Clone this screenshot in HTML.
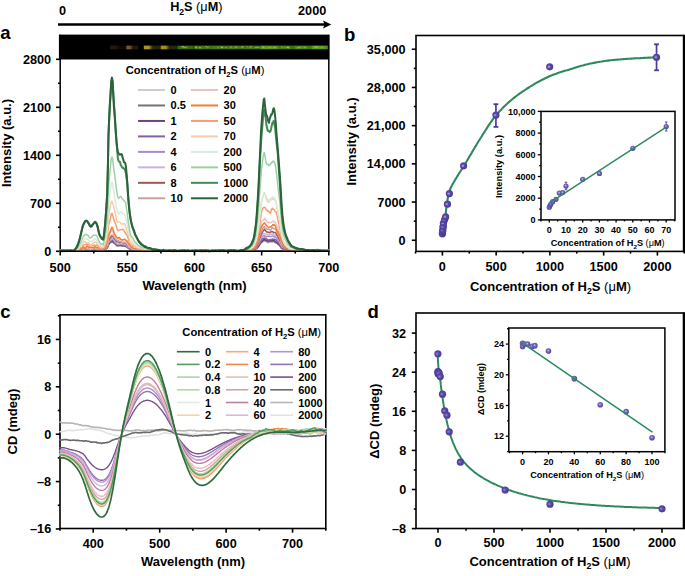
<!DOCTYPE html>
<html><head><meta charset="utf-8"><style>
html,body{margin:0;padding:0;background:#fff;}
body{width:685px;height:576px;overflow:hidden;}
svg{display:block;font-family:"Liberation Sans", sans-serif;}
</style></head><body>
<svg width="685" height="576" viewBox="0 0 685 576" font-family='"Liberation Sans", sans-serif'>
<rect width="685" height="576" fill="#fff"/>
<defs>
<radialGradient id="ball" cx="0.4" cy="0.45" r="0.65">
<stop offset="0" stop-color="#7a6ac0"/>
<stop offset="0.4" stop-color="#5846a6"/>
<stop offset="1" stop-color="#483896"/>
</radialGradient>
<radialGradient id="ball2" cx="0.45" cy="0.42" r="0.6">
<stop offset="0" stop-color="#d8d2f0"/>
<stop offset="0.35" stop-color="#7a6ac0"/>
<stop offset="1" stop-color="#4e3e9e"/>
</radialGradient>
</defs>
<text x="0.2" y="38.6" font-size="18.5" text-anchor="start" font-weight="bold" >a</text>
<text x="344" y="41" font-size="18.5" text-anchor="start" font-weight="bold" >b</text>
<text x="0.2" y="318.2" font-size="18.5" text-anchor="start" font-weight="bold" >c</text>
<text x="367.6" y="317.9" font-size="18.5" text-anchor="start" font-weight="bold" >d</text>
<text x="59" y="15.3" font-size="12.7" text-anchor="start" font-weight="bold" >0</text>
<text x="326.3" y="15.3" font-size="12.7" text-anchor="end" font-weight="bold" >2000</text>
<text x="196.3" y="11.3" font-size="12.7" text-anchor="middle" font-weight="bold" >H<tspan font-size="8.64" dy="3.43">2</tspan><tspan dy="-3.43">S </tspan><tspan font-weight="normal">(μ</tspan>M<tspan font-weight="normal">)</tspan></text>
<line x1="58" y1="24.5" x2="325" y2="24.5" stroke="#000" stroke-width="2.5" />
<path d="M323,20.6 L331.3,24.5 L323,28.4 L324.6,24.5 Z" fill="#000"/>
<rect x="58.9" y="34.599999999999994" width="270.3" height="24.9" fill="#000"/>
<defs><linearGradient id="sg0" x1="0" x2="1" y1="0" y2="0"><stop offset="0" stop-color="#201808"/><stop offset="0.35" stop-color="#201808"/><stop offset="0.55" stop-color="#100c04"/></linearGradient><linearGradient id="sg1" x1="0" x2="1" y1="0" y2="0"><stop offset="0" stop-color="#7a5a1c"/><stop offset="0.3" stop-color="#7a5a1c"/><stop offset="0.55" stop-color="#1c1a10"/></linearGradient><linearGradient id="sg2" x1="0" x2="1" y1="0" y2="0"><stop offset="0" stop-color="#a89820"/><stop offset="0.3" stop-color="#a89820"/><stop offset="0.55" stop-color="#2a2408"/></linearGradient><linearGradient id="sg3" x1="0" x2="1" y1="0" y2="0"><stop offset="0" stop-color="#a09018"/><stop offset="0.3" stop-color="#a09018"/><stop offset="0.55" stop-color="#2a2608"/></linearGradient><linearGradient id="sg4" x1="0" x2="1" y1="0" y2="0"><stop offset="0" stop-color="#3a6a12"/><stop offset="0.35" stop-color="#3a6a12"/><stop offset="1" stop-color="#3a6812"/></linearGradient><linearGradient id="sg5" x1="0" x2="1" y1="0" y2="0"><stop offset="0" stop-color="#3e7a14"/><stop offset="0.35" stop-color="#3e7a14"/><stop offset="1" stop-color="#3a7012"/></linearGradient><linearGradient id="sg6" x1="0" x2="1" y1="0" y2="0"><stop offset="0" stop-color="#3e7c14"/><stop offset="0.35" stop-color="#3e7c14"/><stop offset="1" stop-color="#3a7012"/></linearGradient><linearGradient id="sg7" x1="0" x2="1" y1="0" y2="0"><stop offset="0" stop-color="#427e14"/><stop offset="0.35" stop-color="#427e14"/><stop offset="1" stop-color="#3a7012"/></linearGradient><linearGradient id="sg8" x1="0" x2="1" y1="0" y2="0"><stop offset="0" stop-color="#3e7a14"/><stop offset="0.35" stop-color="#3e7a14"/><stop offset="1" stop-color="#3a7012"/></linearGradient><linearGradient id="sg9" x1="0" x2="1" y1="0" y2="0"><stop offset="0" stop-color="#58a01a"/><stop offset="0.35" stop-color="#58a01a"/><stop offset="1" stop-color="#4c8e18"/></linearGradient><linearGradient id="sg10" x1="0" x2="1" y1="0" y2="0"><stop offset="0" stop-color="#427e14"/><stop offset="0.35" stop-color="#427e14"/><stop offset="1" stop-color="#3a7012"/></linearGradient><linearGradient id="sg11" x1="0" x2="1" y1="0" y2="0"><stop offset="0" stop-color="#4a8a16"/><stop offset="0.35" stop-color="#4a8a16"/><stop offset="1" stop-color="#3e7814"/></linearGradient><linearGradient id="sg12" x1="0" x2="1" y1="0" y2="0"><stop offset="0" stop-color="#58a01a"/><stop offset="0.35" stop-color="#58a01a"/><stop offset="1" stop-color="#4c9018"/></linearGradient></defs>
<g filter="url(#blur1)">
<rect x="110" y="45.6" width="15.8" height="3.7" fill="url(#sg0)"/>
<rect x="126.3" y="45.6" width="12" height="3.7" fill="url(#sg1)"/>
<rect x="143.8" y="45.6" width="16.4" height="3.7" fill="url(#sg2)"/>
<rect x="160.6" y="45.6" width="16.3" height="3.7" fill="url(#sg3)"/>
<rect x="177.4" y="45.6" width="16.3" height="3.7" fill="url(#sg4)"/>
<rect x="181.29" y="46.15" width="2.31" height="1.3" fill="#98c060" opacity="0.71"/>
<rect x="184.75" y="46.82" width="1.92" height="1.3" fill="#98c060" opacity="0.53"/>
<rect x="182.26" y="46" width="1.28" height="1.3" fill="#98c060" opacity="0.63"/>
<rect x="184.14" y="46.96" width="1.24" height="1.3" fill="#98c060" opacity="0.42"/>
<rect x="183.79" y="46.65" width="1.44" height="1.3" fill="#98c060" opacity="0.56"/>
<rect x="186.2" y="46.24" width="1.4" height="1.3" fill="#98c060" opacity="0.41"/>
<rect x="182.66" y="46.1" width="1.22" height="1.3" fill="#98c060" opacity="0.73"/>
<rect x="194.1" y="45.6" width="17.7" height="3.7" fill="url(#sg5)"/>
<rect x="208.93" y="45.93" width="1.28" height="1.3" fill="#98c060" opacity="0.39"/>
<rect x="205.18" y="45.93" width="2.17" height="1.3" fill="#98c060" opacity="0.56"/>
<rect x="195.12" y="46.67" width="1.77" height="1.3" fill="#98c060" opacity="0.74"/>
<rect x="198.83" y="46.94" width="2.2" height="1.3" fill="#98c060" opacity="0.72"/>
<rect x="195.13" y="47.08" width="1.7" height="1.3" fill="#98c060" opacity="0.48"/>
<rect x="206.82" y="46.83" width="1.82" height="1.3" fill="#98c060" opacity="0.52"/>
<rect x="195.52" y="46.03" width="1.13" height="1.3" fill="#98c060" opacity="0.41"/>
<rect x="211.5" y="45.6" width="16.6" height="3.7" fill="url(#sg6)"/>
<rect x="225.33" y="46.88" width="1.95" height="1.3" fill="#98c060" opacity="0.55"/>
<rect x="220.95" y="47.01" width="2.22" height="1.3" fill="#98c060" opacity="0.71"/>
<rect x="223.47" y="46.33" width="1.14" height="1.3" fill="#98c060" opacity="0.32"/>
<rect x="219.77" y="45.96" width="2.19" height="1.3" fill="#98c060" opacity="0.38"/>
<rect x="217.36" y="46.85" width="1.37" height="1.3" fill="#98c060" opacity="0.46"/>
<rect x="221" y="46.6" width="1.74" height="1.3" fill="#98c060" opacity="0.72"/>
<rect x="225.05" y="46.91" width="1.17" height="1.3" fill="#98c060" opacity="0.46"/>
<rect x="227.8" y="45.6" width="16.7" height="3.7" fill="url(#sg7)"/>
<rect x="230.15" y="46.51" width="1.58" height="1.3" fill="#98c060" opacity="0.73"/>
<rect x="233.78" y="46.93" width="1.02" height="1.3" fill="#98c060" opacity="0.35"/>
<rect x="235.21" y="46.52" width="2.27" height="1.3" fill="#98c060" opacity="0.5"/>
<rect x="239.53" y="46.59" width="1.03" height="1.3" fill="#98c060" opacity="0.49"/>
<rect x="242" y="45.96" width="2.2" height="1.3" fill="#98c060" opacity="0.39"/>
<rect x="234.86" y="46.3" width="2.05" height="1.3" fill="#98c060" opacity="0.46"/>
<rect x="241.15" y="46.39" width="2.43" height="1.3" fill="#98c060" opacity="0.7"/>
<rect x="244.2" y="45.6" width="16.7" height="3.7" fill="url(#sg8)"/>
<rect x="249.63" y="46.53" width="1.12" height="1.3" fill="#98c060" opacity="0.6"/>
<rect x="257.17" y="46.82" width="2.45" height="1.3" fill="#98c060" opacity="0.64"/>
<rect x="254.71" y="46.82" width="2.05" height="1.3" fill="#98c060" opacity="0.74"/>
<rect x="250.21" y="46.19" width="1.12" height="1.3" fill="#98c060" opacity="0.4"/>
<rect x="250.07" y="45.97" width="2.22" height="1.3" fill="#98c060" opacity="0.5"/>
<rect x="256.1" y="45.98" width="1.4" height="1.3" fill="#98c060" opacity="0.41"/>
<rect x="246.34" y="46.1" width="2.21" height="1.3" fill="#98c060" opacity="0.39"/>
<rect x="260.6" y="45.6" width="17.6" height="3.7" fill="url(#sg9)"/>
<rect x="273.25" y="46.61" width="2.22" height="1.3" fill="#98c060" opacity="0.71"/>
<rect x="262.46" y="46.59" width="2.45" height="1.3" fill="#98c060" opacity="0.44"/>
<rect x="273.41" y="47.08" width="1.99" height="1.3" fill="#98c060" opacity="0.35"/>
<rect x="269.91" y="46.68" width="1.71" height="1.3" fill="#98c060" opacity="0.41"/>
<rect x="262.05" y="46.34" width="1.82" height="1.3" fill="#98c060" opacity="0.7"/>
<rect x="268.17" y="46.66" width="1.63" height="1.3" fill="#98c060" opacity="0.54"/>
<rect x="275.35" y="46.5" width="2.18" height="1.3" fill="#98c060" opacity="0.4"/>
<rect x="277.9" y="45.6" width="16.7" height="3.7" fill="url(#sg10)"/>
<rect x="286.99" y="46.81" width="2.12" height="1.3" fill="#98c060" opacity="0.75"/>
<rect x="281.83" y="46.41" width="1.64" height="1.3" fill="#98c060" opacity="0.44"/>
<rect x="283.8" y="46.55" width="1.72" height="1.3" fill="#98c060" opacity="0.42"/>
<rect x="280.7" y="46.06" width="1.45" height="1.3" fill="#98c060" opacity="0.44"/>
<rect x="288" y="47.1" width="1.9" height="1.3" fill="#98c060" opacity="0.55"/>
<rect x="286.25" y="46.77" width="1.96" height="1.3" fill="#98c060" opacity="0.58"/>
<rect x="286.79" y="46.33" width="1.91" height="1.3" fill="#98c060" opacity="0.65"/>
<rect x="294.3" y="45.6" width="17.7" height="3.7" fill="url(#sg11)"/>
<rect x="304.01" y="46.19" width="1.46" height="1.3" fill="#98c060" opacity="0.33"/>
<rect x="300.31" y="46.1" width="1.02" height="1.3" fill="#98c060" opacity="0.33"/>
<rect x="299.31" y="46.61" width="1.52" height="1.3" fill="#98c060" opacity="0.65"/>
<rect x="304.3" y="46.97" width="1.24" height="1.3" fill="#98c060" opacity="0.63"/>
<rect x="302.47" y="46.51" width="1.97" height="1.3" fill="#98c060" opacity="0.38"/>
<rect x="304.54" y="46.82" width="2.48" height="1.3" fill="#98c060" opacity="0.38"/>
<rect x="297.02" y="46.99" width="2.4" height="1.3" fill="#98c060" opacity="0.64"/>
<rect x="311.7" y="45.6" width="16.1" height="3.7" fill="url(#sg12)"/>
<rect x="322.43" y="46.87" width="1.21" height="1.3" fill="#98c060" opacity="0.39"/>
<rect x="314.68" y="45.9" width="1.61" height="1.3" fill="#98c060" opacity="0.68"/>
<rect x="314.76" y="46.6" width="2.11" height="1.3" fill="#98c060" opacity="0.65"/>
<rect x="320.38" y="46.36" width="2.44" height="1.3" fill="#98c060" opacity="0.52"/>
<rect x="317.03" y="46.26" width="2.11" height="1.3" fill="#98c060" opacity="0.66"/>
<rect x="313.8" y="46.43" width="1.35" height="1.3" fill="#98c060" opacity="0.36"/>
<rect x="315.3" y="46.35" width="2.26" height="1.3" fill="#98c060" opacity="0.4"/>
</g>
<defs><filter id="blur1" x="-0.1" y="-1" width="1.2" height="3"><feGaussianBlur stdDeviation="0.65"/></filter></defs>
<line x1="60.2" y1="34.8" x2="60.2" y2="252.1" stroke="#000" stroke-width="1.5" />
<line x1="328.8" y1="34.8" x2="328.8" y2="252.1" stroke="#000" stroke-width="1.5" />
<line x1="59.4" y1="251.3" x2="329.6" y2="251.3" stroke="#000" stroke-width="1.5" />
<line x1="56" y1="251.3" x2="60.2" y2="251.3" stroke="#000" stroke-width="1.6" />
<line x1="56" y1="203.3" x2="60.2" y2="203.3" stroke="#000" stroke-width="1.6" />
<line x1="56" y1="155.3" x2="60.2" y2="155.3" stroke="#000" stroke-width="1.6" />
<line x1="56" y1="107.3" x2="60.2" y2="107.3" stroke="#000" stroke-width="1.6" />
<line x1="56" y1="59.3" x2="60.2" y2="59.3" stroke="#000" stroke-width="1.6" />
<line x1="58" y1="227.3" x2="60.2" y2="227.3" stroke="#000" stroke-width="1.6" />
<line x1="58" y1="179.3" x2="60.2" y2="179.3" stroke="#000" stroke-width="1.6" />
<line x1="58" y1="131.3" x2="60.2" y2="131.3" stroke="#000" stroke-width="1.6" />
<line x1="58" y1="83.3" x2="60.2" y2="83.3" stroke="#000" stroke-width="1.6" />
<line x1="60.2" y1="251.3" x2="60.2" y2="255.5" stroke="#000" stroke-width="1.6" />
<line x1="127.35" y1="251.3" x2="127.35" y2="255.5" stroke="#000" stroke-width="1.6" />
<line x1="194.5" y1="251.3" x2="194.5" y2="255.5" stroke="#000" stroke-width="1.6" />
<line x1="261.65" y1="251.3" x2="261.65" y2="255.5" stroke="#000" stroke-width="1.6" />
<line x1="328.8" y1="251.3" x2="328.8" y2="255.5" stroke="#000" stroke-width="1.6" />
<line x1="93.78" y1="251.3" x2="93.78" y2="253.5" stroke="#000" stroke-width="1.6" />
<line x1="160.93" y1="251.3" x2="160.93" y2="253.5" stroke="#000" stroke-width="1.6" />
<line x1="228.07" y1="251.3" x2="228.07" y2="253.5" stroke="#000" stroke-width="1.6" />
<line x1="295.23" y1="251.3" x2="295.23" y2="253.5" stroke="#000" stroke-width="1.6" />
<text x="51.2" y="255.8" font-size="12.7" text-anchor="end" font-weight="bold" >0</text>
<text x="51.2" y="207.8" font-size="12.7" text-anchor="end" font-weight="bold" >700</text>
<text x="51.2" y="159.8" font-size="12.7" text-anchor="end" font-weight="bold" >1400</text>
<text x="51.2" y="111.8" font-size="12.7" text-anchor="end" font-weight="bold" >2100</text>
<text x="51.2" y="63.8" font-size="12.7" text-anchor="end" font-weight="bold" >2800</text>
<text x="60.2" y="271.6" font-size="12.7" text-anchor="middle" font-weight="bold" >500</text>
<text x="127.35" y="271.6" font-size="12.7" text-anchor="middle" font-weight="bold" >550</text>
<text x="194.5" y="271.6" font-size="12.7" text-anchor="middle" font-weight="bold" >600</text>
<text x="261.65" y="271.6" font-size="12.7" text-anchor="middle" font-weight="bold" >650</text>
<text x="328.8" y="271.6" font-size="12.7" text-anchor="middle" font-weight="bold" >700</text>
<text x="194.5" y="290.2" font-size="13" text-anchor="middle" font-weight="bold" >Wavelength (nm)</text>
<text transform="translate(10.8,143) rotate(-90)" font-size="13" text-anchor="middle" font-weight="bold">Intensity (a.u.)</text>
<text x="195" y="74.2" font-size="11.2" text-anchor="middle" font-weight="bold" >Concentration of H<tspan font-size="7.62" dy="3.02">2</tspan><tspan dy="-3.02">S </tspan><tspan font-weight="normal">(μ</tspan>M<tspan font-weight="normal">)</tspan></text>
<line x1="138" y1="90" x2="165" y2="90" stroke="#cdcdcd" stroke-width="2" />
<text x="170.6" y="94" font-size="11" text-anchor="start" font-weight="bold" >0</text>
<line x1="138" y1="105.47" x2="165" y2="105.47" stroke="#737373" stroke-width="2" />
<text x="170.6" y="109.47" font-size="11" text-anchor="start" font-weight="bold" >0.5</text>
<line x1="138" y1="120.94" x2="165" y2="120.94" stroke="#6a4478" stroke-width="2" />
<text x="170.6" y="124.94" font-size="11" text-anchor="start" font-weight="bold" >1</text>
<line x1="138" y1="136.41" x2="165" y2="136.41" stroke="#8a5ea3" stroke-width="2" />
<text x="170.6" y="140.41" font-size="11" text-anchor="start" font-weight="bold" >2</text>
<line x1="138" y1="151.88" x2="165" y2="151.88" stroke="#a98cc4" stroke-width="2" />
<text x="170.6" y="155.88" font-size="11" text-anchor="start" font-weight="bold" >4</text>
<line x1="138" y1="167.35" x2="165" y2="167.35" stroke="#cbb4da" stroke-width="2" />
<text x="170.6" y="171.35" font-size="11" text-anchor="start" font-weight="bold" >6</text>
<line x1="138" y1="182.82" x2="165" y2="182.82" stroke="#a55452" stroke-width="2" />
<text x="170.6" y="186.82" font-size="11" text-anchor="start" font-weight="bold" >8</text>
<line x1="138" y1="198.29" x2="165" y2="198.29" stroke="#c9a09e" stroke-width="2" />
<text x="170.6" y="202.29" font-size="11" text-anchor="start" font-weight="bold" >10</text>
<line x1="191" y1="90" x2="218" y2="90" stroke="#e7c5c2" stroke-width="2" />
<text x="223.6" y="94" font-size="11" text-anchor="start" font-weight="bold" >20</text>
<line x1="191" y1="105.47" x2="218" y2="105.47" stroke="#f07d3c" stroke-width="2" />
<text x="223.6" y="109.47" font-size="11" text-anchor="start" font-weight="bold" >30</text>
<line x1="191" y1="120.94" x2="218" y2="120.94" stroke="#f59f6d" stroke-width="2" />
<text x="223.6" y="124.94" font-size="11" text-anchor="start" font-weight="bold" >50</text>
<line x1="191" y1="136.41" x2="218" y2="136.41" stroke="#f9cba9" stroke-width="2" />
<text x="223.6" y="140.41" font-size="11" text-anchor="start" font-weight="bold" >70</text>
<line x1="191" y1="151.88" x2="218" y2="151.88" stroke="#d5eddd" stroke-width="2" />
<text x="223.6" y="155.88" font-size="11" text-anchor="start" font-weight="bold" >200</text>
<line x1="191" y1="167.35" x2="218" y2="167.35" stroke="#9fd0a3" stroke-width="2" />
<text x="223.6" y="171.35" font-size="11" text-anchor="start" font-weight="bold" >500</text>
<line x1="191" y1="182.82" x2="218" y2="182.82" stroke="#3f8c51" stroke-width="2" />
<text x="223.6" y="186.82" font-size="11" text-anchor="start" font-weight="bold" >1000</text>
<line x1="191" y1="198.29" x2="218" y2="198.29" stroke="#2e623c" stroke-width="2" />
<text x="223.6" y="202.29" font-size="11" text-anchor="start" font-weight="bold" >2000</text>
<path d="M60.2,250.3 60.9,250.6 61.5,250.8 62.2,250.8 62.9,250.8 63.6,250.9 64.2,251 64.9,250.9 65.6,250.8 66.2,250.6 66.9,250.8 67.6,250.8 68.3,250.7 68.9,250.7 69.6,251 70.3,250.9 70.9,250.9 71.6,250.6 72.3,250.9 73,250.7 73.6,250.7 74.3,250.5 75,250.4 75.6,250.4 76.3,250.5 77,250.8 77.7,251.1 78.3,250.6 79,250.5 79.7,250.2 80.3,250.1 81,250.1 81.7,249.8 82.4,250.1 83,249.8 83.7,250 84.4,249.4 85,249 85.7,248.8 86.4,248.9 87.1,249.2 87.7,249.1 88.4,249.4 89.1,249.7 89.7,250.1 90.4,250 91.1,249.4 91.8,249.1 92.4,249.1 93.1,249.1 93.8,249.1 94.4,249 95.1,249.2 95.8,249.3 96.5,249.4 97.1,249.8 97.8,249.8 98.5,249.9 99.1,249.6 99.8,249.9 100.5,250.2 101.2,250.5 101.8,250.2 102.5,250 103.2,250.1 103.8,250.4 104.5,250.2 105.2,249.7 105.9,249.3 106.5,248.5 107.2,247.9 107.9,246.3 108.5,244.8 109.2,243.6 109.9,243 110.6,242.5 111.2,242.1 111.9,241.9 112.6,242.5 113.2,243.1 113.9,243.4 114.6,243.5 115.3,244.3 115.9,245 116.6,245.6 117.3,245.8 117.9,245.7 118.6,245.4 119.3,245.3 120,245.4 120.6,245.6 121.3,245.8 122,245.9 122.6,246.2 123.3,246.3 124,246 124.7,245.8 125.3,245.9 126,246.6 126.7,247.3 127.4,247.6 128,247.9 128.7,248.5 129.4,248.8 130,249.2 130.7,249 131.4,249.2 132.1,249 132.7,249.4 133.4,249.6 134.1,249.9 134.7,249.7 135.4,249.7 136.1,250 136.8,250.2 137.4,250.3 138.1,250.3 138.8,250.4 139.4,250.2 140.1,250.3 140.8,250.3 141.5,250.5 142.1,250.5 142.8,250.4 143.5,250.4 144.1,250.3 144.8,250.3 145.5,250.3 146.2,250.3 146.8,250.5 147.5,250.7 148.2,250.8 148.8,250.7 149.5,250.8 150.2,251 150.9,251 151.5,251.1 152.2,251.1 152.9,251.1 153.5,251 154.2,250.7 154.9,250.8 155.6,250.9 156.2,251.1 156.9,251.1 157.6,251 158.2,250.9 158.9,250.9 159.6,251.1 160.3,251 160.9,251.2 161.6,251 162.3,250.9 162.9,250.5 163.6,250.2 164.3,250.6 165,250.6 165.6,250.7 166.3,250.3 167,250.6 167.6,250.7 168.3,250.6 169,250.6 169.7,250.6 170.3,250.7 171,250.6 171.7,250.6 172.3,250.9 173,250.9 173.7,251.1 174.4,251 175,250.9 175.7,250.6 176.4,250.8 177,250.8 177.7,250.8 178.4,250.6 179.1,250.7 179.7,250.8 180.4,250.9 181.1,250.7 181.7,250.7 182.4,250.5 183.1,250.5 183.8,250.8 184.4,251.2 185.1,251.1 185.8,250.9 186.4,250.5 187.1,250.6 187.8,250.7 188.5,250.7 189.1,250.8 189.8,251 190.5,250.9 191.1,251 191.8,250.6 192.5,250.8 193.2,250.5 193.8,250.8 194.5,250.8 195.2,251 195.8,251 196.5,251.2 197.2,250.9 197.9,250.6 198.5,250.5 199.2,250.7 199.9,250.7 200.5,251 201.2,251 201.9,250.9 202.6,250.8 203.2,250.6 203.9,250.8 204.6,250.8 205.2,250.9 205.9,250.9 206.6,250.7 207.3,250.7 207.9,250.4 208.6,250.5 209.3,250.6 209.9,251 210.6,250.9 211.3,250.8 212,250.8 212.6,250.8 213.3,250.8 214,250.7 214.6,250.7 215.3,250.7 216,250.7 216.7,250.5 217.3,250.5 218,250.4 218.7,250.5 219.3,250.7 220,250.8 220.7,250.8 221.4,251 222,250.9 222.7,250.8 223.4,250.5 224,250.8 224.7,250.6 225.4,250.8 226.1,250.7 226.7,251 227.4,251 228.1,251 228.7,250.8 229.4,250.7 230.1,250.7 230.8,250.5 231.4,250.7 232.1,250.8 232.8,251 233.4,250.8 234.1,250.5 234.8,250.4 235.5,250.7 236.1,250.8 236.8,250.7 237.5,250.5 238.1,250.6 238.8,250.8 239.5,250.8 240.2,250.7 240.8,250.7 241.5,250.4 242.2,250.4 242.8,250.5 243.5,250.6 244.2,250.5 244.9,250.5 245.5,250.6 246.2,251.1 246.9,250.9 247.5,250.9 248.2,250.8 248.9,251.1 249.6,251 250.2,250.6 250.9,250.3 251.6,250.1 252.2,250.3 252.9,250.3 253.6,250.1 254.3,249.7 254.9,249.3 255.6,248.9 256.3,248.7 256.9,248.2 257.6,247.7 258.3,246.4 259,245.4 259.6,244.3 260.3,243.8 261,242.8 261.6,242.5 262.3,242.1 263,241.7 263.7,241.1 264.3,240.8 265,241.1 265.7,241.3 266.4,241.8 267,242.3 267.7,242.8 268.4,242.9 269,242.4 269.7,242.1 270.4,241.9 271.1,242.2 271.7,241.6 272.4,241.4 273.1,241.4 273.7,241.9 274.4,241.8 275.1,241.9 275.8,242.4 276.4,243.2 277.1,243.8 277.8,244.2 278.4,244.8 279.1,245.3 279.8,245.8 280.5,246.3 281.1,247.3 281.8,248 282.5,248.6 283.1,249.2 283.8,249.5 284.5,249.8 285.2,249.7 285.8,250.1 286.5,250 287.2,250.2 287.8,249.8 288.5,250 289.2,250.3 289.9,250.8 290.5,250.8 291.2,250.8 291.9,250.6 292.5,250.4 293.2,250.1 293.9,250.3 294.6,250 295.2,250 295.9,250 296.6,250.7 297.2,251 297.9,250.9 298.6,251 299.3,250.9 299.9,251 300.6,250.8 301.3,250.7 301.9,250.5 302.6,250.5 303.3,250.6 304,250.8 304.6,250.9 305.3,250.9 306,250.7 306.6,250.7 307.3,251 308,251 308.7,251.2 309.3,250.8 310,250.7 310.7,250.4 311.3,250.6 312,251.1 312.7,250.9 313.4,250.8 314,250.5 314.7,250.5 315.4,250.5 316,250.7 316.7,250.9 317.4,251.3 318.1,251.5 318.7,251.4 319.4,251 320.1,250.7 320.7,250.7 321.4,250.7 322.1,250.6 322.8,250.7 323.4,250.8 324.1,251.1 324.8,250.9 325.4,250.8 326.1,250.5 326.8,250.5 327.5,250.3 328.1,250.4 328.8,250.6" fill="none" stroke="#cdcdcd" stroke-width="1.5" stroke-linejoin="round" stroke-linecap="round" />
<path d="M60.2,250.7 60.9,250.8 61.5,250.9 62.2,250.9 62.9,250.8 63.6,250.9 64.2,250.6 64.9,250.8 65.6,250.6 66.2,250.5 66.9,250.5 67.6,250.9 68.3,251.1 68.9,250.9 69.6,250.7 70.3,250.8 70.9,250.8 71.6,251.1 72.3,251.2 73,251.4 73.6,251 74.3,251 75,250.9 75.6,251 76.3,251 77,250.8 77.7,250.8 78.3,250.5 79,250.5 79.7,250.2 80.3,250 81,249.7 81.7,249.6 82.4,249.5 83,249.4 83.7,249.3 84.4,249.1 85,249.2 85.7,249.3 86.4,249.2 87.1,248.8 87.7,248.9 88.4,249 89.1,249.5 89.7,249.3 90.4,249.4 91.1,249.1 91.8,249.6 92.4,249.7 93.1,250 93.8,249.5 94.4,249.5 95.1,249.5 95.8,249.4 96.5,249.1 97.1,249.5 97.8,249.7 98.5,250.1 99.1,249.8 99.8,249.9 100.5,250.3 101.2,250.5 101.8,250.4 102.5,250 103.2,249.9 103.8,249.9 104.5,249.8 105.2,249.5 105.9,248.8 106.5,248.3 107.2,247.8 107.9,246.4 108.5,245.1 109.2,243.9 109.9,243 110.6,242.4 111.2,241.9 111.9,242.1 112.6,241.8 113.2,242.3 113.9,242.8 114.6,243.3 115.3,244.1 115.9,244.7 116.6,245.4 117.3,245.7 117.9,245.8 118.6,245.7 119.3,245.8 120,245.7 120.6,245.6 121.3,245.6 122,246 122.6,246.1 123.3,245.9 124,245.7 124.7,246.2 125.3,246.4 126,246.4 126.7,246.9 127.4,247.3 128,248.1 128.7,248.4 129.4,248.7 130,249.2 130.7,249.2 131.4,249.3 132.1,249.2 132.7,249.5 133.4,250 134.1,250.3 134.7,250.6 135.4,250.2 136.1,250.1 136.8,250.1 137.4,250.5 138.1,250.7 138.8,250.6 139.4,250.7 140.1,250.3 140.8,250.4 141.5,250.4 142.1,250.6 142.8,250.3 143.5,250 144.1,250.2 144.8,250.4 145.5,250.5 146.2,250.4 146.8,250.4 147.5,250.6 148.2,250.9 148.8,250.9 149.5,250.9 150.2,250.6 150.9,250.6 151.5,250.6 152.2,250.8 152.9,250.9 153.5,250.8 154.2,250.6 154.9,250.8 155.6,251 156.2,251.1 156.9,250.9 157.6,250.7 158.2,250.7 158.9,250.7 159.6,250.6 160.3,250.8 160.9,250.7 161.6,251 162.3,251 162.9,250.9 163.6,250.7 164.3,250.9 165,251.1 165.6,251.1 166.3,250.7 167,250.7 167.6,250.7 168.3,251.1 169,250.6 169.7,250.5 170.3,250.2 171,250.5 171.7,250.4 172.3,250.4 173,250.6 173.7,250.6 174.4,250.7 175,250.5 175.7,250.7 176.4,250.7 177,250.8 177.7,250.6 178.4,250.5 179.1,250.7 179.7,250.8 180.4,250.9 181.1,250.6 181.7,250.4 182.4,250.2 183.1,250.4 183.8,250.6 184.4,250.6 185.1,250.4 185.8,250.3 186.4,250.4 187.1,250.5 187.8,250.7 188.5,250.5 189.1,250.8 189.8,250.9 190.5,250.9 191.1,250.8 191.8,250.4 192.5,250.5 193.2,250.5 193.8,250.9 194.5,251.2 195.2,251.4 195.8,251.2 196.5,251.1 197.2,250.7 197.9,250.6 198.5,250.4 199.2,250.4 199.9,250.5 200.5,250.3 201.2,250.6 201.9,250.5 202.6,250.8 203.2,250.7 203.9,250.9 204.6,250.7 205.2,250.7 205.9,250.7 206.6,250.6 207.3,250.6 207.9,250.5 208.6,250.7 209.3,250.8 209.9,250.8 210.6,250.7 211.3,250.7 212,251 212.6,250.7 213.3,250.8 214,250.6 214.6,250.6 215.3,250.6 216,250.5 216.7,250.8 217.3,250.9 218,251.2 218.7,251.1 219.3,250.8 220,250.6 220.7,250.5 221.4,250.7 222,250.9 222.7,251.1 223.4,250.9 224,250.7 224.7,250.6 225.4,250.6 226.1,250.7 226.7,250.7 227.4,250.6 228.1,250.7 228.7,250.6 229.4,250.6 230.1,250.5 230.8,250.4 231.4,250.7 232.1,250.5 232.8,250.9 233.4,251 234.1,251.4 234.8,250.8 235.5,250.6 236.1,250.5 236.8,250.9 237.5,250.9 238.1,250.9 238.8,250.8 239.5,251 240.2,251.2 240.8,251 241.5,250.8 242.2,250.6 242.8,250.6 243.5,250.9 244.2,250.9 244.9,251 245.5,250.8 246.2,250.7 246.9,250.6 247.5,250.7 248.2,250.6 248.9,250.4 249.6,250.3 250.2,250.9 250.9,250.9 251.6,250.6 252.2,249.9 252.9,249.9 253.6,249.9 254.3,249.9 254.9,249.5 255.6,249.2 256.3,248.7 256.9,248.5 257.6,247.6 258.3,247 259,245.8 259.6,245 260.3,243.8 261,242.8 261.6,241.7 262.3,241.4 263,240.8 263.7,240.6 264.3,240.3 265,240.4 265.7,240.9 266.4,240.8 267,241.4 267.7,241.8 268.4,241.9 269,241.4 269.7,241 270.4,240.9 271.1,241.3 271.7,241.6 272.4,241.7 273.1,241.2 273.7,241.4 274.4,241.6 275.1,242.5 275.8,242.5 276.4,242.7 277.1,243.2 277.8,243.9 278.4,244.4 279.1,244.8 279.8,245.6 280.5,246.8 281.1,247.9 281.8,248.3 282.5,248.7 283.1,248.6 283.8,248.9 284.5,249.2 285.2,249.6 285.8,249.7 286.5,249.7 287.2,249.7 287.8,250.2 288.5,250.2 289.2,250.4 289.9,250.6 290.5,250.9 291.2,250.8 291.9,250.2 292.5,250.2 293.2,250.4 293.9,250.5 294.6,250.4 295.2,250.3 295.9,250.7 296.6,250.9 297.2,250.7 297.9,250.6 298.6,250.5 299.3,250.8 299.9,250.6 300.6,250.6 301.3,250.4 301.9,250.6 302.6,250.5 303.3,250.7 304,250.7 304.6,250.5 305.3,250.4 306,250.6 306.6,251 307.3,251 308,250.9 308.7,250.7 309.3,250.8 310,250.9 310.7,250.8 311.3,250.8 312,250.6 312.7,250.7 313.4,250.6 314,250.6 314.7,250.7 315.4,250.7 316,250.7 316.7,250.7 317.4,251.1 318.1,251.1 318.7,251.1 319.4,251 320.1,250.9 320.7,250.7 321.4,250.5 322.1,250.6 322.8,250.6 323.4,250.8 324.1,250.9 324.8,250.8 325.4,250.7 326.1,250.7 326.8,250.7 327.5,250.7 328.1,250.7 328.8,250.9" fill="none" stroke="#737373" stroke-width="1.5" stroke-linejoin="round" stroke-linecap="round" />
<path d="M60.2,251.1 60.9,250.9 61.5,250.6 62.2,250.8 62.9,250.9 63.6,251 64.2,250.9 64.9,250.8 65.6,250.8 66.2,250.9 66.9,250.8 67.6,250.7 68.3,250.8 68.9,250.7 69.6,250.6 70.3,250.4 70.9,250.5 71.6,250.7 72.3,250.9 73,250.8 73.6,251.1 74.3,251 75,251.1 75.6,250.6 76.3,250.5 77,250.5 77.7,250.8 78.3,250.8 79,250.5 79.7,250.1 80.3,249.9 81,249.9 81.7,249.7 82.4,249.4 83,249.3 83.7,249.2 84.4,249 85,248.7 85.7,248.7 86.4,248.9 87.1,249.1 87.7,249.1 88.4,249 89.1,248.7 89.7,249 90.4,249.2 91.1,249.2 91.8,248.9 92.4,249 93.1,249 93.8,248.9 94.4,248.8 95.1,249 95.8,249.3 96.5,249.4 97.1,249.5 97.8,249.2 98.5,249.1 99.1,249.1 99.8,249.5 100.5,249.8 101.2,250 101.8,249.8 102.5,250.1 103.2,250.3 103.8,250.6 104.5,249.9 105.2,249.3 105.9,248.6 106.5,248.3 107.2,247.7 107.9,246.1 108.5,244.3 109.2,243.3 109.9,242 110.6,241.2 111.2,240.6 111.9,240.7 112.6,240.8 113.2,241.1 113.9,241.7 114.6,242.3 115.3,242.8 115.9,243.6 116.6,244.4 117.3,245.4 117.9,245.3 118.6,245.3 119.3,245.1 120,245.4 120.6,245.2 121.3,245.2 122,245.2 122.6,245.2 123.3,245.4 124,245.6 124.7,245.4 125.3,245.4 126,245.6 126.7,246.6 127.4,247.1 128,247.4 128.7,247.7 129.4,248 130,248.5 130.7,249.1 131.4,249.4 132.1,249.2 132.7,249 133.4,249.2 134.1,249.4 134.7,249.7 135.4,249.8 136.1,250.2 136.8,250.2 137.4,250.3 138.1,250.2 138.8,250.1 139.4,249.9 140.1,249.7 140.8,249.9 141.5,250.3 142.1,250.6 142.8,250.8 143.5,250.7 144.1,250.5 144.8,250.4 145.5,250.4 146.2,250.4 146.8,250.5 147.5,250.7 148.2,250.5 148.8,250.3 149.5,250.3 150.2,250.7 150.9,251 151.5,250.8 152.2,250.5 152.9,250.3 153.5,250.2 154.2,250.2 154.9,250.2 155.6,250.3 156.2,250.4 156.9,250.5 157.6,250.9 158.2,251 158.9,250.7 159.6,250.6 160.3,250.6 160.9,250.7 161.6,250.7 162.3,250.6 162.9,250.6 163.6,250.5 164.3,250.3 165,250.6 165.6,250.7 166.3,250.7 167,250.5 167.6,250.4 168.3,250.3 169,250.4 169.7,250.5 170.3,250.8 171,250.7 171.7,250.7 172.3,250.6 173,250.8 173.7,250.9 174.4,251 175,250.9 175.7,250.8 176.4,250.8 177,250.8 177.7,250.7 178.4,250.4 179.1,250.3 179.7,250.5 180.4,250.7 181.1,250.9 181.7,250.8 182.4,250.4 183.1,250.1 183.8,250 184.4,250.1 185.1,250.6 185.8,250.8 186.4,251.1 187.1,250.7 187.8,250.4 188.5,250.4 189.1,250.6 189.8,250.8 190.5,250.7 191.1,250.8 191.8,251 192.5,250.8 193.2,250.9 193.8,250.6 194.5,250.7 195.2,250.5 195.8,250.4 196.5,250.5 197.2,250.7 197.9,250.9 198.5,251 199.2,250.9 199.9,251 200.5,250.8 201.2,250.9 201.9,251 202.6,250.9 203.2,250.5 203.9,250.8 204.6,250.7 205.2,250.7 205.9,250.6 206.6,251 207.3,251.1 207.9,251 208.6,250.7 209.3,250.7 209.9,250.7 210.6,250.7 211.3,250.7 212,250.5 212.6,250.3 213.3,250.1 214,250.2 214.6,250.5 215.3,250.4 216,250.4 216.7,250.3 217.3,250.8 218,250.7 218.7,250.9 219.3,250.8 220,251.1 220.7,251.1 221.4,251 222,251 222.7,251.1 223.4,251.1 224,251.1 224.7,251.1 225.4,251.2 226.1,251.2 226.7,251 227.4,251 228.1,250.7 228.7,250.7 229.4,250.7 230.1,250.8 230.8,251 231.4,251 232.1,251 232.8,251 233.4,250.7 234.1,250.5 234.8,250.7 235.5,250.8 236.1,250.9 236.8,250.6 237.5,250.8 238.1,250.7 238.8,250.9 239.5,250.4 240.2,250.6 240.8,250.7 241.5,250.9 242.2,250.6 242.8,250.5 243.5,250.8 244.2,250.9 244.9,251.1 245.5,250.9 246.2,251.1 246.9,251.1 247.5,251.2 248.2,251.1 248.9,250.9 249.6,250.7 250.2,250.5 250.9,250.6 251.6,250.5 252.2,250.2 252.9,249.7 253.6,249.5 254.3,249.3 254.9,249.1 255.6,248.5 256.3,247.9 256.9,247.4 257.6,247 258.3,246.1 259,244.7 259.6,243.3 260.3,242.9 261,242.2 261.6,242.3 262.3,241.1 263,240.5 263.7,239.5 264.3,239.6 265,239.6 265.7,240.1 266.4,240.1 267,240.5 267.7,240.5 268.4,240.7 269,240.9 269.7,241 270.4,240.8 271.1,240.6 271.7,240.3 272.4,240.2 273.1,240.1 273.7,240.3 274.4,240.7 275.1,241.2 275.8,241.5 276.4,242 277.1,242.7 277.8,243.3 278.4,243.9 279.1,244.4 279.8,245 280.5,245.4 281.1,246.5 281.8,247.3 282.5,248.4 283.1,248.7 283.8,248.9 284.5,248.8 285.2,249.2 285.8,249.5 286.5,249.7 287.2,249.7 287.8,249.6 288.5,250.1 289.2,249.9 289.9,250 290.5,249.9 291.2,250.3 291.9,250.5 292.5,250.6 293.2,250.4 293.9,250.5 294.6,250.5 295.2,250.6 295.9,250.4 296.6,250.6 297.2,250.9 297.9,251.3 298.6,251.1 299.3,251.2 299.9,250.9 300.6,250.8 301.3,250.6 301.9,250.8 302.6,250.8 303.3,250.7 304,250.6 304.6,250.7 305.3,250.6 306,250.9 306.6,250.6 307.3,251.2 308,251 308.7,251.4 309.3,250.8 310,251 310.7,250.5 311.3,250.9 312,250.4 312.7,250.6 313.4,250.4 314,250.6 314.7,250.3 315.4,250.2 316,250.6 316.7,250.8 317.4,250.8 318.1,250.8 318.7,250.8 319.4,251 320.1,250.8 320.7,250.9 321.4,250.8 322.1,250.7 322.8,250.9 323.4,250.8 324.1,250.9 324.8,250.8 325.4,250.6 326.1,250.5 326.8,250.6 327.5,250.9 328.1,251 328.8,251" fill="none" stroke="#6a4478" stroke-width="1.5" stroke-linejoin="round" stroke-linecap="round" />
<path d="M60.2,250.7 60.9,250.7 61.5,250.7 62.2,250.8 62.9,250.8 63.6,250.6 64.2,250.6 64.9,250.7 65.6,250.8 66.2,250.6 66.9,250.4 67.6,250.5 68.3,250.7 68.9,251.1 69.6,251.1 70.3,251.1 70.9,250.8 71.6,250.5 72.3,250.6 73,250.8 73.6,250.9 74.3,250.9 75,250.6 75.6,250.6 76.3,250.4 77,250.3 77.7,250.1 78.3,250.1 79,250 79.7,250 80.3,249.8 81,249.5 81.7,249.2 82.4,249.2 83,249.1 83.7,248.9 84.4,248.5 85,248.6 85.7,248.7 86.4,248.9 87.1,249 87.7,248.9 88.4,249 89.1,249 89.7,249.4 90.4,249.1 91.1,248.9 91.8,248.8 92.4,249.1 93.1,249.1 93.8,248.8 94.4,249 95.1,248.9 95.8,249.2 96.5,249.1 97.1,249.4 97.8,249.4 98.5,249.2 99.1,249.3 99.8,249.4 100.5,249.9 101.2,249.9 101.8,249.9 102.5,250.1 103.2,250.2 103.8,250 104.5,249.7 105.2,249.3 105.9,248.7 106.5,248.2 107.2,247.5 107.9,245.9 108.5,243.6 109.2,242.7 109.9,241.7 110.6,241 111.2,239.8 111.9,239.5 112.6,239.8 113.2,240.6 113.9,241.9 114.6,242.8 115.3,243.7 115.9,244.1 116.6,244.1 117.3,244.7 117.9,244.9 118.6,245.4 119.3,245.4 120,245.1 120.6,244.9 121.3,244.3 122,244.4 122.6,244.7 123.3,245.4 124,245.3 124.7,245.3 125.3,245.3 126,245.9 126.7,246.2 127.4,246.6 128,247.4 128.7,247.9 129.4,248.3 130,248.4 130.7,248.8 131.4,249.1 132.1,249.2 132.7,249.3 133.4,249.2 134.1,249.4 134.7,249.6 135.4,250 136.1,249.9 136.8,250.1 137.4,250 138.1,250.4 138.8,250.2 139.4,250.2 140.1,250.3 140.8,250.5 141.5,250.9 142.1,250.5 142.8,250.5 143.5,250.5 144.1,250.8 144.8,250.6 145.5,250.2 146.2,249.9 146.8,250.3 147.5,250.5 148.2,250.5 148.8,250.5 149.5,250.5 150.2,250.9 150.9,251 151.5,250.8 152.2,250.5 152.9,250.3 153.5,250.4 154.2,250.4 154.9,250.2 155.6,250.3 156.2,250.5 156.9,250.9 157.6,250.7 158.2,250.8 158.9,250.8 159.6,251 160.3,251 160.9,250.6 161.6,250.5 162.3,250.6 162.9,250.8 163.6,251 164.3,251.1 165,251 165.6,250.9 166.3,250.7 167,250.9 167.6,251.1 168.3,251 169,250.9 169.7,250.6 170.3,250.7 171,250.6 171.7,250.8 172.3,250.9 173,251 173.7,250.9 174.4,250.9 175,250.9 175.7,250.9 176.4,250.9 177,251 177.7,251 178.4,251 179.1,251.1 179.7,251.1 180.4,251.1 181.1,250.9 181.7,251.2 182.4,251 183.1,250.8 183.8,250.5 184.4,250.5 185.1,250.8 185.8,250.9 186.4,251 187.1,250.6 187.8,250.6 188.5,250.4 189.1,250.9 189.8,251 190.5,251.2 191.1,250.9 191.8,250.7 192.5,250.5 193.2,250.9 193.8,250.8 194.5,251 195.2,250.5 195.8,250.4 196.5,250.1 197.2,250.2 197.9,250.7 198.5,250.4 199.2,250.5 199.9,250.2 200.5,250.7 201.2,250.7 201.9,251 202.6,251 203.2,251 203.9,250.7 204.6,250.5 205.2,250.5 205.9,250.5 206.6,250.6 207.3,250.4 207.9,250.5 208.6,250.4 209.3,250.9 209.9,251 210.6,251.1 211.3,250.8 212,250.3 212.6,250 213.3,250.2 214,250.8 214.6,251.1 215.3,250.7 216,250.4 216.7,250.3 217.3,250.7 218,251 218.7,251.4 219.3,251.5 220,251.3 220.7,250.8 221.4,250.8 222,250.8 222.7,250.7 223.4,250.5 224,250.5 224.7,250.7 225.4,250.6 226.1,250.6 226.7,250.7 227.4,250.9 228.1,250.9 228.7,250.9 229.4,250.6 230.1,250.5 230.8,250.3 231.4,250.2 232.1,250.1 232.8,250 233.4,250.3 234.1,250.5 234.8,250.4 235.5,250.5 236.1,250.6 236.8,251 237.5,250.9 238.1,250.8 238.8,250.5 239.5,250.5 240.2,250.8 240.8,250.9 241.5,250.8 242.2,250.5 242.8,250.5 243.5,250.6 244.2,250.4 244.9,250.3 245.5,250.6 246.2,250.9 246.9,250.9 247.5,250.9 248.2,250.6 248.9,250.7 249.6,250.3 250.2,250.3 250.9,250.2 251.6,249.9 252.2,249.9 252.9,249.8 253.6,249.8 254.3,249.3 254.9,248.9 255.6,248.7 256.3,248.2 256.9,247.3 257.6,246 258.3,245.1 259,243.9 259.6,243.1 260.3,242.2 261,241 261.6,239.7 262.3,238.9 263,238.4 263.7,238.5 264.3,237.9 265,238.2 265.7,238.3 266.4,239.1 267,239.2 267.7,239.6 268.4,240.1 269,240.1 269.7,239.7 270.4,239.5 271.1,239.4 271.7,239.5 272.4,239.1 273.1,239.1 273.7,239.4 274.4,239.3 275.1,239.4 275.8,239.6 276.4,240.3 277.1,241 277.8,241.6 278.4,242.4 279.1,243.6 279.8,244.5 280.5,245.3 281.1,246 281.8,247.3 282.5,247.8 283.1,248.4 283.8,248.5 284.5,249 285.2,249.4 285.8,249.8 286.5,250 287.2,250 287.8,249.9 288.5,249.7 289.2,249.8 289.9,250 290.5,250.4 291.2,250.4 291.9,250.2 292.5,250.2 293.2,250.3 293.9,250.6 294.6,250.6 295.2,250.5 295.9,250.8 296.6,250.8 297.2,251 297.9,250.9 298.6,250.9 299.3,250.9 299.9,250.5 300.6,250.8 301.3,250.5 301.9,250.5 302.6,250.4 303.3,250.5 304,250.4 304.6,250.2 305.3,250.3 306,250.7 306.6,250.6 307.3,250.8 308,250.5 308.7,250.6 309.3,250.6 310,250.6 310.7,250.6 311.3,250.6 312,250.5 312.7,250.9 313.4,251 314,251.3 314.7,251 315.4,250.3 316,250.1 316.7,250.2 317.4,250.7 318.1,250.6 318.7,250.5 319.4,250.7 320.1,250.7 320.7,250.8 321.4,250.5 322.1,250.9 322.8,251.1 323.4,251.2 324.1,251.1 324.8,250.9 325.4,250.9 326.1,250.6 326.8,250.6 327.5,250.6 328.1,250.6 328.8,250.6" fill="none" stroke="#8a5ea3" stroke-width="1.5" stroke-linejoin="round" stroke-linecap="round" />
<path d="M60.2,250.9 60.9,250.4 61.5,250.2 62.2,250.1 62.9,250.4 63.6,250.7 64.2,250.8 64.9,250.9 65.6,250.6 66.2,250.8 66.9,251.1 67.6,251.3 68.3,251.1 68.9,250.4 69.6,250.2 70.3,250.4 70.9,250.8 71.6,251 72.3,250.9 73,251 73.6,251.1 74.3,251 75,250.8 75.6,250.5 76.3,250.5 77,250.1 77.7,250 78.3,250 79,250 79.7,250.1 80.3,249.8 81,249.9 81.7,249.5 82.4,249.4 83,248.9 83.7,248.8 84.4,248.6 85,248.7 85.7,248.7 86.4,248.7 87.1,248.9 87.7,249 88.4,249.3 89.1,249.4 89.7,249.2 90.4,249.2 91.1,248.9 91.8,248.9 92.4,248.8 93.1,249.1 93.8,249.1 94.4,249.2 95.1,249.4 95.8,249.6 96.5,249.3 97.1,249.1 97.8,249.1 98.5,249.4 99.1,249.9 99.8,250.1 100.5,250.4 101.2,250.1 101.8,250.1 102.5,249.9 103.2,249.9 103.8,249.6 104.5,249.2 105.2,248.7 105.9,248.3 106.5,247.9 107.2,247.1 107.9,244.9 108.5,242.4 109.2,241.3 109.9,240.6 110.6,240 111.2,239.2 111.9,239.1 112.6,239.3 113.2,239.7 113.9,240.2 114.6,240.6 115.3,241.8 115.9,242.8 116.6,243.6 117.3,243.8 117.9,244 118.6,243.9 119.3,244.1 120,243.9 120.6,243.9 121.3,244.1 122,244.3 122.6,244.6 123.3,244.3 124,244.6 124.7,244.6 125.3,244.8 126,245.5 126.7,246.4 127.4,247 128,247.2 128.7,247.3 129.4,247.8 130,248.4 130.7,248.8 131.4,249.2 132.1,249.2 132.7,249.4 133.4,249.4 134.1,249.7 134.7,249.9 135.4,250.4 136.1,250 136.8,250.1 137.4,249.9 138.1,250.5 138.8,250.5 139.4,250.5 140.1,250.3 140.8,250.2 141.5,250.1 142.1,250.3 142.8,250.4 143.5,250.3 144.1,250.3 144.8,250.2 145.5,250.7 146.2,250.7 146.8,250.7 147.5,250.2 148.2,250.7 148.8,250.8 149.5,251 150.2,250.6 150.9,250.7 151.5,250.7 152.2,250.6 152.9,250.5 153.5,250.6 154.2,250.7 154.9,250.8 155.6,250.8 156.2,250.8 156.9,251.1 157.6,250.9 158.2,251 158.9,250.8 159.6,251.2 160.3,251 160.9,251.1 161.6,250.9 162.3,251 162.9,251.1 163.6,251 164.3,250.7 165,250.5 165.6,250.5 166.3,250.8 167,250.9 167.6,250.9 168.3,250.8 169,250.7 169.7,250.7 170.3,250.6 171,250.8 171.7,250.9 172.3,250.9 173,250.8 173.7,250.6 174.4,250.8 175,251 175.7,251 176.4,251.1 177,250.9 177.7,250.8 178.4,250.6 179.1,250.8 179.7,250.8 180.4,250.8 181.1,250.4 181.7,250.5 182.4,250.7 183.1,250.8 183.8,251 184.4,250.8 185.1,251 185.8,250.9 186.4,250.8 187.1,250.6 187.8,250.6 188.5,250.7 189.1,251 189.8,251.2 190.5,251 191.1,250.7 191.8,250.3 192.5,250.6 193.2,250.7 193.8,251 194.5,250.9 195.2,250.8 195.8,250.8 196.5,250.8 197.2,250.9 197.9,250.8 198.5,250.7 199.2,250.3 199.9,250.5 200.5,250.8 201.2,251 201.9,251.1 202.6,250.8 203.2,250.9 203.9,250.7 204.6,251.1 205.2,251 205.9,251 206.6,250.6 207.3,250.6 207.9,250.6 208.6,251.1 209.3,251.2 209.9,251.4 210.6,251.1 211.3,250.9 212,250.7 212.6,250.9 213.3,250.8 214,251.1 214.6,250.6 215.3,250.6 216,250.5 216.7,250.7 217.3,250.8 218,250.8 218.7,250.9 219.3,250.8 220,250.7 220.7,250.5 221.4,250.6 222,250.6 222.7,250.8 223.4,250.3 224,250.5 224.7,250.4 225.4,250.8 226.1,250.5 226.7,250.6 227.4,251 228.1,251.3 228.7,251.3 229.4,251.2 230.1,251.1 230.8,250.8 231.4,250.5 232.1,250.6 232.8,250.6 233.4,250.7 234.1,250.4 234.8,250.5 235.5,250.7 236.1,250.8 236.8,250.6 237.5,250.5 238.1,250.3 238.8,250.3 239.5,250.3 240.2,250.7 240.8,251.1 241.5,251.1 242.2,250.7 242.8,250.9 243.5,250.5 244.2,250.2 244.9,250 245.5,250.6 246.2,251 246.9,250.8 247.5,250.3 248.2,250.1 248.9,250.1 249.6,250.5 250.2,250.5 250.9,250.2 251.6,249.9 252.2,249.7 252.9,249.6 253.6,249.4 254.3,249.3 254.9,248.9 255.6,248.6 256.3,247.5 256.9,246.8 257.6,245.5 258.3,244.6 259,242.8 259.6,241.4 260.3,239.6 261,238.4 261.6,237.5 262.3,236.9 263,236 263.7,235.5 264.3,235.5 265,236.2 265.7,236.3 266.4,236.7 267,236.6 267.7,236.2 268.4,236.3 269,236.2 269.7,236.5 270.4,236.4 271.1,236.4 271.7,236.2 272.4,235.8 273.1,236.2 273.7,236.5 274.4,237.1 275.1,236.9 275.8,237.1 276.4,237.9 277.1,238.6 277.8,239.9 278.4,240.8 279.1,241.8 279.8,242.9 280.5,243.9 281.1,245.5 281.8,246.7 282.5,247.4 283.1,247.7 283.8,248.2 284.5,248.9 285.2,248.8 285.8,249 286.5,249.1 287.2,249.6 287.8,249.8 288.5,249.9 289.2,250 289.9,249.8 290.5,249.9 291.2,249.9 291.9,250.2 292.5,250.2 293.2,250.4 293.9,250.5 294.6,250.4 295.2,250.4 295.9,250.5 296.6,250.6 297.2,250.7 297.9,250.7 298.6,250.8 299.3,250.5 299.9,250.4 300.6,250.3 301.3,250.2 301.9,250.2 302.6,250.5 303.3,250.9 304,250.8 304.6,250.6 305.3,250.3 306,250.5 306.6,250.5 307.3,250.6 308,250.1 308.7,250.2 309.3,250.3 310,250.9 310.7,251.1 311.3,251.2 312,251.1 312.7,251.2 313.4,251.2 314,251.1 314.7,250.9 315.4,250.6 316,250.6 316.7,250.5 317.4,250.5 318.1,250.7 318.7,250.9 319.4,251.2 320.1,251.1 320.7,251.1 321.4,250.9 322.1,250.6 322.8,250.3 323.4,250.2 324.1,250.5 324.8,250.8 325.4,250.8 326.1,250.7 326.8,250.8 327.5,250.7 328.1,250.8 328.8,250.8" fill="none" stroke="#a98cc4" stroke-width="1.5" stroke-linejoin="round" stroke-linecap="round" />
<path d="M60.2,250.3 60.9,250.2 61.5,250.4 62.2,250.7 62.9,251.2 63.6,251.2 64.2,251.3 64.9,251.2 65.6,251.3 66.2,251.2 66.9,250.9 67.6,250.5 68.3,250.4 68.9,250.5 69.6,251 70.3,250.9 70.9,251.1 71.6,251 72.3,251.3 73,250.9 73.6,251 74.3,250.9 75,251.1 75.6,250.7 76.3,250.5 77,250.4 77.7,250.4 78.3,250.2 79,250.1 79.7,250 80.3,249.7 81,249.6 81.7,249 82.4,249.2 83,249.2 83.7,249.3 84.4,249.1 85,248.7 85.7,248.8 86.4,248.6 87.1,249 87.7,248.7 88.4,248.8 89.1,248.8 89.7,248.6 90.4,248.7 91.1,248.5 91.8,249 92.4,248.9 93.1,249 93.8,248.7 94.4,248.7 95.1,248.8 95.8,249.3 96.5,249.5 97.1,249.6 97.8,249.3 98.5,249.3 99.1,249 99.8,249.1 100.5,249.2 101.2,249.5 101.8,249.5 102.5,249.6 103.2,249.8 103.8,249.7 104.5,249.3 105.2,248.5 105.9,247.6 106.5,246.7 107.2,246.4 107.9,244.4 108.5,242.5 109.2,240.8 109.9,240.2 110.6,239.8 111.2,239.5 111.9,239 112.6,238.4 113.2,238.6 113.9,239.7 114.6,240.8 115.3,241.7 115.9,242.1 116.6,242.9 117.3,243.5 117.9,244 118.6,243.8 119.3,243.6 120,243.3 120.6,243.6 121.3,243.6 122,243.9 122.6,243.7 123.3,243.7 124,243.9 124.7,243.9 125.3,244.2 126,244.5 126.7,244.9 127.4,245.4 128,246.1 128.7,247 129.4,247.3 130,247.8 130.7,248 131.4,248.8 132.1,249.3 132.7,249.6 133.4,249.6 134.1,249.4 134.7,249.4 135.4,249.4 136.1,249.5 136.8,249.4 137.4,249.6 138.1,249.8 138.8,250.1 139.4,250.2 140.1,250.1 140.8,250.3 141.5,250.2 142.1,250.4 142.8,250.6 143.5,250.5 144.1,250.6 144.8,250.3 145.5,250.5 146.2,250.7 146.8,250.7 147.5,250.7 148.2,250.3 148.8,250.3 149.5,250.6 150.2,250.6 150.9,250.5 151.5,250.2 152.2,250.3 152.9,250.5 153.5,250.6 154.2,250.7 154.9,250.2 155.6,250.3 156.2,250.4 156.9,250.9 157.6,250.7 158.2,250.6 158.9,250.9 159.6,250.9 160.3,250.8 160.9,250.5 161.6,250.6 162.3,250.8 162.9,250.9 163.6,250.9 164.3,250.8 165,250.6 165.6,250.7 166.3,250.5 167,250.6 167.6,250.9 168.3,250.9 169,251 169.7,250.6 170.3,250.7 171,250.4 171.7,250.6 172.3,250.9 173,251.1 173.7,251 174.4,250.8 175,250.8 175.7,250.6 176.4,250.6 177,250.4 177.7,250.6 178.4,250.8 179.1,251 179.7,251.1 180.4,250.9 181.1,250.8 181.7,251 182.4,251.2 183.1,251.1 183.8,251.1 184.4,251 185.1,250.7 185.8,250.5 186.4,250.5 187.1,250.8 187.8,250.6 188.5,250.4 189.1,250.4 189.8,250.8 190.5,251.2 191.1,251.2 191.8,251 192.5,251 193.2,251.2 193.8,251.2 194.5,251.2 195.2,251.3 195.8,251.3 196.5,250.9 197.2,250.6 197.9,250.5 198.5,250.3 199.2,250.2 199.9,250.4 200.5,250.3 201.2,250.2 201.9,250.1 202.6,250.5 203.2,250.7 203.9,251.1 204.6,251 205.2,251.4 205.9,251.2 206.6,251 207.3,250.6 207.9,250.4 208.6,250.5 209.3,250.5 209.9,250.8 210.6,250.7 211.3,250.7 212,250.5 212.6,250.3 213.3,250.3 214,250.6 214.6,250.8 215.3,250.6 216,250.4 216.7,250.4 217.3,250.5 218,250.4 218.7,250.8 219.3,250.7 220,250.8 220.7,250.3 221.4,250.6 222,250.7 222.7,250.7 223.4,250.8 224,250.7 224.7,250.8 225.4,250.4 226.1,250.4 226.7,250.4 227.4,250.6 228.1,250.7 228.7,250.6 229.4,250.5 230.1,250.7 230.8,250.9 231.4,251.1 232.1,251.2 232.8,251.1 233.4,251 234.1,251 234.8,251.1 235.5,251 236.1,250.9 236.8,250.7 237.5,251 238.1,251 238.8,251.1 239.5,250.6 240.2,250.4 240.8,250.6 241.5,250.8 242.2,250.7 242.8,250.3 243.5,250.5 244.2,250.7 244.9,250.4 245.5,250.4 246.2,250.3 246.9,250.6 247.5,250.6 248.2,250.7 248.9,250.4 249.6,249.9 250.2,249.9 250.9,250 251.6,250.2 252.2,250.2 252.9,249.8 253.6,249.1 254.3,248.3 254.9,248 255.6,247.5 256.3,246.8 256.9,245.7 257.6,244.9 258.3,243.7 259,241.8 259.6,239.7 260.3,238.1 261,236.7 261.6,235.6 262.3,234.4 263,233.7 263.7,233.6 264.3,233.8 265,233.9 265.7,234.1 266.4,234.2 267,234.4 267.7,234.7 268.4,235.3 269,235 269.7,234.6 270.4,234.2 271.1,234.4 271.7,234.1 272.4,233.6 273.1,233.5 273.7,234.5 274.4,235.1 275.1,235 275.8,235.3 276.4,236.2 277.1,237.6 277.8,238.4 278.4,239.1 279.1,240.4 279.8,241.7 280.5,243.3 281.1,244.6 281.8,246 282.5,246.8 283.1,247.3 283.8,247.6 284.5,247.9 285.2,248.3 285.8,248.6 286.5,249.1 287.2,249.2 287.8,249.4 288.5,249.6 289.2,249.9 289.9,249.9 290.5,250 291.2,250 291.9,250.6 292.5,250.7 293.2,250.5 293.9,250.1 294.6,249.9 295.2,250.1 295.9,250.2 296.6,250.6 297.2,250.6 297.9,250.5 298.6,250.4 299.3,250.5 299.9,250.6 300.6,250.5 301.3,250.3 301.9,250.5 302.6,250.3 303.3,250.7 304,250.7 304.6,251 305.3,250.8 306,250.8 306.6,250.6 307.3,250.6 308,250.2 308.7,250.3 309.3,250.3 310,250.6 310.7,250.5 311.3,250.5 312,250.8 312.7,251 313.4,250.9 314,250.6 314.7,250.5 315.4,250.5 316,250.5 316.7,250.7 317.4,250.6 318.1,250.5 318.7,250.3 319.4,250.1 320.1,250.4 320.7,250.5 321.4,250.9 322.1,250.7 322.8,250.8 323.4,250.8 324.1,251 324.8,250.9 325.4,251.1 326.1,251.2 326.8,251.1 327.5,250.8 328.1,250.6 328.8,250.7" fill="none" stroke="#cbb4da" stroke-width="1.5" stroke-linejoin="round" stroke-linecap="round" />
<path d="M60.2,250.9 60.9,250.6 61.5,250.2 62.2,250.6 62.9,250.7 63.6,250.6 64.2,250.5 64.9,250.6 65.6,250.9 66.2,250.7 66.9,250.7 67.6,250.7 68.3,251 68.9,251.2 69.6,251 70.3,250.6 70.9,250.2 71.6,250.2 72.3,250.5 73,250.6 73.6,250.7 74.3,250.6 75,250.3 75.6,250.5 76.3,250.5 77,250.7 77.7,250.5 78.3,250.1 79,250.2 79.7,249.7 80.3,249.5 81,248.9 81.7,248.6 82.4,248.1 83,247.9 83.7,247.9 84.4,248.1 85,247.9 85.7,248.1 86.4,248.2 87.1,248.3 87.7,248.3 88.4,248.2 89.1,248.2 89.7,248.3 90.4,248.5 91.1,248.6 91.8,248.5 92.4,248.3 93.1,248.2 93.8,248.1 94.4,248.5 95.1,248.4 95.8,248.7 96.5,248.6 97.1,248.6 97.8,248.3 98.5,248.5 99.1,249.1 99.8,249.5 100.5,249.7 101.2,249.6 101.8,249.9 102.5,249.7 103.2,249.5 103.8,249.2 104.5,249 105.2,248.8 105.9,247.7 106.5,247.1 107.2,245.9 107.9,243.8 108.5,240.9 109.2,239.4 109.9,238.6 110.6,237.6 111.2,237 111.9,236 112.6,236.2 113.2,237.1 113.9,238.1 114.6,239 115.3,239.9 115.9,240.9 116.6,241.4 117.3,241.3 117.9,241.8 118.6,241.9 119.3,242.5 120,242.4 120.6,242.2 121.3,242.1 122,242 122.6,242.5 123.3,242.9 124,243.1 124.7,243.1 125.3,243.3 126,243.6 126.7,244.5 127.4,245.2 128,246 128.7,246.6 129.4,246.9 130,247.7 130.7,247.9 131.4,248.5 132.1,248.3 132.7,248.5 133.4,248.5 134.1,248.6 134.7,248.9 135.4,249.2 136.1,249.3 136.8,249.4 137.4,249.3 138.1,249.5 138.8,249.5 139.4,249.9 140.1,250.1 140.8,250.6 141.5,250.4 142.1,250.5 142.8,250.6 143.5,251 144.1,250.7 144.8,250.4 145.5,250.4 146.2,250.3 146.8,250.3 147.5,250.1 148.2,250.1 148.8,250.2 149.5,250.4 150.2,250.6 150.9,250.4 151.5,250.4 152.2,250.4 152.9,250.4 153.5,250.4 154.2,250.4 154.9,250.5 155.6,250.5 156.2,250.5 156.9,250.4 157.6,250.2 158.2,250.2 158.9,250.4 159.6,250.5 160.3,250.6 160.9,250.8 161.6,251 162.3,250.8 162.9,250.6 163.6,250.9 164.3,251.1 165,251.1 165.6,250.8 166.3,250.5 167,250.4 167.6,250.1 168.3,250.4 169,250.5 169.7,250.5 170.3,250.4 171,250.6 171.7,250.7 172.3,250.7 173,250.6 173.7,250.8 174.4,250.8 175,250.8 175.7,250.6 176.4,250.6 177,250.8 177.7,250.7 178.4,250.7 179.1,250.7 179.7,250.8 180.4,251 181.1,250.9 181.7,250.7 182.4,250.5 183.1,250.2 183.8,250.3 184.4,250.6 185.1,250.8 185.8,251.2 186.4,250.8 187.1,250.8 187.8,250.3 188.5,250.6 189.1,250.7 189.8,250.8 190.5,251 191.1,250.9 191.8,250.8 192.5,250.9 193.2,250.6 193.8,250.8 194.5,250.5 195.2,250.8 195.8,250.9 196.5,250.9 197.2,250.8 197.9,250.7 198.5,250.7 199.2,250.9 199.9,250.8 200.5,250.8 201.2,250.7 201.9,250.6 202.6,250.8 203.2,250.8 203.9,251.1 204.6,251 205.2,251.1 205.9,251.1 206.6,250.9 207.3,250.8 207.9,251 208.6,250.9 209.3,250.8 209.9,250.5 210.6,250.8 211.3,251 212,250.7 212.6,250.4 213.3,250.2 214,250.6 214.6,250.6 215.3,250.7 216,250.3 216.7,250.6 217.3,250.5 218,250.8 218.7,250.6 219.3,250.8 220,250.6 220.7,250.8 221.4,250.8 222,250.8 222.7,250.8 223.4,250.9 224,251 224.7,251 225.4,250.7 226.1,250.4 226.7,250.5 227.4,250.6 228.1,251.1 228.7,251.2 229.4,251.3 230.1,251.1 230.8,250.9 231.4,250.7 232.1,250.6 232.8,250.4 233.4,250.5 234.1,250.6 234.8,250.8 235.5,250.7 236.1,250.7 236.8,250.7 237.5,251.2 238.1,251.3 238.8,250.9 239.5,250.4 240.2,250.4 240.8,250.8 241.5,250.6 242.2,250.4 242.8,250.4 243.5,250.8 244.2,250.8 244.9,250.9 245.5,250.7 246.2,250.4 246.9,250 247.5,250.1 248.2,250.4 248.9,250.6 249.6,250.4 250.2,250.1 250.9,249.6 251.6,249.5 252.2,249.5 252.9,249.7 253.6,249.2 254.3,248.8 254.9,247.8 255.6,247.6 256.3,246.7 256.9,246.1 257.6,244.4 258.3,242.5 259,240.3 259.6,238.3 260.3,236.7 261,234.7 261.6,233.7 262.3,232.4 263,231.4 263.7,230.3 264.3,229.1 265,229.9 265.7,230.7 266.4,232 267,232 267.7,231.9 268.4,232.6 269,232.4 269.7,232.8 270.4,232 271.1,231.9 271.7,231.4 272.4,231.6 273.1,232 273.7,232.4 274.4,232.4 275.1,232.5 275.8,232.7 276.4,234.2 277.1,235.2 277.8,236.4 278.4,237.9 279.1,239.2 279.8,240.3 280.5,241.5 281.1,243 281.8,244.8 282.5,245.7 283.1,246.7 283.8,247.5 284.5,248.2 285.2,248.5 285.8,248.8 286.5,249.1 287.2,249.1 287.8,249.3 288.5,249.5 289.2,250 289.9,250 290.5,250.3 291.2,250.2 291.9,250.3 292.5,249.8 293.2,250 293.9,250.3 294.6,250.5 295.2,250.4 295.9,250.2 296.6,250.2 297.2,250.3 297.9,250.7 298.6,250.8 299.3,250.7 299.9,250.4 300.6,250.3 301.3,250.2 301.9,250.2 302.6,250.3 303.3,250.7 304,251 304.6,250.9 305.3,250.9 306,250.7 306.6,250.6 307.3,250.3 308,250.3 308.7,250.5 309.3,250.6 310,250.8 310.7,250.7 311.3,250.9 312,250.6 312.7,251 313.4,250.8 314,250.8 314.7,250.5 315.4,250.5 316,250.6 316.7,250.5 317.4,250.3 318.1,250.3 318.7,250.3 319.4,250.6 320.1,250.5 320.7,250.7 321.4,250.8 322.1,250.8 322.8,251 323.4,250.7 324.1,250.9 324.8,251 325.4,251.3 326.1,251.2 326.8,250.9 327.5,250.7 328.1,250.8 328.8,250.9" fill="none" stroke="#a55452" stroke-width="1.5" stroke-linejoin="round" stroke-linecap="round" />
<path d="M60.2,250.6 60.9,250.7 61.5,250.7 62.2,250.7 62.9,250.9 63.6,250.9 64.2,250.9 64.9,250.7 65.6,250.6 66.2,250.7 66.9,250.6 67.6,250.7 68.3,250.3 68.9,250.6 69.6,250.6 70.3,250.9 70.9,250.5 71.6,250.6 72.3,250.7 73,250.7 73.6,250.7 74.3,250.5 75,250.7 75.6,250.5 76.3,250.6 77,250.6 77.7,250.5 78.3,250.1 79,249.7 79.7,249.4 80.3,249.1 81,249 81.7,248.6 82.4,248.5 83,248.3 83.7,248.6 84.4,248.5 85,248.2 85.7,247.9 86.4,248 87.1,248.2 87.7,248.4 88.4,248.3 89.1,248.4 89.7,248.5 90.4,248.4 91.1,248.3 91.8,248.3 92.4,248 93.1,248.1 93.8,248 94.4,247.9 95.1,247.8 95.8,247.9 96.5,248.2 97.1,248.4 97.8,248.8 98.5,248.9 99.1,249.2 99.8,249.3 100.5,249.8 101.2,249.7 101.8,249.8 102.5,249.4 103.2,249.7 103.8,249.1 104.5,249.3 105.2,248.5 105.9,247.8 106.5,246.4 107.2,245.2 107.9,242.6 108.5,239.4 109.2,237.6 109.9,236.4 110.6,235.6 111.2,235.4 111.9,235 112.6,235.2 113.2,235.6 113.9,236.5 114.6,238 115.3,238.7 115.9,239.7 116.6,240.2 117.3,240.8 117.9,240.9 118.6,240.8 119.3,241.4 120,241.7 120.6,241.8 121.3,241.8 122,242.3 122.6,242.5 123.3,242.5 124,242.3 124.7,242.5 125.3,242.6 126,243 126.7,243.7 127.4,244.4 128,245.4 128.7,246.5 129.4,247.3 130,247.5 130.7,247.3 131.4,247.9 132.1,248.4 132.7,249.1 133.4,249 134.1,249.2 134.7,249.2 135.4,249.3 136.1,249.4 136.8,249.6 137.4,249.6 138.1,249.4 138.8,249.7 139.4,249.8 140.1,250.1 140.8,249.8 141.5,250.3 142.1,250.3 142.8,250.5 143.5,250.3 144.1,250.4 144.8,250.6 145.5,250.8 146.2,250.7 146.8,250.8 147.5,250.6 148.2,250.8 148.8,250.4 149.5,250.3 150.2,250.2 150.9,250.3 151.5,250.5 152.2,250.7 152.9,251 153.5,251 154.2,251 154.9,251.1 155.6,251 156.2,250.8 156.9,250.4 157.6,250.3 158.2,250.5 158.9,250.7 159.6,250.9 160.3,250.9 160.9,250.9 161.6,250.8 162.3,250.7 162.9,250.7 163.6,250.8 164.3,250.8 165,250.7 165.6,250.5 166.3,250.5 167,250.8 167.6,250.8 168.3,250.4 169,250.3 169.7,250.6 170.3,251.2 171,251.1 171.7,250.9 172.3,250.8 173,250.7 173.7,250.8 174.4,250.8 175,251.1 175.7,250.8 176.4,250.6 177,250.2 177.7,250.5 178.4,250.5 179.1,250.7 179.7,250.4 180.4,250.5 181.1,250.6 181.7,250.8 182.4,251 183.1,251.1 183.8,251.1 184.4,251 185.1,250.9 185.8,250.7 186.4,250.6 187.1,250.8 187.8,251.1 188.5,251 189.1,250.6 189.8,250.5 190.5,250.5 191.1,250.9 191.8,250.9 192.5,250.8 193.2,250.7 193.8,250.7 194.5,250.9 195.2,250.8 195.8,250.6 196.5,250.4 197.2,250.4 197.9,250.6 198.5,250.8 199.2,251 199.9,251 200.5,250.9 201.2,250.8 201.9,250.6 202.6,250.5 203.2,250.3 203.9,250.3 204.6,250.5 205.2,250.7 205.9,251 206.6,250.7 207.3,250.8 207.9,250.7 208.6,250.6 209.3,250.7 209.9,250.7 210.6,251 211.3,250.9 212,250.8 212.6,250.8 213.3,250.6 214,250.6 214.6,250.6 215.3,250.7 216,250.6 216.7,250.6 217.3,250.7 218,250.9 218.7,251 219.3,251 220,251.4 220.7,251.4 221.4,251.2 222,250.7 222.7,250.7 223.4,250.6 224,250.8 224.7,250.8 225.4,250.9 226.1,250.9 226.7,250.8 227.4,250.8 228.1,250.6 228.7,250.7 229.4,250.7 230.1,250.9 230.8,250.8 231.4,250.9 232.1,250.7 232.8,251 233.4,250.9 234.1,250.9 234.8,250.8 235.5,251 236.1,251.1 236.8,251 237.5,250.8 238.1,250.9 238.8,250.8 239.5,250.7 240.2,250.6 240.8,250.6 241.5,250.6 242.2,250.6 242.8,250.6 243.5,250.6 244.2,250.3 244.9,250.5 245.5,250.4 246.2,250.3 246.9,250.1 247.5,250 248.2,250 248.9,249.9 249.6,249.8 250.2,249.7 250.9,249.7 251.6,249.2 252.2,249.2 252.9,248.7 253.6,248.8 254.3,248.1 254.9,247.5 255.6,246.7 256.3,245.4 256.9,244.5 257.6,242.9 258.3,241.2 259,238.9 259.6,236.1 260.3,233.7 261,231.8 261.6,230.7 262.3,229.7 263,227.6 263.7,226.7 264.3,226.7 265,227.2 265.7,228 266.4,228.3 267,229.3 267.7,229.2 268.4,229.1 269,229.1 269.7,229.8 270.4,230.3 271.1,229.4 271.7,228.7 272.4,227.7 273.1,228.2 273.7,228.3 274.4,229 275.1,229 275.8,229.6 276.4,231 277.1,232.7 277.8,234.1 278.4,235.2 279.1,236.8 279.8,238.5 280.5,240.3 281.1,242.7 281.8,244.2 282.5,245.3 283.1,245.7 283.8,246.7 284.5,247.7 285.2,248 285.8,248.3 286.5,248.4 287.2,248.8 287.8,249.1 288.5,249.3 289.2,249.3 289.9,249.5 290.5,249.4 291.2,249.7 291.9,249.6 292.5,249.8 293.2,249.8 293.9,249.8 294.6,249.9 295.2,250.2 295.9,250.1 296.6,250.2 297.2,250.3 297.9,250.4 298.6,250.3 299.3,250.3 299.9,250.4 300.6,250.4 301.3,250.2 301.9,250.2 302.6,250.5 303.3,250.8 304,250.8 304.6,250.6 305.3,250.7 306,250.6 306.6,250.5 307.3,250.5 308,250.5 308.7,250.7 309.3,250.8 310,250.9 310.7,251 311.3,250.9 312,250.8 312.7,250.7 313.4,250.8 314,250.7 314.7,250.8 315.4,250.9 316,251 316.7,250.7 317.4,250.9 318.1,250.8 318.7,250.9 319.4,250.8 320.1,250.9 320.7,251.2 321.4,251.3 322.1,251 322.8,250.9 323.4,250.8 324.1,251.1 324.8,251 325.4,250.9 326.1,250.9 326.8,250.9 327.5,251 328.1,250.9 328.8,251" fill="none" stroke="#c9a09e" stroke-width="1.5" stroke-linejoin="round" stroke-linecap="round" />
<path d="M60.2,250.9 60.9,250.9 61.5,251.1 62.2,250.4 62.9,250.5 63.6,250.2 64.2,251 64.9,251.1 65.6,251.3 66.2,251.2 66.9,251 67.6,251 68.3,250.7 68.9,250.3 69.6,249.9 70.3,250 70.9,250 71.6,250.1 72.3,250.2 73,250.7 73.6,251.1 74.3,250.5 75,250.4 75.6,250.3 76.3,250.3 77,250.2 77.7,250 78.3,250 79,249.7 79.7,249.9 80.3,250.1 81,249.7 81.7,249.1 82.4,248.2 83,248.2 83.7,247.6 84.4,247.7 85,248 85.7,248.1 86.4,248.4 87.1,248 87.7,247.6 88.4,247.5 89.1,247.7 89.7,248.6 90.4,248.7 91.1,248.8 91.8,248.3 92.4,248 93.1,247.5 93.8,247.4 94.4,247.3 95.1,248 95.8,247.9 96.5,248.1 97.1,248.4 97.8,248.7 98.5,249.1 99.1,248.8 99.8,249 100.5,249 101.2,249 101.8,249.2 102.5,249.3 103.2,249.7 103.8,249.3 104.5,248.8 105.2,247.9 105.9,246.8 106.5,245.7 107.2,244.9 107.9,241.8 108.5,237.9 109.2,235.3 109.9,233.8 110.6,232.2 111.2,231.1 111.9,230.4 112.6,231.5 113.2,233.1 113.9,234.9 114.6,236 115.3,236.7 115.9,237.3 116.6,238 117.3,238.6 117.9,238.9 118.6,238.6 119.3,239 120,239.8 120.6,239.8 121.3,240.2 122,240.6 122.6,241.9 123.3,241.4 124,241.4 124.7,241.1 125.3,241.7 126,241.5 126.7,242.6 127.4,243.5 128,244.8 128.7,245.1 129.4,245.9 130,246.6 130.7,247.4 131.4,247.5 132.1,247.6 132.7,247.9 133.4,248.2 134.1,249 134.7,249.1 135.4,249.6 136.1,249.5 136.8,249.5 137.4,248.9 138.1,248.9 138.8,249.3 139.4,249.9 140.1,249.8 140.8,249.9 141.5,249.7 142.1,249.6 142.8,249.5 143.5,249.8 144.1,250 144.8,250.3 145.5,250.7 146.2,250.6 146.8,250.1 147.5,249.5 148.2,249.8 148.8,251 149.5,251.4 150.2,251.3 150.9,250.6 151.5,250.2 152.2,250.5 152.9,250.4 153.5,250.6 154.2,250.4 154.9,250.8 155.6,250.9 156.2,250.9 156.9,250.7 157.6,251 158.2,251.2 158.9,251.3 159.6,251 160.3,250.7 160.9,250.4 161.6,250.4 162.3,250.7 162.9,250.7 163.6,251.2 164.3,251.1 165,251 165.6,250.7 166.3,250.6 167,251.1 167.6,251 168.3,251.1 169,250.7 169.7,250.7 170.3,250.2 171,251 171.7,251.3 172.3,251.6 173,251.2 173.7,251.1 174.4,251.1 175,251.4 175.7,251.6 176.4,251.6 177,250.9 177.7,250.8 178.4,250.1 179.1,250.2 179.7,250.1 180.4,250.5 181.1,250.5 181.7,250.7 182.4,251.2 183.1,251.1 183.8,251 184.4,250.5 185.1,250.7 185.8,250.8 186.4,250.9 187.1,250.9 187.8,250.3 188.5,250.4 189.1,250.4 189.8,250.6 190.5,250.7 191.1,250.4 191.8,250.3 192.5,249.9 193.2,250.2 193.8,250.2 194.5,250.7 195.2,250.9 195.8,250.9 196.5,250.8 197.2,250.7 197.9,250.9 198.5,251.2 199.2,251.1 199.9,251 200.5,250.7 201.2,251 201.9,250.7 202.6,250.6 203.2,250.6 203.9,251 204.6,251.5 205.2,251.6 205.9,251.6 206.6,251.6 207.3,251.3 207.9,250.7 208.6,250.6 209.3,250.5 209.9,250.5 210.6,250.7 211.3,251.1 212,251.2 212.6,250.8 213.3,250.4 214,250.7 214.6,251.3 215.3,251.1 216,250.8 216.7,250.2 217.3,250.6 218,250.9 218.7,250.8 219.3,250.7 220,250.1 220.7,250.3 221.4,250.6 222,250.9 222.7,250.8 223.4,250.7 224,250.7 224.7,250.6 225.4,250.8 226.1,250.9 226.7,251.1 227.4,250.6 228.1,250.6 228.7,250.7 229.4,250.8 230.1,250.9 230.8,250.7 231.4,250.7 232.1,250.7 232.8,250.6 233.4,250.4 234.1,250.6 234.8,250.7 235.5,251 236.1,250.8 236.8,250.8 237.5,250.5 238.1,250.5 238.8,250.6 239.5,251.1 240.2,251 240.8,250.9 241.5,250.9 242.2,250.8 242.8,250.7 243.5,250.2 244.2,250.1 244.9,249.8 245.5,249.8 246.2,249.5 246.9,249.7 247.5,249.8 248.2,250 248.9,250.1 249.6,249.9 250.2,249.6 250.9,249 251.6,248.4 252.2,247.9 252.9,247.6 253.6,247.7 254.3,247.7 254.9,247.3 255.6,246.1 256.3,243.8 256.9,241.3 257.6,239.3 258.3,236.7 259,233.8 259.6,230.7 260.3,227.7 261,224.8 261.6,221.9 262.3,220.9 263,220.4 263.7,220 264.3,219 265,218.4 265.7,219.8 266.4,220.8 267,222.1 267.7,222.1 268.4,222.9 269,223.1 269.7,222.7 270.4,222.5 271.1,222.2 271.7,222 272.4,221.1 273.1,221.3 273.7,221.1 274.4,222.2 275.1,222.3 275.8,223.8 276.4,224.2 277.1,225.9 277.8,227.6 278.4,230.2 279.1,232 279.8,234.8 280.5,237.1 281.1,239.9 281.8,242 282.5,243.7 283.1,244.5 283.8,245.1 284.5,246 285.2,246.6 285.8,247.5 286.5,247.7 287.2,248.1 287.8,248.2 288.5,248.6 289.2,249 289.9,249.4 290.5,249.6 291.2,249.6 291.9,250 292.5,249.8 293.2,250 293.9,249.6 294.6,250.1 295.2,250.4 295.9,250.6 296.6,250.3 297.2,250.1 297.9,249.7 298.6,249.9 299.3,250.5 299.9,251 300.6,251.1 301.3,250.6 301.9,250.8 302.6,250.7 303.3,250.8 304,250.6 304.6,250.7 305.3,250.2 306,250.1 306.6,249.7 307.3,250.1 308,250.3 308.7,250.6 309.3,250.7 310,250.6 310.7,251.2 311.3,251 312,251.1 312.7,250.4 313.4,250.5 314,250.5 314.7,250.9 315.4,251 316,251 316.7,250.9 317.4,250.5 318.1,250.5 318.7,250.2 319.4,250.2 320.1,250.1 320.7,250.2 321.4,250.4 322.1,250.3 322.8,250.3 323.4,250.3 324.1,250.5 324.8,250.7 325.4,250.9 326.1,251.1 326.8,250.9 327.5,250.6 328.1,250.6 328.8,250.9" fill="none" stroke="#e7c5c2" stroke-width="1.5" stroke-linejoin="round" stroke-linecap="round" />
<path d="M60.2,251.4 60.9,251.2 61.5,250.8 62.2,250.6 62.9,250.4 63.6,251.5 64.2,251.4 64.9,251.4 65.6,250.8 66.2,251.3 66.9,251.3 67.6,251.1 68.3,250.1 68.9,250.4 69.6,250.4 70.3,251.1 70.9,250.9 71.6,251.4 72.3,250.8 73,250.7 73.6,250.2 74.3,250.7 75,250.6 75.6,250.3 76.3,250.2 77,250.3 77.7,250.1 78.3,249.9 79,249.7 79.7,249.6 80.3,249.3 81,249.3 81.7,249.1 82.4,248.4 83,247.5 83.7,247 84.4,248.1 85,248.7 85.7,248.5 86.4,246.8 87.1,245.9 87.7,246.3 88.4,247 89.1,247.7 89.7,247.3 90.4,247.2 91.1,247.3 91.8,247.5 92.4,247.2 93.1,247.4 93.8,247.8 94.4,247.6 95.1,246.7 95.8,247 96.5,247.5 97.1,247.7 97.8,247.4 98.5,248.1 99.1,248.8 99.8,248.9 100.5,248.7 101.2,249.1 101.8,248.6 102.5,248.8 103.2,249 103.8,249.4 104.5,249.6 105.2,248.5 105.9,247.3 106.5,244.4 107.2,242.6 107.9,238.9 108.5,235.7 109.2,233.5 109.9,232.2 110.6,230.4 111.2,228.8 111.9,227.2 112.6,228 113.2,230 113.9,232.3 114.6,234.1 115.3,235.2 115.9,236.1 116.6,237 117.3,238 117.9,238.1 118.6,237.6 119.3,237.4 120,238.4 120.6,239.2 121.3,239.6 122,239.7 122.6,240 123.3,239.7 124,239.4 124.7,239.1 125.3,239.8 126,240.4 126.7,240.8 127.4,241.4 128,242.9 128.7,243.8 129.4,244.7 130,245.5 130.7,246.6 131.4,247.4 132.1,247.6 132.7,247.8 133.4,248 134.1,248.7 134.7,249 135.4,248.8 136.1,248.9 136.8,249.4 137.4,249.5 138.1,249.1 138.8,248.8 139.4,249.3 140.1,249.7 140.8,250.2 141.5,250.3 142.1,250.1 142.8,250.8 143.5,251.4 144.1,251.5 144.8,250.5 145.5,250.2 146.2,250.2 146.8,250.8 147.5,251 148.2,251 148.8,250.7 149.5,250.5 150.2,251 150.9,250.9 151.5,250.8 152.2,250.5 152.9,250.6 153.5,250.7 154.2,250.5 154.9,250.4 155.6,249.7 156.2,249.5 156.9,249.6 157.6,250.6 158.2,250.8 158.9,251 159.6,250.2 160.3,250.8 160.9,250.8 161.6,250.8 162.3,250.3 162.9,250 163.6,250.3 164.3,250.4 165,250.4 165.6,250.9 166.3,250.8 167,250.4 167.6,250.2 168.3,250 169,251 169.7,250.5 170.3,250.9 171,250.8 171.7,251.4 172.3,251.4 173,251.6 173.7,251.5 174.4,251.4 175,251 175.7,251.2 176.4,251.3 177,251.4 177.7,251.1 178.4,251.1 179.1,251 179.7,251.1 180.4,250.5 181.1,250.3 181.7,250.1 182.4,250.1 183.1,250.5 183.8,250.2 184.4,250.5 185.1,250.4 185.8,250.7 186.4,251.1 187.1,250.4 187.8,250.5 188.5,250.6 189.1,251.4 189.8,251.6 190.5,251.4 191.1,250.9 191.8,250.5 192.5,250 193.2,250 193.8,250.6 194.5,250.5 195.2,250.3 195.8,250.6 196.5,251.1 197.2,251.6 197.9,251.2 198.5,250.8 199.2,250.5 199.9,250.3 200.5,251 201.2,251.6 201.9,251.6 202.6,251.6 203.2,251.5 203.9,251.6 204.6,251.6 205.2,251.6 205.9,251.2 206.6,250.9 207.3,250.9 207.9,251 208.6,250.9 209.3,250.4 209.9,250.7 210.6,250.6 211.3,251.3 212,250.7 212.6,250.6 213.3,249.9 214,250.2 214.6,250.5 215.3,251.1 216,251.1 216.7,250.6 217.3,251.1 218,250.7 218.7,251.3 219.3,250.3 220,251.1 220.7,250.9 221.4,250.8 222,250.6 222.7,250 223.4,250.3 224,250 224.7,250.7 225.4,250.9 226.1,251.2 226.7,250.9 227.4,250.2 228.1,250.1 228.7,250.6 229.4,251.3 230.1,251.6 230.8,251.2 231.4,251 232.1,250.9 232.8,251.2 233.4,250.9 234.1,250.4 234.8,250.5 235.5,250.6 236.1,250.6 236.8,250.6 237.5,250.7 238.1,250.3 238.8,250.4 239.5,250.1 240.2,250.7 240.8,250.2 241.5,250.4 242.2,250.2 242.8,250.4 243.5,250.5 244.2,250.3 244.9,250.1 245.5,250.5 246.2,250.6 246.9,250.2 247.5,249.4 248.2,249.4 248.9,250.3 249.6,250.2 250.2,249.9 250.9,248.8 251.6,249 252.2,249 252.9,249.3 253.6,248.6 254.3,248.6 254.9,248 255.6,247.2 256.3,245.5 256.9,243.3 257.6,241.6 258.3,239.4 259,236.8 259.6,234.1 260.3,230.7 261,228.3 261.6,226.3 262.3,225.6 263,224.4 263.7,223.3 264.3,222.8 265,223.8 265.7,224.4 266.4,225.5 267,225.9 267.7,226.7 268.4,227.3 269,227.2 269.7,227 270.4,226.7 271.1,227 271.7,226.1 272.4,225.3 273.1,224.4 273.7,225.2 274.4,224.8 275.1,225.6 275.8,227.1 276.4,228.9 277.1,230.9 277.8,231.6 278.4,233.5 279.1,234.3 279.8,236.1 280.5,238.2 281.1,240.3 281.8,241.5 282.5,243.1 283.1,244.3 283.8,246 284.5,246.3 285.2,247.5 285.8,248.4 286.5,248.4 287.2,248.2 287.8,248.4 288.5,248.5 289.2,248.5 289.9,248.3 290.5,249.4 291.2,249.9 291.9,249.7 292.5,250.2 293.2,250.7 293.9,251.5 294.6,250.6 295.2,250.1 295.9,249.8 296.6,250 297.2,250.1 297.9,249.9 298.6,248.9 299.3,248.8 299.9,248.8 300.6,250 301.3,249.7 301.9,250.1 302.6,249.9 303.3,250.6 304,250.9 304.6,251.1 305.3,251.3 306,251.4 306.6,250.7 307.3,250.3 308,249.6 308.7,250 309.3,250.6 310,250.9 310.7,251.3 311.3,251.1 312,251.2 312.7,250.9 313.4,250.6 314,250.5 314.7,250.7 315.4,250.7 316,250.4 316.7,249.6 317.4,249.3 318.1,249.8 318.7,250.3 319.4,250.4 320.1,250 320.7,249.7 321.4,249.7 322.1,249.9 322.8,250.3 323.4,251.2 324.1,251 324.8,250.7 325.4,250.5 326.1,250.8 326.8,251.1 327.5,251 328.1,250.5 328.8,249.8" fill="none" stroke="#f07d3c" stroke-width="1.5" stroke-linejoin="round" stroke-linecap="round" />
<path d="M60.2,250.3 60.9,250.2 61.5,250.3 62.2,250.9 62.9,250.2 63.6,250.1 64.2,250 64.9,251.3 65.6,251.1 66.2,251.6 66.9,251 67.6,250.8 68.3,250.5 68.9,250.2 69.6,250.7 70.3,250.7 70.9,250.8 71.6,250.4 72.3,250.3 73,250.4 73.6,250.9 74.3,251.4 75,251.2 75.6,250.8 76.3,250 77,249.5 77.7,248.9 78.3,248.8 79,248.6 79.7,248.3 80.3,247.6 81,247.8 81.7,247.5 82.4,246.8 83,245.4 83.7,244.9 84.4,245 85,244.6 85.7,244.3 86.4,244 87.1,244.4 87.7,244.3 88.4,244.4 89.1,245 89.7,245.7 90.4,245.6 91.1,245.5 91.8,245 92.4,245.6 93.1,245.5 93.8,245.6 94.4,245 95.1,245.4 95.8,245.6 96.5,245.3 97.1,244.9 97.8,245.4 98.5,246.7 99.1,247.7 99.8,247.9 100.5,248.3 101.2,248.3 101.8,248.3 102.5,247.9 103.2,247.6 103.8,247.6 104.5,246.9 105.2,245.2 105.9,243.1 106.5,240.5 107.2,238.4 107.9,231.7 108.5,225.9 109.2,222.7 109.9,220.8 110.6,217.1 111.2,214.3 111.9,213.4 112.6,214.8 113.2,217.6 113.9,219.5 114.6,221.9 115.3,223.3 115.9,225.1 116.6,227 117.3,229.7 117.9,230.6 118.6,230.8 119.3,229.9 120,229.9 120.6,229.7 121.3,229.7 122,229.5 122.6,229.2 123.3,229.4 124,230.4 124.7,232.1 125.3,232.5 126,234.2 126.7,234.6 127.4,236.2 128,237.8 128.7,240.1 129.4,242.3 130,243.6 130.7,244.6 131.4,245.3 132.1,245.4 132.7,246.2 133.4,245.8 134.1,246.2 134.7,246.1 135.4,246.7 136.1,247.3 136.8,248.4 137.4,249.5 138.1,249.5 138.8,250.2 139.4,250 140.1,250.8 140.8,250.3 141.5,250 142.1,249.7 142.8,249.8 143.5,250.2 144.1,250 144.8,250.3 145.5,250.2 146.2,250.4 146.8,250.3 147.5,250.7 148.2,250.4 148.8,249.9 149.5,249.6 150.2,250.2 150.9,250.6 151.5,251.1 152.2,251.4 152.9,251.4 153.5,251.3 154.2,251.2 154.9,251.4 155.6,251.1 156.2,250.9 156.9,251.1 157.6,250.6 158.2,251 158.9,250.5 159.6,251.4 160.3,250.7 160.9,250.8 161.6,250.2 162.3,250.5 162.9,250.7 163.6,250.6 164.3,250.6 165,250.5 165.6,250.9 166.3,251.1 167,251 167.6,250.5 168.3,249.8 169,249.8 169.7,250.1 170.3,250.3 171,250.6 171.7,250.4 172.3,250.5 173,250.8 173.7,251.1 174.4,251.4 175,250.8 175.7,250.8 176.4,250.6 177,250.6 177.7,250.4 178.4,250.7 179.1,251.3 179.7,251.6 180.4,251.4 181.1,250.3 181.7,250 182.4,249.8 183.1,250.4 183.8,251.2 184.4,251.6 185.1,251.6 185.8,251.2 186.4,251 187.1,250.9 187.8,250.7 188.5,250.8 189.1,250.9 189.8,251.4 190.5,250.9 191.1,251.3 191.8,250.9 192.5,251 193.2,251 193.8,251.3 194.5,251.2 195.2,250.9 195.8,250.9 196.5,251.3 197.2,250.6 197.9,250.3 198.5,250.5 199.2,251.2 199.9,251.6 200.5,251.5 201.2,251.6 201.9,251.5 202.6,251.4 203.2,251.2 203.9,251.1 204.6,251.3 205.2,250.8 205.9,251 206.6,251 207.3,251.2 207.9,250.8 208.6,251.3 209.3,251.1 209.9,251.4 210.6,251 211.3,251.3 212,250.6 212.6,250.5 213.3,249.7 214,250.4 214.6,250.5 215.3,250.7 216,250.6 216.7,250.4 217.3,250.5 218,250.5 218.7,250.8 219.3,251.2 220,250.8 220.7,250.5 221.4,250.1 222,250.4 222.7,250.7 223.4,251.4 224,251.4 224.7,251.4 225.4,251.1 226.1,251.3 226.7,251.3 227.4,251.4 228.1,250.9 228.7,250.8 229.4,250.8 230.1,250.8 230.8,250.3 231.4,250.3 232.1,250.6 232.8,251.5 233.4,251.6 234.1,251.6 234.8,250.9 235.5,250 236.1,249.7 236.8,250.2 237.5,250.6 238.1,251.2 238.8,251 239.5,251.5 240.2,251 240.8,250.6 241.5,249.6 242.2,249.5 242.8,249.8 243.5,250.8 244.2,251 244.9,250.6 245.5,249.8 246.2,249.3 246.9,249.5 247.5,249.2 248.2,249.4 248.9,249.4 249.6,248.8 250.2,248.7 250.9,248.3 251.6,248.9 252.2,247.7 252.9,247.4 253.6,246.6 254.3,246.4 254.9,245.1 255.6,243.9 256.3,242.3 256.9,240.2 257.6,237.3 258.3,233 259,228.7 259.6,224.5 260.3,220.3 261,215.7 261.6,211.5 262.3,209.2 263,208.2 263.7,207.4 264.3,207.3 265,207.4 265.7,208.6 266.4,209.9 267,210 267.7,211.2 268.4,210.8 269,212 269.7,212.7 270.4,213.4 271.1,210.7 271.7,209.1 272.4,208.2 273.1,209.3 273.7,209.5 274.4,210 275.1,211.3 275.8,211.4 276.4,213.1 277.1,215.7 277.8,219.1 278.4,222.1 279.1,225.4 279.8,228.1 280.5,231.8 281.1,234.5 281.8,238.1 282.5,240 283.1,241.5 283.8,242.7 284.5,244.2 285.2,245.5 285.8,246.2 286.5,246.7 287.2,247.2 287.8,247.8 288.5,248.2 289.2,248.4 289.9,248.8 290.5,249 291.2,249.6 291.9,250.1 292.5,250 293.2,249.7 293.9,249.4 294.6,249.5 295.2,249.8 295.9,250 296.6,250 297.2,250.7 297.9,250.4 298.6,250.6 299.3,250.4 299.9,250 300.6,250.4 301.3,249.7 301.9,250.3 302.6,249.9 303.3,250.3 304,249.6 304.6,249.7 305.3,249.4 306,249.9 306.6,250 307.3,250.4 308,250.5 308.7,250.3 309.3,249.9 310,249.9 310.7,250.2 311.3,250.3 312,250.7 312.7,250.7 313.4,251.5 314,251.4 314.7,251.5 315.4,251.3 316,251.4 316.7,251.1 317.4,250.6 318.1,250 318.7,249.9 319.4,249.9 320.1,250 320.7,250.2 321.4,250 322.1,250.7 322.8,250.8 323.4,250.9 324.1,250.2 324.8,250.2 325.4,250.6 326.1,250.6 326.8,250.6 327.5,250.9 328.1,250.8 328.8,250.4" fill="none" stroke="#f59f6d" stroke-width="1.5" stroke-linejoin="round" stroke-linecap="round" />
<path d="M60.2,250.9 60.9,251.1 61.5,251.6 62.2,251.5 62.9,250.8 63.6,250.8 64.2,251 64.9,251.2 65.6,250.7 66.2,250.6 66.9,250.7 67.6,250.9 68.3,250.7 68.9,250.5 69.6,250.2 70.3,250.9 70.9,250.8 71.6,250.8 72.3,250.2 73,250.2 73.6,249.9 74.3,249.9 75,249.9 75.6,249.8 76.3,249.6 77,249.5 77.7,249.6 78.3,249.3 79,248.7 79.7,247.3 80.3,246.5 81,245.5 81.7,244.9 82.4,243.3 83,243 83.7,241.9 84.4,241.8 85,241.5 85.7,242 86.4,242.5 87.1,242.5 87.7,242.9 88.4,242.6 89.1,243.1 89.7,244.1 90.4,245.1 91.1,245.2 91.8,244.6 92.4,243.4 93.1,243.3 93.8,242.6 94.4,242.6 95.1,241.9 95.8,242.2 96.5,242.5 97.1,243.7 97.8,244.2 98.5,244.9 99.1,245.4 99.8,245.9 100.5,246.8 101.2,247.2 101.8,247.5 102.5,247.5 103.2,247.1 103.8,246.1 104.5,244.5 105.2,243 105.9,240.6 106.5,238.1 107.2,234.5 107.9,227.1 108.5,217.9 109.2,212.7 109.9,208.2 110.6,204.5 111.2,202.5 111.9,201.3 112.6,203.2 113.2,204.7 113.9,207.8 114.6,210.3 115.3,213.1 115.9,217 116.6,219.9 117.3,221.9 117.9,221.7 118.6,221.9 119.3,222.1 120,222.4 120.6,222.8 121.3,223.8 122,224.3 122.6,224.1 123.3,223.5 124,223.7 124.7,223.7 125.3,225.3 126,227.5 126.7,230.2 127.4,231.7 128,233.5 128.7,236.2 129.4,238.7 130,241.5 130.7,242.2 131.4,243.5 132.1,243.3 132.7,243.9 133.4,244.5 134.1,245.5 134.7,246.2 135.4,246.1 136.1,246.4 136.8,247.2 137.4,247.8 138.1,247.6 138.8,247.9 139.4,248.4 140.1,248.6 140.8,248.5 141.5,248.7 142.1,249.1 142.8,249.2 143.5,248.9 144.1,249 144.8,249.2 145.5,249.9 146.2,249.9 146.8,249.9 147.5,249.5 148.2,249.7 148.8,249.9 149.5,249.8 150.2,249.9 150.9,250.3 151.5,250.3 152.2,250.4 152.9,250.2 153.5,250.4 154.2,250.4 154.9,250.4 155.6,250.7 156.2,250.4 156.9,250.7 157.6,250.2 158.2,250.8 158.9,250.7 159.6,251.1 160.3,250.7 160.9,250.5 161.6,250.5 162.3,251 162.9,250.8 163.6,250.8 164.3,250.4 165,250.7 165.6,250.8 166.3,250.8 167,250.7 167.6,250.3 168.3,250.4 169,250.8 169.7,250.9 170.3,250.9 171,250.6 171.7,251.4 172.3,251.6 173,251.6 173.7,251 174.4,250.8 175,250.7 175.7,250.6 176.4,250.8 177,250.9 177.7,250.8 178.4,250.6 179.1,251.1 179.7,251.5 180.4,251.2 181.1,250.9 181.7,251 182.4,251.2 183.1,251.2 183.8,250.7 184.4,250.5 185.1,250.5 185.8,250.8 186.4,251.2 187.1,251.4 187.8,251 188.5,250.9 189.1,250.6 189.8,251.2 190.5,251.2 191.1,251.3 191.8,251.2 192.5,251 193.2,251.2 193.8,251 194.5,250.8 195.2,250.9 195.8,250.8 196.5,250.9 197.2,250.4 197.9,251 198.5,250.9 199.2,251.3 199.9,250.9 200.5,251.2 201.2,251.1 201.9,251.3 202.6,251.3 203.2,251.1 203.9,250.7 204.6,250.7 205.2,250.5 205.9,250.6 206.6,250.3 207.3,250.8 207.9,250.8 208.6,251 209.3,250.7 209.9,250.7 210.6,250.5 211.3,250.5 212,250.5 212.6,250.7 213.3,250.8 214,251 214.6,250.7 215.3,250.5 216,250.1 216.7,250.4 217.3,250.6 218,250.4 218.7,250.1 219.3,250.3 220,250.7 220.7,250.9 221.4,250.6 222,250.8 222.7,251.1 223.4,251.1 224,251.2 224.7,251.3 225.4,251.3 226.1,251.3 226.7,250.9 227.4,250.6 228.1,250.4 228.7,250.7 229.4,250.8 230.1,250.7 230.8,250.3 231.4,250.9 232.1,251.4 232.8,251.6 233.4,251.4 234.1,250.7 234.8,250.6 235.5,250.7 236.1,250.9 236.8,250.7 237.5,250.3 238.1,250.7 238.8,250.3 239.5,250.4 240.2,250 240.8,250.3 241.5,250.5 242.2,250.3 242.8,250.2 243.5,250 244.2,250.2 244.9,250.1 245.5,250.4 246.2,250.1 246.9,249.9 247.5,249.7 248.2,249.4 248.9,249.3 249.6,248.9 250.2,249 250.9,248.6 251.6,248.2 252.2,246.8 252.9,246.4 253.6,245.3 254.3,244.9 254.9,243.5 255.6,241.5 256.3,238.9 256.9,235.5 257.6,232.5 258.3,228.3 259,223.2 259.6,218 260.3,212.3 261,205.9 261.6,201.3 262.3,198.9 263,196.2 263.7,194.4 264.3,192.7 265,194.2 265.7,196.9 266.4,198.7 267,200.6 267.7,201.3 268.4,202.2 269,202.1 269.7,200.7 270.4,199.4 271.1,198.6 271.7,198 272.4,199.2 273.1,199 273.7,199.5 274.4,198.9 275.1,199.7 275.8,201.6 276.4,203.8 277.1,208.1 277.8,211.3 278.4,215.2 279.1,218.6 279.8,222.3 280.5,226.1 281.1,230.7 281.8,234.6 282.5,237.9 283.1,239.8 283.8,242.5 284.5,243.7 285.2,245.2 285.8,245.1 286.5,245.9 287.2,246.2 287.8,247 288.5,247.6 289.2,248 289.9,248.7 290.5,248.9 291.2,248.9 291.9,248.6 292.5,248.4 293.2,248.8 293.9,249.4 294.6,249.7 295.2,249.5 295.9,249.5 296.6,249.4 297.2,249.8 297.9,250.3 298.6,250.6 299.3,250.2 299.9,249.5 300.6,249.4 301.3,249.7 301.9,250.3 302.6,251 303.3,251.4 304,251.1 304.6,250.9 305.3,250.9 306,250.6 306.6,250.1 307.3,250.3 308,250.7 308.7,251.1 309.3,250.8 310,251.1 310.7,250.5 311.3,250.3 312,249.7 312.7,250.8 313.4,250.9 314,251.2 314.7,250.7 315.4,250.7 316,250.5 316.7,250.5 317.4,250.7 318.1,250.7 318.7,251.3 319.4,251 320.1,251.1 320.7,250.1 321.4,250.2 322.1,250.7 322.8,250.9 323.4,251.1 324.1,250.8 324.8,251.1 325.4,250.7 326.1,250.1 326.8,250.1 327.5,250.4 328.1,250.7 328.8,250.6" fill="none" stroke="#f9cba9" stroke-width="1.5" stroke-linejoin="round" stroke-linecap="round" />
<path d="M60.2,251 60.9,250.9 61.5,250.9 62.2,250.6 62.9,250.9 63.6,250.8 64.2,250.9 64.9,250.4 65.6,250.6 66.2,250.7 66.9,250.8 67.6,250.9 68.3,250.9 68.9,251 69.6,251 70.3,251.1 70.9,251 71.6,251 72.3,251 73,251.1 73.6,250.8 74.3,250.5 75,250.1 75.6,250 76.3,249.6 77,249.2 77.7,248.4 78.3,247.8 79,247 79.7,246 80.3,245.2 81,244.3 81.7,243.2 82.4,241.9 83,240.8 83.7,240 84.4,239.1 85,238.6 85.7,238.6 86.4,238.8 87.1,239.3 87.7,239.4 88.4,239.7 89.1,240.3 89.7,241.3 90.4,241.4 91.1,241.4 91.8,241.4 92.4,241.1 93.1,240.4 93.8,239.4 94.4,239 95.1,238.8 95.8,239.2 96.5,240 97.1,240.9 97.8,242.3 98.5,243.7 99.1,244.4 99.8,244.7 100.5,245 101.2,245.7 101.8,246 102.5,246.3 103.2,246.1 103.8,245 104.5,243 105.2,240.4 105.9,236.8 106.5,232.6 107.2,227.1 107.9,216.3 108.5,204.8 109.2,198.8 109.9,193.4 110.6,188.4 111.2,183.4 111.9,182.3 112.6,183.4 113.2,188.1 113.9,192.6 114.6,196.2 115.3,200.7 115.9,204.1 116.6,208.5 117.3,210.3 117.9,212.9 118.6,212.9 119.3,214.2 120,212.7 120.6,212.3 121.3,211.7 122,213 122.6,213.8 123.3,213.7 124,213.8 124.7,214.9 125.3,216 126,218.7 126.7,221.6 127.4,225.2 128,228.5 128.7,231.6 129.4,234.5 130,236.9 130.7,239.2 131.4,240.6 132.1,241.2 132.7,241.5 133.4,242.1 134.1,243.3 134.7,244.1 135.4,245 136.1,245.2 136.8,245.8 137.4,246.2 138.1,246.9 138.8,247 139.4,247.3 140.1,247 140.8,247.3 141.5,247.7 142.1,248.3 142.8,248.5 143.5,248.4 144.1,248.5 144.8,248.7 145.5,249.2 146.2,249.7 146.8,249.7 147.5,249.6 148.2,249.5 148.8,249.6 149.5,249.9 150.2,250.3 150.9,250.4 151.5,250.3 152.2,250.1 152.9,250.1 153.5,250.1 154.2,250.1 154.9,250.3 155.6,250.5 156.2,250.3 156.9,250.3 157.6,250.2 158.2,250.3 158.9,250.5 159.6,250.6 160.3,251 160.9,250.9 161.6,250.9 162.3,250.7 162.9,250.8 163.6,250.7 164.3,250.7 165,250.6 165.6,250.6 166.3,250.6 167,250.8 167.6,251.1 168.3,251.1 169,251.2 169.7,250.9 170.3,250.9 171,250.7 171.7,250.8 172.3,250.7 173,250.8 173.7,250.8 174.4,250.7 175,250.4 175.7,250.3 176.4,250.5 177,250.6 177.7,250.5 178.4,250.4 179.1,250.4 179.7,250.5 180.4,250.7 181.1,250.8 181.7,250.8 182.4,250.7 183.1,250.5 183.8,250.5 184.4,250.4 185.1,250.7 185.8,250.7 186.4,250.9 187.1,250.7 187.8,250.6 188.5,250.6 189.1,250.6 189.8,250.4 190.5,250.4 191.1,250.5 191.8,250.7 192.5,250.5 193.2,250.3 193.8,250.4 194.5,250.9 195.2,250.8 195.8,251 196.5,250.4 197.2,250.4 197.9,250.1 198.5,250.5 199.2,250.6 199.9,250.9 200.5,251 201.2,251.1 201.9,250.8 202.6,250.9 203.2,250.8 203.9,250.8 204.6,250.5 205.2,250.5 205.9,250.6 206.6,250.5 207.3,250.9 207.9,250.7 208.6,250.8 209.3,250.6 209.9,250.8 210.6,250.9 211.3,250.7 212,250.8 212.6,251 213.3,251.3 214,251 214.6,250.9 215.3,250.7 216,251 216.7,250.9 217.3,251 218,250.9 218.7,250.8 219.3,250.7 220,250.7 220.7,250.5 221.4,250.7 222,250.7 222.7,251.3 223.4,250.9 224,250.7 224.7,250.4 225.4,250.5 226.1,250.5 226.7,250.5 227.4,250.4 228.1,250.4 228.7,250.4 229.4,250.6 230.1,250.6 230.8,250.5 231.4,250.4 232.1,250.4 232.8,250.9 233.4,251.1 234.1,251.2 234.8,251 235.5,250.8 236.1,250.6 236.8,250.7 237.5,250.6 238.1,250.6 238.8,250.4 239.5,250.7 240.2,250.5 240.8,250.3 241.5,249.9 242.2,250 242.8,250.4 243.5,250.5 244.2,250.2 244.9,249.9 245.5,250.1 246.2,250.7 246.9,250.6 247.5,249.8 248.2,249.3 248.9,249.2 249.6,249.3 250.2,248.7 250.9,248.2 251.6,248 252.2,247.4 252.9,246.9 253.6,245.6 254.3,244.5 254.9,242.9 255.6,241.5 256.3,239.2 256.9,236.5 257.6,232.8 258.3,228.2 259,222.8 259.6,217.3 260.3,212.2 261,205.8 261.6,201.6 262.3,198.2 263,195.8 263.7,194.6 264.3,193.6 265,195.2 265.7,195.5 266.4,196.9 267,198.2 267.7,199.5 268.4,200.3 269,199.7 269.7,201 270.4,200.5 271.1,200.4 271.7,197.7 272.4,197.5 273.1,196.7 273.7,197.4 274.4,198.5 275.1,200.5 275.8,202 276.4,204.3 277.1,207.6 277.8,211.3 278.4,214.6 279.1,217.9 279.8,221.6 280.5,226.2 281.1,230.8 281.8,234.8 282.5,237.2 283.1,239.6 283.8,241.1 284.5,242.8 285.2,243.3 285.8,244.8 286.5,245.5 287.2,246.8 287.8,247.2 288.5,247.8 289.2,247.9 289.9,248.2 290.5,248.5 291.2,249 291.9,248.8 292.5,249.1 293.2,248.9 293.9,249 294.6,249.2 295.2,249.5 295.9,249.9 296.6,249.6 297.2,249.7 297.9,249.4 298.6,249.7 299.3,249.9 299.9,250.3 300.6,250.3 301.3,250.2 301.9,250.2 302.6,250.2 303.3,250.2 304,250.2 304.6,250.4 305.3,250.7 306,250.7 306.6,250.7 307.3,250.5 308,250.3 308.7,250.3 309.3,250.4 310,250.7 310.7,250.5 311.3,250.8 312,250.5 312.7,250.7 313.4,250.5 314,250.6 314.7,250.8 315.4,250.8 316,250.8 316.7,250.5 317.4,250.5 318.1,250.3 318.7,250.3 319.4,250.6 320.1,250.7 320.7,250.9 321.4,250.9 322.1,251 322.8,250.9 323.4,250.9 324.1,250.8 324.8,250.7 325.4,250.8 326.1,251.1 326.8,250.7 327.5,250.6 328.1,250.4 328.8,250.8" fill="none" stroke="#d5eddd" stroke-width="1.5" stroke-linejoin="round" stroke-linecap="round" />
<path d="M60.2,250.6 60.9,250.7 61.5,250.8 62.2,251 62.9,251 63.6,251.1 64.2,251.3 64.9,251.2 65.6,251.1 66.2,250.6 66.9,250.7 67.6,250.7 68.3,250.7 68.9,250.9 69.6,250.7 70.3,251 70.9,250.9 71.6,250.9 72.3,250.7 73,250.7 73.6,250.7 74.3,250.3 75,249.7 75.6,249.2 76.3,249 77,248.5 77.7,247.6 78.3,246.6 79,245.4 79.7,244.1 80.3,243.1 81,241.6 81.7,240 82.4,238 83,237 83.7,236 84.4,235.2 85,234.4 85.7,234.5 86.4,234.5 87.1,234.8 87.7,235.2 88.4,236 89.1,236.9 89.7,237.8 90.4,238 91.1,237.7 91.8,237 92.4,236.4 93.1,235.6 93.8,235.2 94.4,235.3 95.1,235.2 95.8,235.3 96.5,235.5 97.1,236.6 97.8,238.4 98.5,239.8 99.1,241.4 99.8,242.6 100.5,243.6 101.2,243.9 101.8,244 102.5,244.4 103.2,244.7 103.8,242.4 104.5,239.2 105.2,235.2 105.9,230.8 106.5,225.9 107.2,218.9 107.9,204 108.5,188 109.2,179.1 109.9,171.6 110.6,165 111.2,159.3 111.9,156.9 112.6,158.6 113.2,164.2 113.9,170.1 114.6,174.1 115.3,179.7 115.9,184.8 116.6,190.3 117.3,194.4 117.9,197.3 118.6,198 119.3,197.9 120,196.7 120.6,196.4 121.3,197.1 122,198.5 122.6,199 123.3,199.9 124,200.8 124.7,201.6 125.3,202 126,204.9 126.7,210 127.4,214.7 128,219.8 128.7,224.4 129.4,228.8 130,232.7 130.7,235.1 131.4,236.7 132.1,237.2 132.7,238.2 133.4,239.4 134.1,240.7 134.7,241.7 135.4,242.4 136.1,243.1 136.8,243.6 137.4,244.7 138.1,245.2 138.8,245.8 139.4,246.1 140.1,246.5 140.8,247 141.5,247.3 142.1,247.9 142.8,248 143.5,247.9 144.1,247.8 144.8,247.9 145.5,248.1 146.2,248.6 146.8,248.9 147.5,249.2 148.2,248.9 148.8,249.1 149.5,249.4 150.2,249.9 150.9,249.8 151.5,249.8 152.2,249.6 152.9,249.9 153.5,249.8 154.2,250.2 154.9,250.2 155.6,250.3 156.2,250.2 156.9,250.3 157.6,250.2 158.2,250.5 158.9,250.5 159.6,250.6 160.3,250.2 160.9,250.1 161.6,250.5 162.3,251 162.9,251.1 163.6,251 164.3,250.6 165,250.4 165.6,250.3 166.3,250.6 167,250.6 167.6,250.6 168.3,250.4 169,250.5 169.7,250.7 170.3,250.7 171,250.4 171.7,250.4 172.3,250.5 173,250.6 173.7,250.3 174.4,250.1 175,250.3 175.7,250.3 176.4,250.7 177,251 177.7,251.3 178.4,251.1 179.1,251 179.7,250.9 180.4,251 181.1,250.7 181.7,250.7 182.4,250.6 183.1,250.6 183.8,250.7 184.4,250.8 185.1,250.6 185.8,250.6 186.4,250.5 187.1,250.5 187.8,250.5 188.5,250.7 189.1,250.9 189.8,250.8 190.5,250.8 191.1,250.4 191.8,250.8 192.5,251 193.2,251.3 193.8,250.9 194.5,250.8 195.2,250.8 195.8,250.8 196.5,250.9 197.2,250.7 197.9,250.7 198.5,250.5 199.2,250.7 199.9,250.9 200.5,251 201.2,250.8 201.9,250.8 202.6,250.8 203.2,250.8 203.9,250.6 204.6,250.5 205.2,250.6 205.9,250.5 206.6,250.6 207.3,250.5 207.9,250.5 208.6,250.8 209.3,251.1 209.9,251.4 210.6,251 211.3,250.8 212,250.7 212.6,251 213.3,251.2 214,251.1 214.6,250.9 215.3,250.7 216,250.6 216.7,250.5 217.3,250.4 218,250.6 218.7,250.4 219.3,250.5 220,250.6 220.7,250.7 221.4,250.5 222,250.6 222.7,250.7 223.4,251.1 224,250.9 224.7,250.8 225.4,250.5 226.1,250.5 226.7,250.4 227.4,250.8 228.1,250.9 228.7,251 229.4,251 230.1,250.7 230.8,250.5 231.4,250.5 232.1,250.5 232.8,250.8 233.4,250.5 234.1,250.9 234.8,250.8 235.5,251 236.1,250.8 236.8,250.9 237.5,250.8 238.1,250.8 238.8,250.5 239.5,250.7 240.2,250.4 240.8,250.3 241.5,250 242.2,249.9 242.8,249.9 243.5,249.9 244.2,249.8 244.9,249.8 245.5,249.7 246.2,249.7 246.9,249.4 247.5,249.1 248.2,249.1 248.9,248.7 249.6,248.2 250.2,247.1 250.9,246.4 251.6,245.9 252.2,245.1 252.9,244.2 253.6,242.6 254.3,240.9 254.9,238.4 255.6,235.3 256.3,230.7 256.9,225.8 257.6,220 258.3,212.4 259,203.2 259.6,193.6 260.3,184.1 261,174.7 261.6,168 262.3,163.9 263,157.6 263.7,154.2 264.3,152.4 265,156.1 265.7,160.4 266.4,163.8 267,164.3 267.7,164.1 268.4,164.5 269,165.6 269.7,165.5 270.4,163.9 271.1,163.4 271.7,162.2 272.4,162.6 273.1,161.1 273.7,161.2 274.4,162 275.1,164.7 275.8,167.5 276.4,172.6 277.1,178.7 277.8,185.8 278.4,191 279.1,196.3 279.8,202 280.5,209.8 281.1,217.2 281.8,223.8 282.5,228.7 283.1,232.5 283.8,235.6 284.5,237.8 285.2,239.3 285.8,240.7 286.5,241.9 287.2,243.5 287.8,244.6 288.5,245 289.2,245.2 289.9,245.9 290.5,247 291.2,247.4 291.9,247.6 292.5,247.6 293.2,247.8 293.9,248.1 294.6,248.4 295.2,249 295.9,249.2 296.6,249.4 297.2,249.3 297.9,249.4 298.6,249.1 299.3,249.4 299.9,249.4 300.6,249.8 301.3,249.7 301.9,250 302.6,249.7 303.3,249.8 304,250 304.6,250.5 305.3,250.6 306,250.4 306.6,249.9 307.3,250.1 308,250.2 308.7,250.5 309.3,250.3 310,250.1 310.7,250.1 311.3,250.4 312,250.4 312.7,250.4 313.4,250.4 314,250.7 314.7,250.9 315.4,250.7 316,250.5 316.7,250.5 317.4,250.6 318.1,250.8 318.7,250.9 319.4,250.8 320.1,250.6 320.7,250.9 321.4,251 322.1,251 322.8,250.5 323.4,250.3 324.1,250.7 324.8,251.2 325.4,251.2 326.1,250.9 326.8,250.7 327.5,250.5 328.1,250.6 328.8,250.8" fill="none" stroke="#9fd0a3" stroke-width="1.5" stroke-linejoin="round" stroke-linecap="round" />
<path d="M60.2,250.4 60.9,250.6 61.5,251.1 62.2,251.3 62.9,251 63.6,250.7 64.2,250.4 64.9,250.5 65.6,250.6 66.2,250.6 66.9,250.6 67.6,250.6 68.3,250.8 68.9,250.9 69.6,250.8 70.3,250.8 70.9,250.5 71.6,250.5 72.3,250.6 73,250.9 73.6,250.7 74.3,249.9 75,249 75.6,248.6 76.3,247.9 77,246.8 77.7,244.8 78.3,243.1 79,240.7 79.7,238.7 80.3,236.6 81,233.7 81.7,230.6 82.4,227.1 83,225.4 83.7,223.8 84.4,223 85,221.4 85.7,220.9 86.4,220.8 87.1,221.3 87.7,221.9 88.4,222.6 89.1,224.4 89.7,225.8 90.4,226.5 91.1,226 91.8,225.4 92.4,224.4 93.1,224.3 93.8,223.1 94.4,222.8 95.1,221.7 95.8,222.6 96.5,223 97.1,224.9 97.8,226.9 98.5,230.8 99.1,233.7 99.8,235.5 100.5,236.9 101.2,237.6 101.8,238.7 102.5,239 103.2,239.4 103.8,235.7 104.5,230.1 105.2,222.5 105.9,213.8 106.5,205.6 107.2,193.9 107.9,166.3 108.5,134.6 109.2,118.9 109.9,105.1 110.6,93.3 111.2,82 111.9,78.8 112.6,82 113.2,91.1 113.9,102 114.6,112.8 115.3,123.9 115.9,134 116.6,143 117.3,151.7 117.9,158.6 118.6,161 119.3,161.8 120,161.7 120.6,164.7 121.3,165.8 122,167.3 122.6,167.9 123.3,167.6 124,168.9 124.7,168.9 125.3,171 126,173.5 126.7,179 127.4,185.1 128,195.1 128.7,203.8 129.4,211.2 130,215.8 130.7,220 131.4,222.7 132.1,225.3 132.7,227.4 133.4,229.8 134.1,232 134.7,233.6 135.4,235.3 136.1,236.2 136.8,237.7 137.4,239.2 138.1,240.6 138.8,241.5 139.4,241.9 140.1,242.4 140.8,243.2 141.5,243.8 142.1,244.6 142.8,245.1 143.5,245.9 144.1,246 144.8,246.2 145.5,246.3 146.2,246.8 146.8,247.5 147.5,248 148.2,248.2 148.8,248 149.5,248 150.2,248.1 150.9,248.4 151.5,248.6 152.2,249.2 152.9,249.2 153.5,249.7 154.2,249.5 154.9,250.1 155.6,249.8 156.2,249.7 156.9,249.5 157.6,249.6 158.2,249.8 158.9,250.2 159.6,250.7 160.3,250.9 160.9,250.8 161.6,250.6 162.3,250.3 162.9,249.9 163.6,249.8 164.3,250.4 165,250.6 165.6,250.7 166.3,250.6 167,250.5 167.6,250.8 168.3,250.6 169,250.8 169.7,250.4 170.3,250.6 171,250.7 171.7,250.9 172.3,250.9 173,250.7 173.7,250.2 174.4,250 175,250.1 175.7,250.7 176.4,250.9 177,250.8 177.7,250.9 178.4,250.9 179.1,250.8 179.7,250.6 180.4,250.8 181.1,250.9 181.7,250.6 182.4,250.4 183.1,250.5 183.8,250.6 184.4,250.5 185.1,250.6 185.8,250.8 186.4,250.9 187.1,250.8 187.8,250.6 188.5,250.7 189.1,250.7 189.8,250.8 190.5,251 191.1,250.9 191.8,250.9 192.5,250.8 193.2,251.2 193.8,251 194.5,250.6 195.2,250.3 195.8,250.5 196.5,250.6 197.2,250.8 197.9,250.8 198.5,250.8 199.2,250.8 199.9,250.6 200.5,250.7 201.2,250.3 201.9,250.8 202.6,250.6 203.2,250.8 203.9,250.5 204.6,250.8 205.2,250.9 205.9,250.8 206.6,250.6 207.3,250.4 207.9,250.5 208.6,250.5 209.3,250.8 209.9,250.9 210.6,251.1 211.3,250.5 212,250.3 212.6,250.4 213.3,250.9 214,251 214.6,250.8 215.3,250.3 216,250.6 216.7,250.5 217.3,250.6 218,250.3 218.7,250.5 219.3,250.6 220,250.9 220.7,250.7 221.4,251.1 222,250.8 222.7,250.9 223.4,250.6 224,250.6 224.7,250.7 225.4,250.8 226.1,251 226.7,250.9 227.4,250.7 228.1,250.7 228.7,250.7 229.4,250.6 230.1,250.3 230.8,250.4 231.4,250.3 232.1,250.6 232.8,250.7 233.4,251.1 234.1,251 234.8,250.9 235.5,250.7 236.1,250.9 236.8,250.7 237.5,250.9 238.1,250.8 238.8,251.3 239.5,250.8 240.2,250.5 240.8,250 241.5,250 242.2,250.1 242.8,250.1 243.5,250.2 244.2,249.8 244.9,249.5 245.5,249.2 246.2,249.2 246.9,249 247.5,248.6 248.2,247.9 248.9,247.1 249.6,246.6 250.2,245.9 250.9,245.5 251.6,244.6 252.2,243.2 252.9,241.3 253.6,239.2 254.3,237 254.9,233.4 255.6,229 256.3,222.5 256.9,215.6 257.6,206 258.3,195.2 259,180.9 259.6,168.4 260.3,154.6 261,142.3 261.6,134.6 262.3,126.9 263,118 263.7,111.5 264.3,109.4 265,114.3 265.7,118.6 266.4,124.8 267,128.1 267.7,130.7 268.4,130.5 269,131.5 269.7,132.1 270.4,131.4 271.1,128.9 271.7,125.7 272.4,122.6 273.1,122.2 273.7,120.8 274.4,124.2 275.1,127.4 275.8,135.2 276.4,140.9 277.1,147.6 277.8,154.2 278.4,163.1 279.1,173.1 279.8,183.3 280.5,193.6 281.1,204.4 281.8,213.7 282.5,220.9 283.1,225.6 283.8,229.2 284.5,231.7 285.2,234 285.8,235.9 286.5,237.9 287.2,239.4 287.8,240.8 288.5,242.2 289.2,243.4 289.9,244.6 290.5,245.6 291.2,246.4 291.9,246.6 292.5,246.8 293.2,247.1 293.9,247.7 294.6,248.1 295.2,248.4 295.9,248.7 296.6,249 297.2,249.1 297.9,249.1 298.6,248.9 299.3,249 299.9,249 300.6,249.3 301.3,249.2 301.9,249.3 302.6,249.3 303.3,249.3 304,249.6 304.6,249.7 305.3,250 306,250.1 306.6,250.2 307.3,250.2 308,250 308.7,249.9 309.3,250.1 310,250.2 310.7,250.4 311.3,250.4 312,250.4 312.7,250.7 313.4,250.8 314,250.9 314.7,250.7 315.4,250.5 316,250.5 316.7,250.3 317.4,250.6 318.1,250.3 318.7,250.7 319.4,250.6 320.1,251 320.7,251 321.4,250.9 322.1,250.9 322.8,250.7 323.4,250.6 324.1,250.7 324.8,250.6 325.4,250.7 326.1,250.5 326.8,250.6 327.5,250.7 328.1,250.4 328.8,250.4" fill="none" stroke="#3f8c51" stroke-width="2.0" stroke-linejoin="round" stroke-linecap="round" />
<path d="M60.2,250.9 60.9,250.8 61.5,250.6 62.2,250.8 62.9,250.5 63.6,250.5 64.2,250.4 64.9,250.7 65.6,251 66.2,251.1 66.9,250.7 67.6,250.5 68.3,250.7 68.9,250.7 69.6,250.7 70.3,250.4 70.9,250.7 71.6,250.7 72.3,250.7 73,250.9 73.6,250.9 74.3,250.7 75,249.8 75.6,249 76.3,247.8 77,246.6 77.7,244.8 78.3,243.6 79,241.6 79.7,239.3 80.3,236.4 81,233.5 81.7,230.4 82.4,227.7 83,225.6 83.7,223.9 84.4,222.5 85,221.5 85.7,220.9 86.4,220.7 87.1,221 87.7,222.1 88.4,223.2 89.1,224 89.7,225.1 90.4,226 91.1,226.7 91.8,226.3 92.4,225.2 93.1,224.3 93.8,223.2 94.4,222.3 95.1,222.1 95.8,222.4 96.5,223.9 97.1,225.2 97.8,228.1 98.5,231 99.1,233.8 99.8,235.2 100.5,236.6 101.2,237.7 101.8,238.7 102.5,239.3 103.2,239.5 103.8,236.1 104.5,230.3 105.2,223.3 105.9,214 106.5,205.4 107.2,193 107.9,166.2 108.5,135.3 109.2,117.3 109.9,103.2 110.6,93.1 111.2,83 111.9,77.5 112.6,81.3 113.2,93.9 113.9,106.8 114.6,114.5 115.3,124.7 115.9,134 116.6,142.7 117.3,148.5 117.9,152.3 118.6,153.2 119.3,154.2 120,154.9 120.6,154.2 121.3,154.1 122,154.7 122.6,157.7 123.3,159.7 124,162.3 124.7,162.3 125.3,163.3 126,167.4 126.7,175.1 127.4,184 128,194 128.7,202.7 129.4,209.9 130,214.9 130.7,219.2 131.4,222.9 132.1,226 132.7,228 133.4,229.3 134.1,230.7 134.7,232.7 135.4,234.9 136.1,236.3 136.8,237.7 137.4,238.5 138.1,239.9 138.8,241.1 139.4,242.3 140.1,243.3 140.8,244.1 141.5,244.6 142.1,244.9 142.8,245.3 143.5,245.9 144.1,246.3 144.8,246.9 145.5,247 146.2,247.2 146.8,247.4 147.5,247.8 148.2,248.2 148.8,248 149.5,248 150.2,248.3 150.9,248.7 151.5,249.1 152.2,249.5 152.9,249.5 153.5,249.3 154.2,249.1 154.9,249.3 155.6,249.5 156.2,249.9 156.9,250.2 157.6,250.4 158.2,250.1 158.9,250 159.6,250 160.3,250.4 160.9,250.5 161.6,250.5 162.3,250.4 162.9,250.4 163.6,250.3 164.3,250.6 165,250.5 165.6,251 166.3,251 167,251 167.6,250.9 168.3,250.8 169,250.9 169.7,250.5 170.3,250.5 171,250.5 171.7,250.7 172.3,250.7 173,250.3 173.7,250.7 174.4,250.6 175,250.8 175.7,250.7 176.4,250.7 177,251.1 177.7,251 178.4,250.9 179.1,250.7 179.7,250.8 180.4,250.8 181.1,250.6 181.7,250.4 182.4,250.6 183.1,250.8 183.8,250.8 184.4,250.7 185.1,250.6 185.8,250.8 186.4,250.8 187.1,250.6 187.8,250.6 188.5,250.7 189.1,251 189.8,251 190.5,251 191.1,250.8 191.8,250.8 192.5,250.8 193.2,250.9 193.8,250.8 194.5,250.7 195.2,250.7 195.8,250.8 196.5,250.9 197.2,250.8 197.9,250.7 198.5,250.7 199.2,250.8 199.9,250.8 200.5,250.6 201.2,250.4 201.9,250.7 202.6,250.6 203.2,250.9 203.9,250.6 204.6,250.6 205.2,250.3 205.9,250.5 206.6,250.4 207.3,251 207.9,251 208.6,251.4 209.3,251.2 209.9,251.3 210.6,251.2 211.3,251.1 212,251.1 212.6,251.1 213.3,251.2 214,251.1 214.6,250.9 215.3,250.8 216,250.9 216.7,251.2 217.3,251.1 218,250.9 218.7,250.6 219.3,250.7 220,250.6 220.7,250.6 221.4,250.2 222,250.4 222.7,250.4 223.4,250.5 224,250.5 224.7,250.6 225.4,250.9 226.1,250.9 226.7,250.8 227.4,250.7 228.1,250.8 228.7,250.5 229.4,250.7 230.1,250.4 230.8,250.7 231.4,250.5 232.1,250.6 232.8,250.5 233.4,250.5 234.1,250.3 234.8,250.5 235.5,250.8 236.1,251.2 236.8,251.4 237.5,251.1 238.1,251 238.8,250.9 239.5,250.8 240.2,250.5 240.8,250.2 241.5,250.5 242.2,250.5 242.8,250.6 243.5,250 244.2,249.7 244.9,249.2 245.5,248.8 246.2,248 246.9,247.8 247.5,247.5 248.2,247.4 248.9,246.7 249.6,246.3 250.2,245.5 250.9,244.5 251.6,243.1 252.2,241.8 252.9,240.5 253.6,238.5 254.3,235.3 254.9,231.2 255.6,226.5 256.3,220.1 256.9,211.8 257.6,201.5 258.3,190 259,176.1 259.6,162.6 260.3,148.4 261,132.4 261.6,123.1 262.3,113.2 263,106.7 263.7,99.5 264.3,98.6 265,105.8 265.7,111.3 266.4,115.7 267,115.7 267.7,119.4 268.4,121.5 269,122.8 269.7,118.6 270.4,116.9 271.1,114.4 271.7,114.6 272.4,112.8 273.1,109.9 273.7,108.2 274.4,110 275.1,116.3 275.8,123 276.4,132.4 277.1,140.8 277.8,149.1 278.4,156.5 279.1,166.4 279.8,175.3 280.5,185.4 281.1,196.6 281.8,207.3 282.5,215.7 283.1,221 283.8,226.2 284.5,229.7 285.2,232.9 285.8,234.8 286.5,236.7 287.2,238.1 287.8,239.8 288.5,241.3 289.2,242.3 289.9,243.4 290.5,244.3 291.2,245.3 291.9,246 292.5,246.5 293.2,246.7 293.9,247 294.6,247.2 295.2,247.6 295.9,247.9 296.6,248 297.2,248.2 297.9,248.5 298.6,248.7 299.3,249.1 299.9,249.3 300.6,249.2 301.3,248.9 301.9,248.9 302.6,249.3 303.3,249.5 304,249.7 304.6,249.8 305.3,250.3 306,250.5 306.6,250.1 307.3,250 308,250.1 308.7,250.6 309.3,250.9 310,250.4 310.7,250.4 311.3,250.3 312,250.4 312.7,250.1 313.4,250.1 314,250.2 314.7,250.6 315.4,250.4 316,250.4 316.7,250.3 317.4,250.6 318.1,250.4 318.7,250.5 319.4,250.3 320.1,250.3 320.7,250.5 321.4,250.7 322.1,250.8 322.8,250.8 323.4,250.8 324.1,250.8 324.8,250.9 325.4,251 326.1,251 326.8,250.8 327.5,250.9 328.1,251.1 328.8,251.2" fill="none" stroke="#2e623c" stroke-width="2.0" stroke-linejoin="round" stroke-linecap="round" />
<line x1="59.4" y1="251.3" x2="329.6" y2="251.3" stroke="#000" stroke-width="1.5" />
<rect x="416" y="35.5" width="267.6" height="215.9" fill="none" stroke="#000" stroke-width="1.6"/>
<line x1="684.1" y1="34.7" x2="684.1" y2="252.2" stroke="#000" stroke-width="1.9" />
<line x1="411.8" y1="240.25" x2="416" y2="240.25" stroke="#000" stroke-width="1.6" />
<line x1="411.8" y1="202.05" x2="416" y2="202.05" stroke="#000" stroke-width="1.6" />
<line x1="411.8" y1="163.85" x2="416" y2="163.85" stroke="#000" stroke-width="1.6" />
<line x1="411.8" y1="125.65" x2="416" y2="125.65" stroke="#000" stroke-width="1.6" />
<line x1="411.8" y1="87.45" x2="416" y2="87.45" stroke="#000" stroke-width="1.6" />
<line x1="411.8" y1="49.25" x2="416" y2="49.25" stroke="#000" stroke-width="1.6" />
<line x1="413.8" y1="221.15" x2="416" y2="221.15" stroke="#000" stroke-width="1.6" />
<line x1="413.8" y1="182.95" x2="416" y2="182.95" stroke="#000" stroke-width="1.6" />
<line x1="413.8" y1="144.75" x2="416" y2="144.75" stroke="#000" stroke-width="1.6" />
<line x1="413.8" y1="106.55" x2="416" y2="106.55" stroke="#000" stroke-width="1.6" />
<line x1="413.8" y1="68.35" x2="416" y2="68.35" stroke="#000" stroke-width="1.6" />
<line x1="442.4" y1="251.4" x2="442.4" y2="255.6" stroke="#000" stroke-width="1.6" />
<line x1="496.15" y1="251.4" x2="496.15" y2="255.6" stroke="#000" stroke-width="1.6" />
<line x1="549.9" y1="251.4" x2="549.9" y2="255.6" stroke="#000" stroke-width="1.6" />
<line x1="603.65" y1="251.4" x2="603.65" y2="255.6" stroke="#000" stroke-width="1.6" />
<line x1="657.4" y1="251.4" x2="657.4" y2="255.6" stroke="#000" stroke-width="1.6" />
<line x1="415.52" y1="251.4" x2="415.52" y2="253.6" stroke="#000" stroke-width="1.6" />
<line x1="469.27" y1="251.4" x2="469.27" y2="253.6" stroke="#000" stroke-width="1.6" />
<line x1="523.02" y1="251.4" x2="523.02" y2="253.6" stroke="#000" stroke-width="1.6" />
<line x1="576.77" y1="251.4" x2="576.77" y2="253.6" stroke="#000" stroke-width="1.6" />
<line x1="630.52" y1="251.4" x2="630.52" y2="253.6" stroke="#000" stroke-width="1.6" />
<line x1="684.27" y1="251.4" x2="684.27" y2="253.6" stroke="#000" stroke-width="1.6" />
<text x="405.6" y="244.75" font-size="12.7" text-anchor="end" font-weight="bold" >0</text>
<text x="405.6" y="206.55" font-size="12.7" text-anchor="end" font-weight="bold" >7000</text>
<text x="405.6" y="168.35" font-size="12.7" text-anchor="end" font-weight="bold" >14,000</text>
<text x="405.6" y="130.15" font-size="12.7" text-anchor="end" font-weight="bold" >21,000</text>
<text x="405.6" y="91.95" font-size="12.7" text-anchor="end" font-weight="bold" >28,000</text>
<text x="405.6" y="53.75" font-size="12.7" text-anchor="end" font-weight="bold" >35,000</text>
<text x="442.4" y="270.9" font-size="12.7" text-anchor="middle" font-weight="bold" >0</text>
<text x="496.15" y="270.9" font-size="12.7" text-anchor="middle" font-weight="bold" >500</text>
<text x="549.9" y="270.9" font-size="12.7" text-anchor="middle" font-weight="bold" >1000</text>
<text x="603.65" y="270.9" font-size="12.7" text-anchor="middle" font-weight="bold" >1500</text>
<text x="657.4" y="270.9" font-size="12.7" text-anchor="middle" font-weight="bold" >2000</text>
<text x="550.5" y="290.6" font-size="13" text-anchor="middle" font-weight="bold" >Concentration of H<tspan font-size="8.84" dy="3.51">2</tspan><tspan dy="-3.51">S </tspan><tspan font-weight="normal">(μ</tspan>M<tspan font-weight="normal">)</tspan></text>
<text transform="translate(355.7,141.5) rotate(-90)" font-size="13" text-anchor="middle" font-weight="bold">Intensity (a.u.)</text>
<path d="M445.3,217 445.7,213.3 446.1,209.8 446.6,206.5 447,203.6 447.4,200.7 447.8,198 448.2,195.6 448.6,193.8 449.1,192.4 449.5,191.1 449.9,190 450.3,189 450.7,188 451.2,187.1 451.6,186.2 452,185.4 452.4,184.5 452.8,183.8 453.3,183 453.7,182.3 454.1,181.6 454.5,180.9 454.9,180.2 455.3,179.5 455.8,178.8 456.2,178.1 456.6,177.4 457,176.7 457.4,176 457.9,175.4 458.3,174.7 458.7,174 459.1,173.4 459.5,172.7 460,172 460.4,171.4 460.8,170.7 461.2,170.1 461.6,169.4 462,168.8 462.5,168.1 462.9,167.4 463.3,166.8 463.7,166.1 464.1,165.4 464.6,164.7 465,164.1 465.4,163.4 465.8,162.7 466.2,162 466.7,161.3 467.1,160.6 467.5,159.9 467.9,159.2 468.3,158.5 468.7,157.8 469.2,157.1 469.6,156.3 470,155.6 471.6,153 473.1,150.3 474.7,147.7 476.3,145.1 477.8,142.5 479.4,140 481,137.5 482.5,135 484.1,132.5 485.7,130 487.2,127.6 488.8,125.2 490.4,122.8 491.9,120.6 493.5,118.4 495.1,116.4 496.6,114.5 498.2,112.8 499.8,111 501.4,109.4 502.9,107.8 504.5,106.2 506.1,104.7 507.6,103.3 509.2,101.9 510.8,100.5 512.3,99.2 513.9,97.9 515.5,96.7 517,95.5 518.6,94.3 520.2,93.2 521.7,92.1 523.3,91.1 524.9,90.1 526.4,89 528,88 529.6,87 531.1,86 532.7,85.1 534.3,84.1 535.8,83.2 537.4,82.3 539,81.5 540.5,80.6 542.1,79.8 543.7,79 545.2,78.2 546.8,77.5 548.4,76.7 549.9,76 551.5,75.4 553.1,74.8 554.6,74.2 556.2,73.7 557.8,73.1 559.4,72.6 560.9,72.1 562.5,71.6 564.1,71.1 565.6,70.6 567.2,70.2 568.8,69.7 570.3,69.2 571.9,68.7 573.5,68.2 575,67.7 576.6,67.2 578.2,66.7 579.7,66.3 581.3,65.8 582.9,65.4 584.4,64.9 586,64.5 587.6,64.2 589.1,63.8 590.7,63.5 592.3,63.2 593.8,62.9 595.4,62.6 597,62.3 598.5,62 600.1,61.7 601.7,61.5 603.2,61.2 604.8,61 606.4,60.8 607.9,60.6 609.5,60.4 611.1,60.2 612.6,60 614.2,59.9 615.8,59.7 617.4,59.6 618.9,59.5 620.5,59.4 622.1,59.2 623.6,59.1 625.2,59 626.8,58.9 628.3,58.8 629.9,58.7 631.5,58.6 633,58.5 634.6,58.4 636.2,58.3 637.7,58.3 639.3,58.2 640.9,58.1 642.4,58 644,57.9 645.6,57.8 647.1,57.7 648.7,57.6 650.3,57.6 651.8,57.5 653.4,57.4 655,57.3 656.5,57.2" fill="none" stroke="#2e8a5e" stroke-width="2.1" stroke-linejoin="round" stroke-linecap="round" />
<line x1="495.93" y1="104.2" x2="495.93" y2="126.9" stroke="#4a3a9c" stroke-width="1.7" />
<line x1="493.53" y1="104.2" x2="498.33" y2="104.2" stroke="#4a3a9c" stroke-width="1.8" />
<line x1="493.53" y1="126.9" x2="498.33" y2="126.9" stroke="#4a3a9c" stroke-width="1.8" />
<line x1="656.54" y1="44.3" x2="656.54" y2="70.3" stroke="#4a3a9c" stroke-width="1.7" />
<line x1="654.14" y1="44.3" x2="658.94" y2="44.3" stroke="#4a3a9c" stroke-width="1.8" />
<line x1="654.14" y1="70.3" x2="658.94" y2="70.3" stroke="#4a3a9c" stroke-width="1.8" />
<circle cx="442.4" cy="233.87" r="3.6" fill="url(#ball)"/>
<ellipse cx="441.7" cy="233.97" rx="1.3" ry="0.8" fill="#d0c8ee" opacity="0.6"/>
<circle cx="442.45" cy="232.88" r="3.6" fill="url(#ball)"/>
<ellipse cx="441.75" cy="232.98" rx="1.3" ry="0.8" fill="#d0c8ee" opacity="0.6"/>
<circle cx="442.51" cy="232.06" r="3.6" fill="url(#ball)"/>
<ellipse cx="441.81" cy="232.16" rx="1.3" ry="0.8" fill="#d0c8ee" opacity="0.6"/>
<circle cx="442.61" cy="231.08" r="3.6" fill="url(#ball)"/>
<ellipse cx="441.91" cy="231.18" rx="1.3" ry="0.8" fill="#d0c8ee" opacity="0.6"/>
<circle cx="442.83" cy="229.88" r="3.6" fill="url(#ball)"/>
<ellipse cx="442.13" cy="229.98" rx="1.3" ry="0.8" fill="#d0c8ee" opacity="0.6"/>
<circle cx="443.04" cy="226.77" r="3.6" fill="url(#ball)"/>
<ellipse cx="442.34" cy="226.87" rx="1.3" ry="0.8" fill="#d0c8ee" opacity="0.6"/>
<circle cx="443.26" cy="226.53" r="3.6" fill="url(#ball)"/>
<ellipse cx="442.56" cy="226.63" rx="1.3" ry="0.8" fill="#d0c8ee" opacity="0.6"/>
<circle cx="443.47" cy="223.22" r="3.6" fill="url(#ball)"/>
<ellipse cx="442.77" cy="223.32" rx="1.3" ry="0.8" fill="#d0c8ee" opacity="0.6"/>
<circle cx="444.55" cy="219.84" r="3.6" fill="url(#ball)"/>
<ellipse cx="443.85" cy="219.94" rx="1.3" ry="0.8" fill="#d0c8ee" opacity="0.6"/>
<circle cx="445.62" cy="216.89" r="3.6" fill="url(#ball)"/>
<ellipse cx="444.93" cy="216.99" rx="1.3" ry="0.8" fill="#d0c8ee" opacity="0.6"/>
<circle cx="447.45" cy="204.2" r="3.6" fill="url(#ball)"/>
<ellipse cx="446.75" cy="204.3" rx="1.3" ry="0.8" fill="#d0c8ee" opacity="0.6"/>
<circle cx="449.39" cy="193.6" r="3.6" fill="url(#ball)"/>
<ellipse cx="448.69" cy="193.7" rx="1.3" ry="0.8" fill="#d0c8ee" opacity="0.6"/>
<circle cx="463.58" cy="165.8" r="3.6" fill="url(#ball)"/>
<ellipse cx="462.88" cy="165.9" rx="1.3" ry="0.8" fill="#d0c8ee" opacity="0.6"/>
<circle cx="495.93" cy="115.1" r="3.6" fill="url(#ball)"/>
<ellipse cx="495.23" cy="115.2" rx="1.3" ry="0.8" fill="#d0c8ee" opacity="0.6"/>
<circle cx="549.68" cy="66.79" r="3.6" fill="url(#ball)"/>
<ellipse cx="548.98" cy="66.89" rx="1.3" ry="0.8" fill="#d0c8ee" opacity="0.6"/>
<circle cx="656.54" cy="57.24" r="3.6" fill="url(#ball)"/>
<ellipse cx="655.84" cy="57.34" rx="1.3" ry="0.8" fill="#d0c8ee" opacity="0.6"/>
<rect x="541.0" y="111.4" width="134" height="108.5" fill="#fff" stroke="#000" stroke-width="1.5"/>
<line x1="537.8" y1="219.9" x2="541" y2="219.9" stroke="#000" stroke-width="1.3" />
<line x1="537.8" y1="198.2" x2="541" y2="198.2" stroke="#000" stroke-width="1.3" />
<line x1="537.8" y1="176.5" x2="541" y2="176.5" stroke="#000" stroke-width="1.3" />
<line x1="537.8" y1="154.8" x2="541" y2="154.8" stroke="#000" stroke-width="1.3" />
<line x1="537.8" y1="133.1" x2="541" y2="133.1" stroke="#000" stroke-width="1.3" />
<line x1="537.8" y1="111.4" x2="541" y2="111.4" stroke="#000" stroke-width="1.3" />
<line x1="539.2" y1="209.05" x2="541" y2="209.05" stroke="#000" stroke-width="1.3" />
<line x1="539.2" y1="187.35" x2="541" y2="187.35" stroke="#000" stroke-width="1.3" />
<line x1="539.2" y1="165.65" x2="541" y2="165.65" stroke="#000" stroke-width="1.3" />
<line x1="539.2" y1="143.95" x2="541" y2="143.95" stroke="#000" stroke-width="1.3" />
<line x1="539.2" y1="122.25" x2="541" y2="122.25" stroke="#000" stroke-width="1.3" />
<line x1="549.3" y1="219.9" x2="549.3" y2="222.5" stroke="#000" stroke-width="1.3" />
<line x1="566" y1="219.9" x2="566" y2="222.5" stroke="#000" stroke-width="1.3" />
<line x1="582.7" y1="219.9" x2="582.7" y2="222.5" stroke="#000" stroke-width="1.3" />
<line x1="599.4" y1="219.9" x2="599.4" y2="222.5" stroke="#000" stroke-width="1.3" />
<line x1="616.1" y1="219.9" x2="616.1" y2="222.5" stroke="#000" stroke-width="1.3" />
<line x1="632.8" y1="219.9" x2="632.8" y2="222.5" stroke="#000" stroke-width="1.3" />
<line x1="649.5" y1="219.9" x2="649.5" y2="222.5" stroke="#000" stroke-width="1.3" />
<line x1="666.2" y1="219.9" x2="666.2" y2="222.5" stroke="#000" stroke-width="1.3" />
<line x1="540.95" y1="219.9" x2="540.95" y2="221.4" stroke="#000" stroke-width="1.3" />
<line x1="557.65" y1="219.9" x2="557.65" y2="221.4" stroke="#000" stroke-width="1.3" />
<line x1="574.35" y1="219.9" x2="574.35" y2="221.4" stroke="#000" stroke-width="1.3" />
<line x1="591.05" y1="219.9" x2="591.05" y2="221.4" stroke="#000" stroke-width="1.3" />
<line x1="607.75" y1="219.9" x2="607.75" y2="221.4" stroke="#000" stroke-width="1.3" />
<line x1="624.45" y1="219.9" x2="624.45" y2="221.4" stroke="#000" stroke-width="1.3" />
<line x1="641.15" y1="219.9" x2="641.15" y2="221.4" stroke="#000" stroke-width="1.3" />
<line x1="657.85" y1="219.9" x2="657.85" y2="221.4" stroke="#000" stroke-width="1.3" />
<line x1="674.55" y1="219.9" x2="674.55" y2="221.4" stroke="#000" stroke-width="1.3" />
<text x="535.6" y="223.1" font-size="9" text-anchor="end" font-weight="bold" >0</text>
<text x="535.6" y="201.4" font-size="9" text-anchor="end" font-weight="bold" >2000</text>
<text x="535.6" y="179.7" font-size="9" text-anchor="end" font-weight="bold" >4000</text>
<text x="535.6" y="158" font-size="9" text-anchor="end" font-weight="bold" >6000</text>
<text x="535.6" y="136.3" font-size="9" text-anchor="end" font-weight="bold" >8000</text>
<text x="535.6" y="114.6" font-size="9" text-anchor="end" font-weight="bold" >10,000</text>
<text x="549.3" y="233.2" font-size="9" text-anchor="middle" font-weight="bold" >0</text>
<text x="566" y="233.2" font-size="9" text-anchor="middle" font-weight="bold" >10</text>
<text x="582.7" y="233.2" font-size="9" text-anchor="middle" font-weight="bold" >20</text>
<text x="599.4" y="233.2" font-size="9" text-anchor="middle" font-weight="bold" >30</text>
<text x="616.1" y="233.2" font-size="9" text-anchor="middle" font-weight="bold" >40</text>
<text x="632.8" y="233.2" font-size="9" text-anchor="middle" font-weight="bold" >50</text>
<text x="649.5" y="233.2" font-size="9" text-anchor="middle" font-weight="bold" >60</text>
<text x="666.2" y="233.2" font-size="9" text-anchor="middle" font-weight="bold" >70</text>
<text x="607.7" y="246.2" font-size="9.2" text-anchor="middle" font-weight="bold" >Concentration of H<tspan font-size="6.26" dy="2.48">2</tspan><tspan dy="-2.48">S </tspan><tspan font-weight="normal">(μ</tspan>M<tspan font-weight="normal">)</tspan></text>
<text transform="translate(501.8,166.5) rotate(-90)" font-size="9.3" text-anchor="middle" font-weight="bold">Intensity (a.u.)</text>
<line x1="566" y1="182.2" x2="566" y2="189.8" stroke="#5a4aaa" stroke-width="1" />
<line x1="564.7" y1="182.2" x2="567.3" y2="182.2" stroke="#5a4aaa" stroke-width="1" />
<line x1="564.7" y1="189.8" x2="567.3" y2="189.8" stroke="#5a4aaa" stroke-width="1" />
<line x1="666.2" y1="122" x2="666.2" y2="131" stroke="#5a4aaa" stroke-width="1" />
<line x1="664.9" y1="122" x2="667.5" y2="122" stroke="#5a4aaa" stroke-width="1" />
<line x1="664.9" y1="131" x2="667.5" y2="131" stroke="#5a4aaa" stroke-width="1" />
<line x1="599.4" y1="171.5" x2="599.4" y2="175" stroke="#5a4aaa" stroke-width="1" />
<line x1="598.1" y1="171.5" x2="600.7" y2="171.5" stroke="#5a4aaa" stroke-width="1" />
<line x1="598.1" y1="175" x2="600.7" y2="175" stroke="#5a4aaa" stroke-width="1" />
<circle cx="549.3" cy="207.21" r="2.6" fill="url(#ball2)"/>
<circle cx="550.13" cy="205.25" r="2.6" fill="url(#ball2)"/>
<circle cx="550.97" cy="203.84" r="2.6" fill="url(#ball2)"/>
<circle cx="552.64" cy="201.67" r="2.6" fill="url(#ball2)"/>
<circle cx="555.98" cy="199.28" r="2.6" fill="url(#ball2)"/>
<circle cx="559.32" cy="193.1" r="2.6" fill="url(#ball2)"/>
<circle cx="562.66" cy="192.61" r="2.6" fill="url(#ball2)"/>
<circle cx="566" cy="186.05" r="2.6" fill="url(#ball2)"/>
<circle cx="582.7" cy="179.32" r="2.6" fill="url(#ball2)"/>
<circle cx="599.4" cy="173.46" r="2.6" fill="url(#ball2)"/>
<circle cx="632.8" cy="148.29" r="2.6" fill="url(#ball2)"/>
<circle cx="666.2" cy="126.59" r="2.6" fill="url(#ball2)"/>
<path d="M550,202.6 666.2,127.1" fill="none" stroke="#2e8a5e" stroke-width="1.5" stroke-linejoin="round" stroke-linecap="round" />
<rect x="60" y="314.8" width="265.8" height="213.7" fill="none" stroke="#000" stroke-width="1.6"/>
<line x1="55.8" y1="528.95" x2="60" y2="528.95" stroke="#000" stroke-width="1.6" />
<line x1="55.8" y1="481.57" x2="60" y2="481.57" stroke="#000" stroke-width="1.6" />
<line x1="55.8" y1="434.2" x2="60" y2="434.2" stroke="#000" stroke-width="1.6" />
<line x1="55.8" y1="386.82" x2="60" y2="386.82" stroke="#000" stroke-width="1.6" />
<line x1="55.8" y1="339.45" x2="60" y2="339.45" stroke="#000" stroke-width="1.6" />
<line x1="57.8" y1="505.26" x2="60" y2="505.26" stroke="#000" stroke-width="1.6" />
<line x1="57.8" y1="457.89" x2="60" y2="457.89" stroke="#000" stroke-width="1.6" />
<line x1="57.8" y1="410.51" x2="60" y2="410.51" stroke="#000" stroke-width="1.6" />
<line x1="57.8" y1="363.14" x2="60" y2="363.14" stroke="#000" stroke-width="1.6" />
<line x1="57.8" y1="315.76" x2="60" y2="315.76" stroke="#000" stroke-width="1.6" />
<line x1="93.22" y1="528.5" x2="93.22" y2="532.7" stroke="#000" stroke-width="1.6" />
<line x1="159.68" y1="528.5" x2="159.68" y2="532.7" stroke="#000" stroke-width="1.6" />
<line x1="226.12" y1="528.5" x2="226.12" y2="532.7" stroke="#000" stroke-width="1.6" />
<line x1="292.57" y1="528.5" x2="292.57" y2="532.7" stroke="#000" stroke-width="1.6" />
<line x1="60" y1="528.5" x2="60" y2="530.7" stroke="#000" stroke-width="1.6" />
<line x1="126.45" y1="528.5" x2="126.45" y2="530.7" stroke="#000" stroke-width="1.6" />
<line x1="192.9" y1="528.5" x2="192.9" y2="530.7" stroke="#000" stroke-width="1.6" />
<line x1="259.35" y1="528.5" x2="259.35" y2="530.7" stroke="#000" stroke-width="1.6" />
<line x1="325.8" y1="528.5" x2="325.8" y2="530.7" stroke="#000" stroke-width="1.6" />
<text x="51.2" y="533.45" font-size="12.7" text-anchor="end" font-weight="bold" >–16</text>
<text x="51.2" y="486.07" font-size="12.7" text-anchor="end" font-weight="bold" >–8</text>
<text x="51.2" y="438.7" font-size="12.7" text-anchor="end" font-weight="bold" >0</text>
<text x="51.2" y="391.32" font-size="12.7" text-anchor="end" font-weight="bold" >8</text>
<text x="51.2" y="343.95" font-size="12.7" text-anchor="end" font-weight="bold" >16</text>
<text x="93.22" y="548.2" font-size="12.7" text-anchor="middle" font-weight="bold" >400</text>
<text x="159.68" y="548.2" font-size="12.7" text-anchor="middle" font-weight="bold" >500</text>
<text x="226.12" y="548.2" font-size="12.7" text-anchor="middle" font-weight="bold" >600</text>
<text x="292.57" y="548.2" font-size="12.7" text-anchor="middle" font-weight="bold" >700</text>
<text x="193" y="565.5" font-size="13" text-anchor="middle" font-weight="bold" >Wavelength (nm)</text>
<text transform="translate(17.2,421.6) rotate(-90)" font-size="13" text-anchor="middle" font-weight="bold">CD (mdeg)</text>
<text x="251.7" y="335.8" font-size="11.2" text-anchor="middle" font-weight="bold" >Concentration of H<tspan font-size="7.62" dy="3.02">2</tspan><tspan dy="-3.02">S </tspan><tspan font-weight="normal">(μ</tspan>M<tspan font-weight="normal">)</tspan></text>
<line x1="176.9" y1="351.7" x2="199.6" y2="351.7" stroke="#2e6b3d" stroke-width="1.6" />
<text x="205" y="355.7" font-size="11" text-anchor="start" font-weight="bold" >0</text>
<line x1="176.9" y1="364.4" x2="199.6" y2="364.4" stroke="#4f9e5e" stroke-width="1.6" />
<text x="205" y="368.4" font-size="11" text-anchor="start" font-weight="bold" >0.2</text>
<line x1="176.9" y1="377.1" x2="199.6" y2="377.1" stroke="#a6d4b0" stroke-width="1.6" />
<text x="205" y="381.1" font-size="11" text-anchor="start" font-weight="bold" >0.4</text>
<line x1="176.9" y1="389.8" x2="199.6" y2="389.8" stroke="#b5d89a" stroke-width="1.6" />
<text x="205" y="393.8" font-size="11" text-anchor="start" font-weight="bold" >0.8</text>
<line x1="176.9" y1="402.5" x2="199.6" y2="402.5" stroke="#dcefe5" stroke-width="1.6" />
<text x="205" y="406.5" font-size="11" text-anchor="start" font-weight="bold" >1</text>
<line x1="176.9" y1="415.2" x2="199.6" y2="415.2" stroke="#f8d3a5" stroke-width="1.6" />
<text x="205" y="419.2" font-size="11" text-anchor="start" font-weight="bold" >2</text>
<line x1="226" y1="351.7" x2="248.3" y2="351.7" stroke="#f7ab7c" stroke-width="1.6" />
<text x="253.4" y="355.7" font-size="11" text-anchor="start" font-weight="bold" >4</text>
<line x1="226" y1="364.4" x2="248.3" y2="364.4" stroke="#f08a4c" stroke-width="1.6" />
<text x="253.4" y="368.4" font-size="11" text-anchor="start" font-weight="bold" >8</text>
<line x1="226" y1="377.1" x2="248.3" y2="377.1" stroke="#e8bcbc" stroke-width="1.6" />
<text x="253.4" y="381.1" font-size="11" text-anchor="start" font-weight="bold" >10</text>
<line x1="226" y1="389.8" x2="248.3" y2="389.8" stroke="#d3a3a6" stroke-width="1.6" />
<text x="253.4" y="393.8" font-size="11" text-anchor="start" font-weight="bold" >20</text>
<line x1="226" y1="402.5" x2="248.3" y2="402.5" stroke="#c27c9e" stroke-width="1.6" />
<text x="253.4" y="406.5" font-size="11" text-anchor="start" font-weight="bold" >40</text>
<line x1="226" y1="415.2" x2="248.3" y2="415.2" stroke="#d4b8e0" stroke-width="1.6" />
<text x="253.4" y="419.2" font-size="11" text-anchor="start" font-weight="bold" >60</text>
<line x1="270.3" y1="351.7" x2="293" y2="351.7" stroke="#b592cc" stroke-width="1.6" />
<text x="298.2" y="355.7" font-size="11" text-anchor="start" font-weight="bold" >80</text>
<line x1="270.3" y1="364.4" x2="293" y2="364.4" stroke="#9672b2" stroke-width="1.6" />
<text x="298.2" y="368.4" font-size="11" text-anchor="start" font-weight="bold" >100</text>
<line x1="270.3" y1="377.1" x2="293" y2="377.1" stroke="#77508f" stroke-width="1.6" />
<text x="298.2" y="381.1" font-size="11" text-anchor="start" font-weight="bold" >200</text>
<line x1="270.3" y1="389.8" x2="293" y2="389.8" stroke="#6a6a6a" stroke-width="1.6" />
<text x="298.2" y="393.8" font-size="11" text-anchor="start" font-weight="bold" >600</text>
<line x1="270.3" y1="402.5" x2="293" y2="402.5" stroke="#b5b5b5" stroke-width="1.6" />
<text x="298.2" y="406.5" font-size="11" text-anchor="start" font-weight="bold" >1000</text>
<line x1="270.3" y1="415.2" x2="293" y2="415.2" stroke="#e2e2e2" stroke-width="1.6" />
<text x="298.2" y="419.2" font-size="11" text-anchor="start" font-weight="bold" >2000</text>
<path d="M60,431.7 60.7,431.8 61.3,431.8 62,431.7 62.7,431.5 63.3,431.3 64,431.2 64.7,431 65.3,431 66,431 66.6,430.5 67.3,430.2 68,430.3 68.6,430.3 69.3,430.3 70,430.2 70.6,430.4 71.3,430.3 72,430.4 72.6,430.6 73.3,430.7 74,430.6 74.6,430.6 75.3,430.4 75.9,430.1 76.6,430.2 77.3,429.9 77.9,429.8 78.6,429.9 79.3,429.7 79.9,429.7 80.6,429.5 81.3,429.6 81.9,429.7 82.6,429.4 83.3,429.7 83.9,429.8 84.6,429.5 85.3,429.3 85.9,429.1 86.6,429.2 87.2,429 87.9,429 88.6,428.8 89.2,428.7 89.9,428.6 90.6,428.7 91.2,429 91.9,429.1 92.6,429.3 93.2,429.5 93.9,429.3 94.6,429.7 95.2,429.8 95.9,429.6 96.5,430 97.2,430 97.9,430.2 98.5,430.2 99.2,430.3 99.9,430.7 100.5,430.6 101.2,430.6 101.9,430.9 102.5,431 103.2,431.3 103.9,431.8 104.5,431.9 105.2,432.5 105.9,432.6 106.5,432.7 107.2,433.2 107.8,433.6 108.5,433.8 109.2,433.7 109.8,433.8 110.5,434.1 111.2,434.1 111.8,434.4 112.5,434.7 113.2,434.9 113.8,434.9 114.5,435 115.2,435.2 115.8,435.4 116.5,435.4 117.1,435.4 117.8,435.4 118.5,435.8 119.1,436 119.8,436.3 120.5,436.3 121.1,436.6 121.8,436.6 122.5,436.6 123.1,436.5 123.8,436.7 124.5,436.6 125.1,436.8 125.8,437 126.5,437.1 127.1,437.2 127.8,437.2 128.4,437.4 129.1,437.8 129.8,437.7 130.4,438 131.1,437.9 131.8,437.6 132.4,437.6 133.1,437.3 133.8,437.5 134.4,437.5 135.1,437.5 135.8,437.5 136.4,437.2 137.1,436.9 137.7,436.9 138.4,436.8 139.1,436.8 139.7,436.7 140.4,436.7 141.1,436.3 141.7,436.1 142.4,436.2 143.1,436.2 143.7,436.1 144.4,436.2 145.1,436.1 145.7,435.8 146.4,435.7 147,436 147.7,436.1 148.4,435.9 149,435.7 149.7,435.7 150.4,435.3 151,435.2 151.7,435.3 152.4,435.3 153,435.1 153.7,435.1 154.4,435 155,434.9 155.7,434.7 156.4,434.8 157,435 157.7,434.9 158.3,434.8 159,434.6 159.7,434.4 160.3,434.4 161,434.1 161.7,433.9 162.3,433.5 163,433.3 163.7,433.1 164.3,433 165,432.8 165.7,432.8 166.3,432.9 167,433.2 167.6,433.2 168.3,433.4 169,433.3 169.6,433.6 170.3,433.5 171,433.8 171.6,433.5 172.3,433.4 173,433.3 173.6,433.4 174.3,433.6 175,433.9 175.6,433.7 176.3,433.5 177,433.5 177.6,433.8 178.3,433.7 178.9,434 179.6,434.2 180.3,434.1 180.9,433.9 181.6,434 182.3,434 182.9,433.9 183.6,433.8 184.3,433.6 184.9,433.1 185.6,433.2 186.3,433.2 186.9,433 187.6,433.2 188.2,433.6 188.9,433.8 189.6,434.1 190.2,434.5 190.9,434.7 191.6,434.4 192.2,434.1 192.9,434.3 193.6,434.4 194.2,434.4 194.9,434.3 195.6,434.1 196.2,434 196.9,434.3 197.6,434.4 198.2,434.9 198.9,435 199.5,434.8 200.2,434.7 200.9,434.5 201.5,434.9 202.2,434.8 202.9,434.5 203.5,434.6 204.2,434.2 204.9,434.3 205.5,434.2 206.2,434.2 206.9,434.6 207.5,434.3 208.2,434.4 208.8,434.6 209.5,434.4 210.2,434.4 210.8,434.1 211.5,434 212.2,434.1 212.8,433.9 213.5,434 214.2,434 214.8,434 215.5,434.1 216.2,434.2 216.8,434.4 217.5,434.5 218.2,434.5 218.8,434.5 219.5,434.1 220.1,433.8 220.8,433.7 221.5,433.8 222.1,433.7 222.8,433.7 223.5,433.4 224.1,433.2 224.8,433 225.5,432.9 226.1,433.2 226.8,433 227.5,433 228.1,432.7 228.8,432.7 229.4,432.7 230.1,432.6 230.8,432.6 231.4,432.7 232.1,432.7 232.8,432.9 233.4,432.7 234.1,432.7 234.8,432.8 235.4,432.9 236.1,433.1 236.8,433.4 237.4,433.4 238.1,433.3 238.8,433.1 239.4,433.1 240.1,433.1 240.7,432.9 241.4,432.7 242.1,432.6 242.7,432.3 243.4,432 244.1,431.9 244.7,431.6 245.4,431.7 246.1,431.6 246.7,431.6 247.4,431.7 248.1,432 248.7,431.7 249.4,432.1 250,432.2 250.7,432.3 251.4,432.1 252,432.2 252.7,432.2 253.4,432.2 254,431.7 254.7,432 255.4,431.8 256,431.5 256.7,431.3 257.4,431.3 258,431.4 258.7,431.3 259.4,431.3 260,431.5 260.7,431.5 261.3,431.7 262,431.7 262.7,431.8 263.3,431.6 264,431.3 264.7,431.5 265.3,431.2 266,431.2 266.7,430.9 267.3,430.7 268,430.6 268.7,430.5 269.3,430.6 270,430.8 270.6,430.8 271.3,431 272,431 272.6,431.1 273.3,431.2 274,431.1 274.6,431.1 275.3,431.1 276,431 276.6,430.4 277.3,430.4 278,430.2 278.6,430.3 279.3,430.1 279.9,430.1 280.6,430.2 281.3,430.5 281.9,430.4 282.6,430.7 283.3,430.7 283.9,430.6 284.6,430.4 285.3,430.2 285.9,430.4 286.6,430.3 287.3,430.2 287.9,430 288.6,430.2 289.3,430.1 289.9,430.1 290.6,430 291.2,430 291.9,430.2 292.6,429.8 293.2,429.7 293.9,429.9 294.6,429.7 295.2,429.6 295.9,429.8 296.6,430 297.2,429.9 297.9,429.8 298.6,430.4 299.2,430.3 299.9,430.3 300.5,430.1 301.2,429.8 301.9,429.8 302.5,429.7 303.2,429.8 303.9,429.4 304.5,428.9 305.2,429.1 305.9,429.3 306.5,429.4 307.2,429.8 307.9,429.6 308.5,429.6 309.2,429.7 309.9,430 310.5,429.9 311.2,429.7 311.8,429.5 312.5,429.4 313.2,429.2 313.8,429.2 314.5,428.9 315.2,428.9 315.8,428.7 316.5,428.8 317.2,428.7 317.8,428.5 318.5,428.6 319.2,428.6 319.8,428.6 320.5,428.9 321.1,428.8 321.8,428.8 322.5,428.8 323.1,429 323.8,429.1 324.5,429.3 325.1,429 325.8,429" fill="none" stroke="#e2e2e2" stroke-width="1.6" stroke-linejoin="round" stroke-linecap="round" />
<path d="M60,422 60.7,422.3 61.3,422.5 62,422.8 62.7,422.9 63.3,422.9 64,422.7 64.7,422.9 65.3,423.1 66,422.9 66.6,422.9 67.3,423 68,423 68.6,423 69.3,422.9 70,423.2 70.6,423.2 71.3,423.1 72,423.2 72.6,423.2 73.3,423.3 74,423.4 74.6,423.9 75.3,424 75.9,423.9 76.6,424 77.3,424.1 77.9,424.3 78.6,424.6 79.3,424.8 79.9,424.9 80.6,424.8 81.3,425.1 81.9,425.5 82.6,425.6 83.3,425.6 83.9,425.6 84.6,425.6 85.3,425.5 85.9,425.6 86.6,425.8 87.2,425.9 87.9,426 88.6,425.9 89.2,426.3 89.9,426.4 90.6,426.7 91.2,426.8 91.9,426.9 92.6,427.1 93.2,427 93.9,427.1 94.6,427.4 95.2,427.4 95.9,427.5 96.5,427.3 97.2,427.4 97.9,427.6 98.5,427.6 99.2,427.7 99.9,427.6 100.5,427.7 101.2,427.9 101.9,427.9 102.5,428.1 103.2,428.3 103.9,428.3 104.5,428.5 105.2,428.5 105.9,428.8 106.5,428.8 107.2,429 107.8,429.1 108.5,429.2 109.2,429.2 109.8,429.1 110.5,429.4 111.2,429.6 111.8,429.6 112.5,429.8 113.2,429.9 113.8,429.9 114.5,430.3 115.2,430.2 115.8,430.4 116.5,430.1 117.1,430.2 117.8,430.4 118.5,430.5 119.1,430.4 119.8,430.5 120.5,430.3 121.1,430.4 121.8,430.4 122.5,430.4 123.1,430.6 123.8,430.6 124.5,430.5 125.1,430.4 125.8,430.5 126.5,430.5 127.1,430.6 127.8,430.6 128.4,430.9 129.1,430.7 129.8,430.8 130.4,430.9 131.1,430.9 131.8,430.9 132.4,430.8 133.1,430.6 133.8,430.6 134.4,430.3 135.1,430.2 135.8,429.9 136.4,429.9 137.1,430.1 137.7,430 138.4,429.9 139.1,430.2 139.7,430.1 140.4,430.5 141.1,430.5 141.7,430.7 142.4,430.7 143.1,430.5 143.7,430.4 144.4,430.7 145.1,430.7 145.7,430.7 146.4,430.4 147,430.3 147.7,430.4 148.4,430.3 149,430.2 149.7,430.3 150.4,430.2 151,430.2 151.7,430.1 152.4,430.1 153,430.2 153.7,430.3 154.4,430.3 155,430.5 155.7,430.6 156.4,430.7 157,430.6 157.7,430.7 158.3,430.9 159,430.7 159.7,430.5 160.3,430.5 161,430.5 161.7,430.1 162.3,430.1 163,430.2 163.7,430.1 164.3,430.2 165,430.2 165.7,430.4 166.3,430.5 167,430.4 167.6,430.4 168.3,430.2 169,430.1 169.6,430.3 170.3,430.2 171,430.2 171.6,430.1 172.3,429.9 173,430.3 173.6,430.3 174.3,430.5 175,430.6 175.6,430.6 176.3,430.5 177,430.5 177.6,430.5 178.3,430.6 178.9,430.6 179.6,430.6 180.3,430.6 180.9,430.8 181.6,430.8 182.3,430.8 182.9,430.9 183.6,430.9 184.3,430.9 184.9,430.8 185.6,430.8 186.3,430.6 186.9,430.5 187.6,430.4 188.2,430.5 188.9,430.4 189.6,430.2 190.2,430.3 190.9,430.2 191.6,430.4 192.2,430.5 192.9,430.6 193.6,430.4 194.2,430.3 194.9,430.5 195.6,430.9 196.2,430.8 196.9,431 197.6,430.9 198.2,431 198.9,430.9 199.5,431.2 200.2,431.2 200.9,431.1 201.5,430.7 202.2,430.9 202.9,430.6 203.5,430.7 204.2,430.5 204.9,430.6 205.5,430.7 206.2,430.7 206.9,430.7 207.5,430.9 208.2,430.8 208.8,431 209.5,431 210.2,431.2 210.8,431.1 211.5,430.8 212.2,431 212.8,430.7 213.5,430.6 214.2,430.4 214.8,430.2 215.5,430.4 216.2,430.3 216.8,430.2 217.5,430.2 218.2,430 218.8,430.1 219.5,430.1 220.1,430.3 220.8,430.3 221.5,430.1 222.1,429.9 222.8,429.8 223.5,429.8 224.1,429.8 224.8,429.7 225.5,429.7 226.1,429.6 226.8,429.6 227.5,429.6 228.1,429.8 228.8,429.9 229.4,429.9 230.1,430.1 230.8,430.1 231.4,430.3 232.1,430.4 232.8,430.5 233.4,430.4 234.1,430.3 234.8,430.3 235.4,430.3 236.1,430 236.8,429.9 237.4,429.6 238.1,429.8 238.8,429.8 239.4,429.9 240.1,429.6 240.7,429.7 241.4,429.7 242.1,429.8 242.7,430 243.4,430.2 244.1,429.9 244.7,430 245.4,430.1 246.1,430.3 246.7,430.4 247.4,430.4 248.1,430.3 248.7,430.4 249.4,430.4 250,430.5 250.7,430.3 251.4,430.5 252,430.7 252.7,430.8 253.4,430.9 254,430.9 254.7,430.9 255.4,430.9 256,430.8 256.7,431 257.4,431 258,430.8 258.7,430.6 259.4,430.6 260,430.7 260.7,430.6 261.3,430.5 262,430.5 262.7,430.6 263.3,430.5 264,430.8 264.7,430.8 265.3,430.8 266,430.7 266.7,431 267.3,431 268,431.2 268.7,431.2 269.3,431.1 270,430.9 270.6,431.1 271.3,431.2 272,431.3 272.6,431.1 273.3,431.1 274,430.9 274.6,430.9 275.3,431 276,430.7 276.6,430.8 277.3,430.7 278,430.9 278.6,430.8 279.3,430.9 279.9,431.2 280.6,431.2 281.3,431.4 281.9,432 282.6,432.2 283.3,432.3 283.9,432.4 284.6,432.6 285.3,432.7 285.9,432.6 286.6,432.4 287.3,432.4 287.9,432.3 288.6,431.9 289.3,431.6 289.9,431.6 290.6,431.8 291.2,431.8 291.9,431.9 292.6,432 293.2,432 293.9,431.9 294.6,432.1 295.2,432.5 295.9,432.6 296.6,432.4 297.2,432.3 297.9,432.4 298.6,432.3 299.2,432.1 299.9,432 300.5,432 301.2,431.8 301.9,431.5 302.5,431.5 303.2,431.6 303.9,431.7 304.5,431.9 305.2,432.1 305.9,432.3 306.5,432.3 307.2,432.6 307.9,432.6 308.5,432.7 309.2,432.9 309.9,432.8 310.5,432.5 311.2,432.3 311.8,432.2 312.5,432.2 313.2,431.8 313.8,432 314.5,431.9 315.2,431.7 315.8,431.6 316.5,431.9 317.2,431.9 317.8,431.8 318.5,431.9 319.2,431.8 319.8,431.7 320.5,431.4 321.1,431.4 321.8,431.5 322.5,431.5 323.1,431.5 323.8,431.5 324.5,431.6 325.1,432 325.8,432.2" fill="none" stroke="#b5b5b5" stroke-width="1.6" stroke-linejoin="round" stroke-linecap="round" />
<path d="M60,439.8 60.7,440.1 61.3,440 62,439.9 62.7,439.9 63.3,439.8 64,439.5 64.7,439.5 65.3,439.7 66,439.6 66.6,439.6 67.3,439.8 68,439.9 68.6,440.2 69.3,440.1 70,440.2 70.6,440.6 71.3,440.3 72,440.3 72.6,440.1 73.3,440.2 74,440.2 74.6,440 75.3,440.4 75.9,440.5 76.6,440.3 77.3,440.4 77.9,440.4 78.6,440.4 79.3,440.8 79.9,440.7 80.6,440.7 81.3,440.7 81.9,440.7 82.6,440.9 83.3,440.9 83.9,441.2 84.6,440.9 85.3,440.7 85.9,440.9 86.6,440.9 87.2,441.1 87.9,441.3 88.6,441.3 89.2,441.4 89.9,441.7 90.6,442.1 91.2,442 91.9,442.1 92.6,442.1 93.2,441.9 93.9,442.1 94.6,442.2 95.2,442.2 95.9,442 96.5,442.3 97.2,442.9 97.9,442.6 98.5,442.7 99.2,443.1 99.9,443 100.5,443 101.2,443.2 101.9,443.5 102.5,443.1 103.2,442.8 103.9,443.1 104.5,443 105.2,442.8 105.9,442.7 106.5,442.6 107.2,442.7 107.8,442.2 108.5,442.2 109.2,442 109.8,441.6 110.5,441.3 111.2,440.8 111.8,440.4 112.5,440.3 113.2,439.7 113.8,439.6 114.5,439.5 115.2,439.2 115.8,439 116.5,438.8 117.1,439 117.8,438.7 118.5,438.3 119.1,438 119.8,437.5 120.5,437.2 121.1,436.9 121.8,436.8 122.5,436.7 123.1,436.3 123.8,436.1 124.5,435.9 125.1,435.6 125.8,435.6 126.5,435.3 127.1,434.9 127.8,434.8 128.4,434.6 129.1,434.2 129.8,434 130.4,433.8 131.1,433.7 131.8,433.3 132.4,433 133.1,433 133.8,432.9 134.4,432.8 135.1,432.6 135.8,432.4 136.4,432.6 137.1,432.6 137.7,432.8 138.4,432.8 139.1,433 139.7,432.6 140.4,432.6 141.1,432.7 141.7,432.8 142.4,432.7 143.1,432.3 143.7,432.3 144.4,432.4 145.1,432.3 145.7,432.6 146.4,432.3 147,432.3 147.7,432.2 148.4,432.4 149,432.6 149.7,432.3 150.4,432.2 151,431.9 151.7,431.6 152.4,431.6 153,431.3 153.7,431.1 154.4,430.9 155,430.4 155.7,430.4 156.4,430.1 157,429.9 157.7,430 158.3,429.9 159,429.9 159.7,429.6 160.3,429.5 161,429.7 161.7,429.3 162.3,429.6 163,429.4 163.7,429.3 164.3,429.8 165,429.7 165.7,429.7 166.3,429.8 167,430.1 167.6,430.4 168.3,430.7 169,431.1 169.6,431.3 170.3,431.3 171,431.6 171.6,431.7 172.3,432.2 173,432.6 173.6,432.9 174.3,432.8 175,432.9 175.6,433.4 176.3,433.6 177,434 177.6,434.3 178.3,434.3 178.9,434.3 179.6,434.2 180.3,434.4 180.9,434.8 181.6,434.6 182.3,434.5 182.9,434.6 183.6,435 184.3,434.9 184.9,435 185.6,435.1 186.3,435.1 186.9,434.9 187.6,435.4 188.2,435.6 188.9,435.6 189.6,435.6 190.2,435.7 190.9,435.6 191.6,435.7 192.2,436 192.9,436.2 193.6,436 194.2,435.8 194.9,435.7 195.6,435.7 196.2,435.7 196.9,435.9 197.6,435.9 198.2,435.8 198.9,435.7 199.5,435.4 200.2,435.5 200.9,435.4 201.5,435.4 202.2,435.4 202.9,435.3 203.5,435 204.2,435 204.9,435 205.5,435.1 206.2,435 206.9,435.1 207.5,435 208.2,435.1 208.8,435.1 209.5,435 210.2,434.8 210.8,434.9 211.5,434.9 212.2,434.9 212.8,434.8 213.5,434.8 214.2,434.4 214.8,434.2 215.5,434.3 216.2,434.2 216.8,434 217.5,433.8 218.2,433.7 218.8,433.5 219.5,433.3 220.1,433.3 220.8,433.1 221.5,432.8 222.1,432.8 222.8,432.7 223.5,432.7 224.1,432.9 224.8,432.9 225.5,432.8 226.1,432.8 226.8,432.9 227.5,433.2 228.1,433.1 228.8,433.1 229.4,433.1 230.1,432.8 230.8,432.6 231.4,432.8 232.1,432.9 232.8,432.8 233.4,432.6 234.1,432.8 234.8,432.6 235.4,433 236.1,433.3 236.8,433.7 237.4,433.8 238.1,433.9 238.8,434.1 239.4,434.1 240.1,434.1 240.7,434.3 241.4,434.1 242.1,433.9 242.7,433.7 243.4,433.9 244.1,433.9 244.7,433.9 245.4,434.2 246.1,434.3 246.7,434.1 247.4,434.1 248.1,434.3 248.7,434.3 249.4,434.2 250,434.2 250.7,434.4 251.4,434.2 252,434.3 252.7,434.3 253.4,434.3 254,434.1 254.7,434.2 255.4,433.9 256,433.7 256.7,433.4 257.4,433.4 258,433.2 258.7,433.2 259.4,433.1 260,433.2 260.7,432.8 261.3,432.9 262,433.1 262.7,433.1 263.3,432.9 264,433.1 264.7,432.8 265.3,432.6 266,432.4 266.7,432.5 267.3,432.2 268,431.7 268.7,431.3 269.3,431.1 270,430.8 270.6,430.9 271.3,430.7 272,430.8 272.6,430.8 273.3,430.7 274,430.8 274.6,431.2 275.3,431.2 276,431.1 276.6,431.1 277.3,431.3 278,431.2 278.6,431 279.3,431.2 279.9,431.2 280.6,431.1 281.3,431.2 281.9,431.5 282.6,431.6 283.3,432.1 283.9,432.4 284.6,432.6 285.3,432.5 285.9,432.9 286.6,433.5 287.3,433.9 287.9,434 288.6,434 289.3,434.1 289.9,434.3 290.6,434.5 291.2,434.6 291.9,434.8 292.6,435 293.2,435 293.9,435.1 294.6,435.4 295.2,435.4 295.9,435.7 296.6,435.7 297.2,435.9 297.9,436.1 298.6,435.9 299.2,435.9 299.9,436.3 300.5,436.5 301.2,436.4 301.9,436.4 302.5,436.6 303.2,436.6 303.9,436.4 304.5,436.4 305.2,436.6 305.9,436.3 306.5,436.5 307.2,436.4 307.9,436.5 308.5,436.4 309.2,436.2 309.9,436.2 310.5,436.1 311.2,436.2 311.8,436.4 312.5,436 313.2,436.2 313.8,435.8 314.5,435.9 315.2,435.9 315.8,436 316.5,435.9 317.2,435.7 317.8,435.4 318.5,435.6 319.2,435.6 319.8,435.7 320.5,435.4 321.1,435.3 321.8,435.3 322.5,435 323.1,434.8 323.8,434.5 324.5,434.3 325.1,434.5 325.8,434.4" fill="none" stroke="#6a6a6a" stroke-width="1.6" stroke-linejoin="round" stroke-linecap="round" />
<path d="M60,447.8 60.7,447.7 61.3,447.7 62,447.7 62.7,447.7 63.3,447.8 64,447.8 64.7,447.9 65.3,448.1 66,448.2 66.6,448.4 67.3,448.6 68,448.8 68.6,449 69.3,449.3 70,449.5 70.6,449.6 71.3,449.7 72,449.8 72.6,450 73.3,450.1 74,450.3 74.6,450.4 75.3,450.6 75.9,450.8 76.6,450.9 77.3,451.2 77.9,451.4 78.6,451.6 79.3,451.9 79.9,452.2 80.6,452.5 81.3,452.8 81.9,453.2 82.6,453.5 83.3,454 83.9,454.7 84.6,455.5 85.3,456.4 85.9,457.3 86.6,458.2 87.2,459.1 87.9,460 88.6,460.9 89.2,461.7 89.9,462.5 90.6,463.3 91.2,464 91.9,464.7 92.6,465.3 93.2,465.9 93.9,466.5 94.6,467 95.2,467.5 95.9,467.9 96.5,468.3 97.2,468.6 97.9,468.9 98.5,469.2 99.2,469.4 99.9,469.5 100.5,469.6 101.2,469.7 101.9,469.7 102.5,469.7 103.2,469.6 103.9,469.4 104.5,469.2 105.2,468.9 105.9,468.5 106.5,468 107.2,467.4 107.8,466.7 108.5,465.9 109.2,465 109.8,464 110.5,462.8 111.2,461.5 111.8,460.2 112.5,458.7 113.2,457.1 113.8,455.4 114.5,453.7 115.2,451.9 115.8,450 116.5,448.2 117.1,446.3 117.8,444.4 118.5,442.6 119.1,440.7 119.8,438.9 120.5,437.2 121.1,435.5 121.8,433.8 122.5,432.3 123.1,430.8 123.8,429.4 124.5,428.1 125.1,426.8 125.8,425.5 126.5,424.3 127.1,423.1 127.8,421.9 128.4,420.7 129.1,419.6 129.8,418.4 130.4,417.2 131.1,416 131.8,414.8 132.4,413.6 133.1,412.4 133.8,411.3 134.4,410.2 135.1,409.1 135.8,408.2 136.4,407.2 137.1,406.4 137.7,405.6 138.4,404.9 139.1,404.2 139.7,403.6 140.4,403 141.1,402.5 141.7,402 142.4,401.6 143.1,401.3 143.7,401 144.4,400.8 145.1,400.6 145.7,400.5 146.4,400.4 147,400.3 147.7,400.3 148.4,400.4 149,400.5 149.7,400.6 150.4,400.8 151,401.1 151.7,401.4 152.4,401.7 153,402.1 153.7,402.5 154.4,402.9 155,403.4 155.7,403.9 156.4,404.5 157,405.1 157.7,405.8 158.3,406.4 159,407.2 159.7,407.9 160.3,408.7 161,409.5 161.7,410.3 162.3,411.2 163,412.1 163.7,413.1 164.3,414 165,415 165.7,416.1 166.3,417.1 167,418.2 167.6,419.4 168.3,420.6 169,421.7 169.6,422.9 170.3,424.1 171,425.3 171.6,426.5 172.3,427.7 173,428.9 173.6,430.1 174.3,431.2 175,432.4 175.6,433.4 176.3,434.6 177,435.8 177.6,436.8 178.3,437.9 178.9,438.8 179.6,439.8 180.3,440.7 180.9,441.5 181.6,442.3 182.3,443.1 182.9,443.9 183.6,444.7 184.3,445.5 184.9,446.2 185.6,447 186.3,447.7 186.9,448.4 187.6,449 188.2,449.6 188.9,450.2 189.6,450.7 190.2,451.2 190.9,451.6 191.6,452 192.2,452.3 192.9,452.6 193.6,452.9 194.2,453.1 194.9,453.3 195.6,453.5 196.2,453.6 196.9,453.6 197.6,453.7 198.2,453.7 198.9,453.7 199.5,453.6 200.2,453.6 200.9,453.5 201.5,453.3 202.2,453.2 202.9,453 203.5,452.8 204.2,452.6 204.9,452.4 205.5,452.1 206.2,451.9 206.9,451.6 207.5,451.3 208.2,451 208.8,450.7 209.5,450.3 210.2,450 210.8,449.6 211.5,449.3 212.2,448.9 212.8,448.5 213.5,448.2 214.2,447.8 214.8,447.4 215.5,447 216.2,446.7 216.8,446.3 217.5,445.9 218.2,445.6 218.8,445.2 219.5,444.9 220.1,444.5 220.8,444.2 221.5,443.8 222.1,443.5 222.8,443.2 223.5,442.8 224.1,442.5 224.8,442.2 225.5,441.9 226.1,441.6 226.8,441.3 227.5,441 228.1,440.7 228.8,440.4 229.4,440.1 230.1,439.8 230.8,439.5 231.4,439.3 232.1,439 232.8,438.8 233.4,438.5 234.1,438.3 234.8,438 235.4,437.8 236.1,437.6 236.8,437.3 237.4,437.1 238.1,436.9 238.8,436.7 239.4,436.5 240.1,436.3 240.7,436.1 241.4,436 242.1,435.8 242.7,435.6 243.4,435.5 244.1,435.2 244.7,435.1 245.4,434.8 246.1,434.6 246.7,434.4 247.4,434.4 248.1,434.4 248.7,434.3 249.4,434 250,434.2 250.7,434 251.4,433.9 252,433.7 252.7,434.1 253.4,434.4 254,434.2 254.7,433.8 255.4,434 256,433.5 256.7,433 257.4,432.8 258,432.1 258.7,432 259.4,431.9 260,432.2 260.7,432.2 261.3,432.3 262,432.6 262.7,432.2 263.3,432.1 264,431.4 264.7,430.8 265.3,430.7 266,430.4 266.7,430.5 267.3,430.7 268,430.9 268.7,431.1 269.3,430.7 270,430.5 270.6,431 271.3,430.8 272,431.3 272.6,431.8 273.3,431.7 274,432 274.6,432.2 275.3,432.2 276,432.2 276.6,431.9 277.3,432 278,432.1 278.6,432.3 279.3,432.8 279.9,432.7 280.6,432.2 281.3,432.4 281.9,433 282.6,433.4 283.3,433.1 283.9,433 284.6,433.8 285.3,433.1 285.9,432.5 286.6,432.9 287.3,433.1 287.9,433.2 288.6,432.5 289.3,432.2 289.9,432.3 290.6,431.6 291.2,432.5 291.9,432.5 292.6,432.4 293.2,432.6 293.9,433.4 294.6,433 295.2,432.6 295.9,432.7 296.6,432.9 297.2,433.5 297.9,433.6 298.6,433.4 299.2,432.8 299.9,432.9 300.5,433.7 301.2,432.4 301.9,432.9 302.5,433.4 303.2,432.6 303.9,432.3 304.5,432.9 305.2,433 305.9,433.3 306.5,432.9 307.2,432.8 307.9,432.6 308.5,432.2 309.2,432 309.9,431.7 310.5,431.4 311.2,431.2 311.8,431.9 312.5,431.5 313.2,431.8 313.8,431.8 314.5,431.6 315.2,431.6 315.8,431.7 316.5,431.6 317.2,431.1 317.8,431.3 318.5,431.2 319.2,431.4 319.8,431.1 320.5,431.1 321.1,430.5 321.8,430.5 322.5,430.6 323.1,430.7 323.8,431.7 324.5,431.1 325.1,432.2 325.8,431.8" fill="none" stroke="#77508f" stroke-width="1.4" stroke-linejoin="round" stroke-linecap="round" />
<path d="M60,450 60.7,450 61.3,450 62,450 62.7,450 63.3,450 64,450.1 64.7,450.2 65.3,450.4 66,450.6 66.6,450.8 67.3,451 68,451.2 68.6,451.5 69.3,451.8 70,452.1 70.6,452.3 71.3,452.5 72,452.7 72.6,453 73.3,453.2 74,453.5 74.6,453.7 75.3,454 75.9,454.4 76.6,454.7 77.3,455.1 77.9,455.5 78.6,455.9 79.3,456.3 79.9,456.8 80.6,457.3 81.3,457.9 81.9,458.5 82.6,459.2 83.3,459.8 83.9,460.8 84.6,461.9 85.3,463 85.9,464.2 86.6,465.3 87.2,466.5 87.9,467.7 88.6,468.8 89.2,469.9 89.9,471 90.6,472 91.2,472.9 91.9,473.8 92.6,474.6 93.2,475.4 93.9,476.1 94.6,476.8 95.2,477.4 95.9,478 96.5,478.5 97.2,478.9 97.9,479.3 98.5,479.6 99.2,479.9 99.9,480.1 100.5,480.2 101.2,480.3 101.9,480.3 102.5,480.3 103.2,480.1 103.9,479.9 104.5,479.6 105.2,479.2 105.9,478.7 106.5,478 107.2,477.3 107.8,476.4 108.5,475.3 109.2,474.2 109.8,472.8 110.5,471.3 111.2,469.7 111.8,467.9 112.5,466 113.2,463.9 113.8,461.7 114.5,459.4 115.2,457.1 115.8,454.7 116.5,452.3 117.1,449.8 117.8,447.4 118.5,445 119.1,442.6 119.8,440.3 120.5,438 121.1,435.8 121.8,433.7 122.5,431.8 123.1,429.9 123.8,428.1 124.5,426.4 125.1,424.7 125.8,423.2 126.5,421.6 127.1,420.1 127.8,418.6 128.4,417.2 129.1,415.7 129.8,414.3 130.4,412.8 131.1,411.3 131.8,409.8 132.4,408.2 133.1,406.8 133.8,405.3 134.4,403.9 135.1,402.6 135.8,401.4 136.4,400.2 137.1,399.2 137.7,398.2 138.4,397.2 139.1,396.4 139.7,395.6 140.4,394.9 141.1,394.3 141.7,393.7 142.4,393.2 143.1,392.8 143.7,392.4 144.4,392.1 145.1,391.9 145.7,391.7 146.4,391.6 147,391.5 147.7,391.5 148.4,391.6 149,391.8 149.7,391.9 150.4,392.2 151,392.5 151.7,392.8 152.4,393.3 153,393.7 153.7,394.2 154.4,394.8 155,395.4 155.7,396.1 156.4,396.8 157,397.6 157.7,398.4 158.3,399.2 159,400.1 159.7,401.1 160.3,402.1 161,403.1 161.7,404.2 162.3,405.3 163,406.4 163.7,407.6 164.3,408.8 165,410.1 165.7,411.4 166.3,412.7 167,414.2 167.6,415.7 168.3,417.2 169,418.7 169.6,420.2 170.3,421.7 171,423.3 171.6,424.8 172.3,426.3 173,427.7 173.6,429.2 174.3,430.6 175,432 175.6,433.3 176.3,434.7 177,436 177.6,437.3 178.3,438.5 178.9,439.6 179.6,440.7 180.3,441.7 180.9,442.6 181.6,443.5 182.3,444.4 182.9,445.2 183.6,446.1 184.3,447 184.9,447.9 185.6,448.8 186.3,449.6 186.9,450.4 187.6,451.1 188.2,451.9 188.9,452.5 189.6,453.1 190.2,453.7 190.9,454.2 191.6,454.6 192.2,455 192.9,455.4 193.6,455.7 194.2,456 194.9,456.2 195.6,456.4 196.2,456.5 196.9,456.6 197.6,456.7 198.2,456.7 198.9,456.7 199.5,456.7 200.2,456.6 200.9,456.5 201.5,456.4 202.2,456.2 202.9,456.1 203.5,455.8 204.2,455.6 204.9,455.4 205.5,455.1 206.2,454.8 206.9,454.5 207.5,454.2 208.2,453.8 208.8,453.5 209.5,453.1 210.2,452.7 210.8,452.3 211.5,451.9 212.2,451.5 212.8,451.1 213.5,450.7 214.2,450.3 214.8,449.8 215.5,449.4 216.2,449 216.8,448.6 217.5,448.1 218.2,447.7 218.8,447.3 219.5,446.9 220.1,446.5 220.8,446.1 221.5,445.7 222.1,445.3 222.8,444.9 223.5,444.6 224.1,444.2 224.8,443.8 225.5,443.4 226.1,443.1 226.8,442.7 227.5,442.4 228.1,442 228.8,441.7 229.4,441.4 230.1,441.1 230.8,440.7 231.4,440.4 232.1,440.1 232.8,439.8 233.4,439.5 234.1,439.2 234.8,439 235.4,438.7 236.1,438.4 236.8,438.2 237.4,437.9 238.1,437.7 238.8,437.4 239.4,437.2 240.1,437 240.7,436.7 241.4,436.5 242.1,436.3 242.7,436.1 243.4,435.9 244.1,435.7 244.7,435.5 245.4,435.4 246.1,435.1 246.7,434.9 247.4,434.9 248.1,434.9 248.7,434.6 249.4,434.2 250,434.1 250.7,434.1 251.4,434.3 252,434.1 252.7,434.1 253.4,434 254,433.6 254.7,433.3 255.4,433.1 256,433 256.7,433.1 257.4,432.9 258,432.6 258.7,432.1 259.4,431.4 260,431.5 260.7,431.7 261.3,431.6 262,431.4 262.7,431.7 263.3,431.9 264,431.4 264.7,431.6 265.3,432 266,432.9 266.7,432.4 267.3,432.5 268,431.8 268.7,431.5 269.3,431.2 270,431.1 270.6,432.3 271.3,431.7 272,431.8 272.6,431.7 273.3,431.8 274,432.2 274.6,431.7 275.3,432.2 276,433.2 276.6,433.1 277.3,432.5 278,433.3 278.6,432.7 279.3,432.7 279.9,432.6 280.6,432.1 281.3,431.5 281.9,431.1 282.6,430.1 283.3,430.4 283.9,430.1 284.6,430.3 285.3,430.7 285.9,431.2 286.6,431.4 287.3,431 287.9,431.3 288.6,431.5 289.3,431.7 289.9,431.1 290.6,431.4 291.2,432.3 291.9,431.6 292.6,431.5 293.2,431.5 293.9,431.6 294.6,430.8 295.2,431.3 295.9,431.3 296.6,431.9 297.2,432.7 297.9,432.9 298.6,433 299.2,433.2 299.9,432.6 300.5,432.7 301.2,432.3 301.9,432.3 302.5,432.5 303.2,432.3 303.9,432 304.5,432 305.2,431.5 305.9,431.5 306.5,432.2 307.2,431.9 307.9,431.3 308.5,431.3 309.2,430.8 309.9,430.5 310.5,430.5 311.2,430.2 311.8,430 312.5,430 313.2,430 313.8,429.8 314.5,429.6 315.2,429.9 315.8,429.6 316.5,430.4 317.2,430.5 317.8,430.7 318.5,431.2 319.2,430.6 319.8,430.9 320.5,431.4 321.1,432.1 321.8,432 322.5,431.6 323.1,431.7 323.8,432 324.5,432.2 325.1,432.4 325.8,432.8" fill="none" stroke="#9672b2" stroke-width="1.4" stroke-linejoin="round" stroke-linecap="round" />
<path d="M60,450.4 60.7,450.4 61.3,450.3 62,450.3 62.7,450.4 63.3,450.4 64,450.5 64.7,450.6 65.3,450.8 66,451 66.6,451.2 67.3,451.4 68,451.6 68.6,451.9 69.3,452.2 70,452.5 70.6,452.7 71.3,453 72,453.2 72.6,453.5 73.3,453.7 74,454 74.6,454.3 75.3,454.6 75.9,455 76.6,455.3 77.3,455.7 77.9,456.2 78.6,456.6 79.3,457.1 79.9,457.6 80.6,458.2 81.3,458.8 81.9,459.4 82.6,460.1 83.3,460.9 83.9,461.9 84.6,463 85.3,464.2 85.9,465.4 86.6,466.6 87.2,467.8 87.9,469 88.6,470.2 89.2,471.3 89.9,472.4 90.6,473.5 91.2,474.4 91.9,475.4 92.6,476.2 93.2,477 93.9,477.8 94.6,478.5 95.2,479.1 95.9,479.7 96.5,480.2 97.2,480.7 97.9,481.1 98.5,481.4 99.2,481.7 99.9,481.9 100.5,482 101.2,482.1 101.9,482.1 102.5,482.1 103.2,482 103.9,481.7 104.5,481.4 105.2,481 105.9,480.4 106.5,479.8 107.2,479 107.8,478 108.5,477 109.2,475.7 109.8,474.4 110.5,472.8 111.2,471.1 111.8,469.2 112.5,467.2 113.2,465.1 113.8,462.9 114.5,460.5 115.2,458.1 115.8,455.6 116.5,453.1 117.1,450.6 117.8,448 118.5,445.5 119.1,443 119.8,440.6 120.5,438.2 121.1,435.9 121.8,433.7 122.5,431.6 123.1,429.6 123.8,427.7 124.5,425.9 125.1,424.1 125.8,422.4 126.5,420.7 127.1,419.1 127.8,417.4 128.4,415.8 129.1,414.3 129.8,412.7 130.4,411.1 131.1,409.4 131.8,407.8 132.4,406.1 133.1,404.5 133.8,403 134.4,401.5 135.1,400.1 135.8,398.7 136.4,397.5 137.1,396.3 137.7,395.2 138.4,394.2 139.1,393.3 139.7,392.5 140.4,391.7 141.1,391 141.7,390.4 142.4,389.9 143.1,389.4 143.7,389 144.4,388.7 145.1,388.4 145.7,388.2 146.4,388.1 147,388.1 147.7,388.1 148.4,388.2 149,388.3 149.7,388.5 150.4,388.8 151,389.1 151.7,389.5 152.4,389.9 153,390.4 153.7,391 154.4,391.6 155,392.3 155.7,393 156.4,393.8 157,394.6 157.7,395.5 158.3,396.4 159,397.4 159.7,398.4 160.3,399.4 161,400.6 161.7,401.7 162.3,402.9 163,404.1 163.7,405.4 164.3,406.7 165,408.1 165.7,409.5 166.3,410.9 167,412.5 167.6,414.1 168.3,415.7 169,417.3 169.6,418.9 170.3,420.6 171,422.2 171.6,423.8 172.3,425.5 173,427.1 173.6,428.7 174.3,430.2 175,431.7 175.6,433.2 176.3,434.7 177,436.2 177.6,437.6 178.3,438.9 178.9,440.2 179.6,441.3 180.3,442.5 180.9,443.6 181.6,444.6 182.3,445.6 182.9,446.6 183.6,447.6 184.3,448.6 184.9,449.6 185.6,450.5 186.3,451.5 186.9,452.4 187.6,453.2 188.2,454 188.9,454.8 189.6,455.5 190.2,456.1 190.9,456.7 191.6,457.2 192.2,457.7 192.9,458.1 193.6,458.5 194.2,458.8 194.9,459.1 195.6,459.3 196.2,459.5 196.9,459.6 197.6,459.7 198.2,459.8 198.9,459.8 199.5,459.8 200.2,459.7 200.9,459.6 201.5,459.5 202.2,459.3 202.9,459.2 203.5,458.9 204.2,458.7 204.9,458.4 205.5,458.1 206.2,457.8 206.9,457.5 207.5,457.1 208.2,456.8 208.8,456.4 209.5,456 210.2,455.6 210.8,455.1 211.5,454.7 212.2,454.2 212.8,453.8 213.5,453.3 214.2,452.8 214.8,452.4 215.5,451.9 216.2,451.4 216.8,450.9 217.5,450.5 218.2,450 218.8,449.5 219.5,449.1 220.1,448.6 220.8,448.2 221.5,447.7 222.1,447.3 222.8,446.8 223.5,446.4 224.1,446 224.8,445.6 225.5,445.2 226.1,444.8 226.8,444.4 227.5,444 228.1,443.6 228.8,443.2 229.4,442.8 230.1,442.4 230.8,442.1 231.4,441.7 232.1,441.4 232.8,441 233.4,440.7 234.1,440.3 234.8,440 235.4,439.7 236.1,439.4 236.8,439.1 237.4,438.8 238.1,438.5 238.8,438.2 239.4,438 240.1,437.7 240.7,437.4 241.4,437.2 242.1,436.9 242.7,436.7 243.4,436.6 244.1,436.5 244.7,436.3 245.4,436.4 246.1,436.3 246.7,436.1 247.4,436 248.1,435.7 248.7,435.6 249.4,435.1 250,435 250.7,435.2 251.4,435 252,434.8 252.7,434.5 253.4,434.1 254,433.7 254.7,433.5 255.4,433.1 256,433.1 256.7,433.3 257.4,432.9 258,433.2 258.7,432.8 259.4,432.6 260,432 260.7,432.3 261.3,432.8 262,432.6 262.7,432.3 263.3,432.7 264,433 264.7,433.3 265.3,433 266,433 266.7,433 267.3,432.4 268,432.8 268.7,432.5 269.3,432.5 270,432.7 270.6,433.3 271.3,433.1 272,432.6 272.6,432.4 273.3,432.1 274,432.4 274.6,432.1 275.3,432 276,432.4 276.6,432.9 277.3,432.6 278,432.4 278.6,431.8 279.3,432 279.9,432 280.6,432.2 281.3,432.4 281.9,432.9 282.6,433.9 283.3,433.3 283.9,434.1 284.6,433.1 285.3,432.4 285.9,432.6 286.6,432.9 287.3,432.6 287.9,433.1 288.6,433.5 289.3,433.2 289.9,433.6 290.6,433 291.2,432.9 291.9,432.7 292.6,432 293.2,432 293.9,432.2 294.6,431.9 295.2,432 295.9,432 296.6,431.7 297.2,431.2 297.9,431.4 298.6,431.4 299.2,431.1 299.9,431.5 300.5,430.8 301.2,431.6 301.9,431.9 302.5,431.3 303.2,431.1 303.9,431.5 304.5,431.3 305.2,431.2 305.9,431.4 306.5,430.6 307.2,431.1 307.9,430.8 308.5,430.8 309.2,430.5 309.9,430.1 310.5,429.6 311.2,429.9 311.8,430.1 312.5,430.4 313.2,429.5 313.8,429.4 314.5,429.2 315.2,428.8 315.8,428.5 316.5,428.4 317.2,429 317.8,428.3 318.5,428.8 319.2,429.4 319.8,429 320.5,428.7 321.1,428.8 321.8,429.3 322.5,429 323.1,429.5 323.8,429.4 324.5,430 325.1,430.1 325.8,430.8" fill="none" stroke="#b592cc" stroke-width="1.4" stroke-linejoin="round" stroke-linecap="round" />
<path d="M60,451.2 60.7,451.2 61.3,451.2 62,451.2 62.7,451.2 63.3,451.3 64,451.4 64.7,451.5 65.3,451.6 66,451.8 66.6,452 67.3,452.3 68,452.5 68.6,452.8 69.3,453.1 70,453.5 70.6,453.7 71.3,454 72,454.2 72.6,454.5 73.3,454.8 74,455.2 74.6,455.5 75.3,455.9 75.9,456.3 76.6,456.7 77.3,457.1 77.9,457.6 78.6,458.1 79.3,458.7 79.9,459.3 80.6,459.9 81.3,460.6 81.9,461.3 82.6,462.1 83.3,463 83.9,464.1 84.6,465.3 85.3,466.5 85.9,467.8 86.6,469.1 87.2,470.5 87.9,471.8 88.6,473.1 89.2,474.3 89.9,475.5 90.6,476.6 91.2,477.6 91.9,478.6 92.6,479.6 93.2,480.4 93.9,481.3 94.6,482 95.2,482.7 95.9,483.3 96.5,483.9 97.2,484.4 97.9,484.8 98.5,485.1 99.2,485.4 99.9,485.7 100.5,485.8 101.2,485.9 101.9,486 102.5,485.9 103.2,485.7 103.9,485.5 104.5,485.2 105.2,484.7 105.9,484.1 106.5,483.4 107.2,482.5 107.8,481.5 108.5,480.4 109.2,479 109.8,477.5 110.5,475.9 111.2,474 111.8,472 112.5,469.9 113.2,467.6 113.8,465.2 114.5,462.6 115.2,460.1 115.8,457.4 116.5,454.7 117.1,452 117.8,449.2 118.5,446.5 119.1,443.8 119.8,441.2 120.5,438.6 121.1,436.1 121.8,433.7 122.5,431.4 123.1,429.2 123.8,427.1 124.5,425.1 125.1,423.1 125.8,421.2 126.5,419.4 127.1,417.6 127.8,415.8 128.4,414 129.1,412.3 129.8,410.5 130.4,408.7 131.1,406.9 131.8,405.1 132.4,403.3 133.1,401.5 133.8,399.8 134.4,398.1 135.1,396.6 135.8,395.1 136.4,393.8 137.1,392.5 137.7,391.3 138.4,390.2 139.1,389.2 139.7,388.2 140.4,387.4 141.1,386.6 141.7,386 142.4,385.4 143.1,384.9 143.7,384.4 144.4,384.1 145.1,383.8 145.7,383.6 146.4,383.4 147,383.4 147.7,383.4 148.4,383.5 149,383.6 149.7,383.9 150.4,384.2 151,384.5 151.7,385 152.4,385.4 153,386 153.7,386.6 154.4,387.3 155,388 155.7,388.8 156.4,389.7 157,390.6 157.7,391.5 158.3,392.6 159,393.6 159.7,394.8 160.3,395.9 161,397.1 161.7,398.4 162.3,399.7 163,401.1 163.7,402.5 164.3,404 165,405.5 165.7,407 166.3,408.6 167,410.4 167.6,412.2 168.3,414 169,415.8 169.6,417.6 170.3,419.4 171,421.2 171.6,423 172.3,424.8 173,426.6 173.6,428.3 174.3,430 175,431.6 175.6,433.1 176.3,434.7 177,436.3 177.6,437.7 178.3,439.1 178.9,440.4 179.6,441.6 180.3,442.8 180.9,443.9 181.6,444.9 182.3,445.9 182.9,446.8 183.6,447.9 184.3,448.9 184.9,449.9 185.6,450.9 186.3,451.8 186.9,452.8 187.6,453.6 188.2,454.5 188.9,455.2 189.6,456 190.2,456.6 190.9,457.2 191.6,457.7 192.2,458.2 192.9,458.7 193.6,459 194.2,459.4 194.9,459.7 195.6,459.9 196.2,460.1 196.9,460.2 197.6,460.3 198.2,460.4 198.9,460.4 199.5,460.4 200.2,460.3 200.9,460.2 201.5,460.1 202.2,460 202.9,459.8 203.5,459.6 204.2,459.3 204.9,459.1 205.5,458.8 206.2,458.4 206.9,458.1 207.5,457.7 208.2,457.4 208.8,457 209.5,456.6 210.2,456.1 210.8,455.7 211.5,455.3 212.2,454.8 212.8,454.3 213.5,453.9 214.2,453.4 214.8,452.9 215.5,452.4 216.2,451.9 216.8,451.4 217.5,451 218.2,450.5 218.8,450 219.5,449.5 220.1,449.1 220.8,448.6 221.5,448.1 222.1,447.7 222.8,447.2 223.5,446.8 224.1,446.4 224.8,445.9 225.5,445.5 226.1,445.1 226.8,444.7 227.5,444.3 228.1,443.9 228.8,443.5 229.4,443.1 230.1,442.7 230.8,442.3 231.4,442 232.1,441.6 232.8,441.3 233.4,440.9 234.1,440.6 234.8,440.2 235.4,439.9 236.1,439.6 236.8,439.3 237.4,439 238.1,438.7 238.8,438.4 239.4,438.1 240.1,437.9 240.7,437.6 241.4,437.3 242.1,437.1 242.7,436.8 243.4,436.6 244.1,436.3 244.7,436 245.4,435.8 246.1,435.6 246.7,435.3 247.4,435 248.1,434.9 248.7,434.7 249.4,434.5 250,434.3 250.7,433.7 251.4,433.6 252,433.8 252.7,433.5 253.4,433.6 254,433.7 254.7,433.6 255.4,433.4 256,433 256.7,433.1 257.4,433.2 258,433.2 258.7,433.7 259.4,432.9 260,433 260.7,432.7 261.3,433.1 262,432.3 262.7,432.9 263.3,432.4 264,432.3 264.7,432.6 265.3,432.5 266,432.6 266.7,432.3 267.3,432.7 268,432.3 268.7,431.6 269.3,432.5 270,432.4 270.6,433.5 271.3,433.4 272,433.1 272.6,433.9 273.3,434.4 274,434.2 274.6,434.7 275.3,433.9 276,434 276.6,434.4 277.3,434.4 278,434 278.6,434.1 279.3,433.8 279.9,434.3 280.6,434.5 281.3,434.3 281.9,433.6 282.6,433.6 283.3,433 283.9,433.2 284.6,433.5 285.3,433.8 285.9,433.6 286.6,433.4 287.3,433.1 287.9,433 288.6,433.5 289.3,433.2 289.9,432.6 290.6,432.9 291.2,432.9 291.9,433.3 292.6,433.5 293.2,433.1 293.9,432.9 294.6,434 295.2,434.2 295.9,434 296.6,433.5 297.2,434.1 297.9,433.9 298.6,434.2 299.2,434.3 299.9,435.1 300.5,434.7 301.2,434.1 301.9,433.6 302.5,432.8 303.2,432.7 303.9,431.9 304.5,431.9 305.2,431.6 305.9,432 306.5,432.1 307.2,431.6 307.9,431.3 308.5,432.1 309.2,432.2 309.9,432.3 310.5,432.5 311.2,431.8 311.8,431.3 312.5,431.5 313.2,431.1 313.8,431 314.5,431 315.2,431.2 315.8,431.7 316.5,431.5 317.2,431.6 317.8,432.1 318.5,432.5 319.2,433.5 319.8,433.1 320.5,433.1 321.1,433.3 321.8,433 322.5,432.7 323.1,432.9 323.8,433.6 324.5,434.5 325.1,433.8 325.8,433.7" fill="none" stroke="#d4b8e0" stroke-width="1.4" stroke-linejoin="round" stroke-linecap="round" />
<path d="M60,452.2 60.7,452.1 61.3,452.1 62,452.1 62.7,452.1 63.3,452.2 64,452.3 64.7,452.4 65.3,452.6 66,452.8 66.6,453 67.3,453.3 68,453.5 68.6,453.9 69.3,454.2 70,454.5 70.6,454.8 71.3,455.1 72,455.4 72.6,455.8 73.3,456.1 74,456.5 74.6,456.9 75.3,457.3 75.9,457.8 76.6,458.3 77.3,458.8 77.9,459.3 78.6,459.9 79.3,460.6 79.9,461.2 80.6,462 81.3,462.8 81.9,463.6 82.6,464.5 83.3,465.5 83.9,466.7 84.6,468 85.3,469.3 85.9,470.7 86.6,472.2 87.2,473.6 87.9,475 88.6,476.4 89.2,477.8 89.9,479 90.6,480.2 91.2,481.4 91.9,482.5 92.6,483.5 93.2,484.4 93.9,485.3 94.6,486.1 95.2,486.9 95.9,487.6 96.5,488.2 97.2,488.7 97.9,489.2 98.5,489.6 99.2,489.9 99.9,490.1 100.5,490.3 101.2,490.4 101.9,490.4 102.5,490.4 103.2,490.2 103.9,489.9 104.5,489.6 105.2,489.1 105.9,488.4 106.5,487.6 107.2,486.7 107.8,485.6 108.5,484.4 109.2,482.9 109.8,481.3 110.5,479.5 111.2,477.5 111.8,475.3 112.5,472.9 113.2,470.4 113.8,467.9 114.5,465.2 115.2,462.4 115.8,459.6 116.5,456.6 117.1,453.7 117.8,450.7 118.5,447.7 119.1,444.8 119.8,441.9 120.5,439 121.1,436.3 121.8,433.6 122.5,431.1 123.1,428.7 123.8,426.3 124.5,424 125.1,421.9 125.8,419.7 126.5,417.6 127.1,415.6 127.8,413.5 128.4,411.5 129.1,409.5 129.8,407.5 130.4,405.5 131.1,403.4 131.8,401.4 132.4,399.4 133.1,397.4 133.8,395.4 134.4,393.6 135.1,391.8 135.8,390.2 136.4,388.6 137.1,387.2 137.7,385.8 138.4,384.6 139.1,383.5 139.7,382.4 140.4,381.5 141.1,380.6 141.7,379.8 142.4,379.2 143.1,378.6 143.7,378.1 144.4,377.7 145.1,377.4 145.7,377.1 146.4,377 147,376.9 147.7,377 148.4,377.1 149,377.2 149.7,377.5 150.4,377.8 151,378.2 151.7,378.7 152.4,379.3 153,379.9 153.7,380.6 154.4,381.3 155,382.2 155.7,383.1 156.4,384 157,385 157.7,386.1 158.3,387.3 159,388.5 159.7,389.7 160.3,391.1 161,392.4 161.7,393.9 162.3,395.4 163,396.9 163.7,398.5 164.3,400.1 165,401.8 165.7,403.5 166.3,405.3 167,407.3 167.6,409.4 168.3,411.4 169,413.5 169.6,415.5 170.3,417.6 171,419.6 171.6,421.6 172.3,423.7 173,425.6 173.6,427.6 174.3,429.4 175,431.2 175.6,433 176.3,434.8 177,436.5 177.6,438.1 178.3,439.6 178.9,441 179.6,442.4 180.3,443.6 180.9,444.8 181.6,446 182.3,447.1 182.9,448.1 183.6,449.3 184.3,450.4 184.9,451.5 185.6,452.6 186.3,453.6 186.9,454.7 187.6,455.6 188.2,456.6 188.9,457.4 189.6,458.2 190.2,459 190.9,459.6 191.6,460.3 192.2,460.8 192.9,461.3 193.6,461.7 194.2,462.1 194.9,462.5 195.6,462.7 196.2,463 196.9,463.1 197.6,463.3 198.2,463.4 198.9,463.4 199.5,463.4 200.2,463.4 200.9,463.3 201.5,463.2 202.2,463 202.9,462.9 203.5,462.6 204.2,462.4 204.9,462.1 205.5,461.8 206.2,461.5 206.9,461.1 207.5,460.7 208.2,460.3 208.8,459.9 209.5,459.5 210.2,459 210.8,458.6 211.5,458.1 212.2,457.6 212.8,457.1 213.5,456.6 214.2,456 214.8,455.5 215.5,455 216.2,454.4 216.8,453.9 217.5,453.4 218.2,452.8 218.8,452.3 219.5,451.8 220.1,451.3 220.8,450.8 221.5,450.3 222.1,449.8 222.8,449.3 223.5,448.8 224.1,448.3 224.8,447.8 225.5,447.3 226.1,446.9 226.8,446.4 227.5,446 228.1,445.5 228.8,445.1 229.4,444.6 230.1,444.2 230.8,443.8 231.4,443.4 232.1,443 232.8,442.6 233.4,442.2 234.1,441.8 234.8,441.4 235.4,441.1 236.1,440.7 236.8,440.3 237.4,440 238.1,439.7 238.8,439.3 239.4,439 240.1,438.7 240.7,438.4 241.4,438.1 242.1,437.8 242.7,437.5 243.4,437.2 244.1,436.9 244.7,436.6 245.4,436.5 246.1,436.3 246.7,436.1 247.4,435.8 248.1,435.7 248.7,435.7 249.4,435.5 250,435.4 250.7,435.3 251.4,435.2 252,435.2 252.7,435 253.4,435 254,434.8 254.7,434.8 255.4,435 256,434.8 256.7,434.8 257.4,434.5 258,434.8 258.7,434.7 259.4,435 260,435 260.7,434.2 261.3,434.1 262,433.9 262.7,433.7 263.3,433.8 264,433.7 264.7,433.7 265.3,433.5 266,433.1 266.7,433.2 267.3,432.8 268,432.3 268.7,432 269.3,431.8 270,431.9 270.6,431.6 271.3,431.6 272,431.8 272.6,432.3 273.3,432.4 274,432.5 274.6,432.3 275.3,432.3 276,432.1 276.6,432.2 277.3,432.4 278,432.8 278.6,433 279.3,433.2 279.9,432.7 280.6,432.8 281.3,432.5 281.9,432.2 282.6,432.2 283.3,432.4 283.9,432.9 284.6,433.2 285.3,433.2 285.9,433.2 286.6,433.2 287.3,432.8 287.9,433.2 288.6,432.6 289.3,432.8 289.9,432.6 290.6,432.7 291.2,432.2 291.9,432.1 292.6,432.6 293.2,432.5 293.9,432.6 294.6,432.3 295.2,431.9 295.9,432 296.6,432.2 297.2,432.3 297.9,432.2 298.6,432.3 299.2,432.6 299.9,432.6 300.5,432.2 301.2,432 301.9,431.4 302.5,431.3 303.2,431.1 303.9,431.2 304.5,431.1 305.2,430.8 305.9,430.8 306.5,430.9 307.2,430.6 307.9,430.9 308.5,431.5 309.2,430.4 309.9,430.5 310.5,430.7 311.2,430.8 311.8,430.7 312.5,430.4 313.2,430 313.8,429.6 314.5,429.6 315.2,429.6 315.8,429.3 316.5,429.2 317.2,429 317.8,429.3 318.5,429.7 319.2,430.2 319.8,430.3 320.5,430.7 321.1,430.8 321.8,430.7 322.5,430.4 323.1,430.4 323.8,430.4 324.5,430.7 325.1,430.5 325.8,431.3" fill="none" stroke="#c27c9e" stroke-width="1.4" stroke-linejoin="round" stroke-linecap="round" />
<path d="M60,454.1 60.7,454 61.3,454 62,454 62.7,454 63.3,454.1 64,454.2 64.7,454.4 65.3,454.6 66,454.8 66.6,455 67.3,455.3 68,455.6 68.6,455.9 69.3,456.3 70,456.7 70.6,457.1 71.3,457.4 72,457.8 72.6,458.3 73.3,458.7 74,459.2 74.6,459.7 75.3,460.2 75.9,460.8 76.6,461.4 77.3,462 77.9,462.7 78.6,463.5 79.3,464.3 79.9,465.1 80.6,466 81.3,467 81.9,468.1 82.6,469.2 83.3,470.4 83.9,471.8 84.6,473.3 85.3,474.9 85.9,476.5 86.6,478.1 87.2,479.8 87.9,481.4 88.6,483.1 89.2,484.6 89.9,486.1 90.6,487.5 91.2,488.8 91.9,490.1 92.6,491.3 93.2,492.4 93.9,493.4 94.6,494.3 95.2,495.2 95.9,496 96.5,496.7 97.2,497.3 97.9,497.8 98.5,498.3 99.2,498.6 99.9,498.9 100.5,499.1 101.2,499.3 101.9,499.3 102.5,499.2 103.2,499 103.9,498.7 104.5,498.3 105.2,497.7 105.9,497 106.5,496.1 107.2,495 107.8,493.7 108.5,492.3 109.2,490.6 109.8,488.7 110.5,486.6 111.2,484.3 111.8,481.8 112.5,479 113.2,476.2 113.8,472.8 114.5,469.3 115.2,465.8 115.8,462.3 116.5,458.8 117.1,455.3 117.8,451.9 118.5,448.6 119.1,445.3 119.8,442.2 120.5,439.2 121.1,436.3 121.8,433.6 122.5,431.1 123.1,428.8 123.8,426.6 124.5,424.5 125.1,422.5 125.8,420.7 126.5,418.9 127.1,417.2 127.8,415.6 128.4,414 129.1,412.5 129.8,411 130.4,409.3 131.1,407.5 131.8,405.7 132.4,404 133.1,402.2 133.8,400.6 134.4,398.9 135.1,397.4 135.8,396 136.4,394.7 137.1,393.4 137.7,392.2 138.4,391.2 139.1,390.2 139.7,389.3 140.4,388.4 141.1,387.7 141.7,387 142.4,386.5 143.1,386 143.7,385.5 144.4,385.2 145.1,384.9 145.7,384.7 146.4,384.6 147,384.5 147.7,384.5 148.4,384.6 149,384.8 149.7,385 150.4,385.3 151,385.6 151.7,386 152.4,386.5 153,387.1 153.7,387.7 154.4,388.3 155,389.1 155.7,389.8 156.4,390.7 157,391.5 157.7,392.5 158.3,393.5 159,394.5 159.7,395.6 160.3,396.8 161,398 161.7,399.2 162.3,400.5 163,401.8 163.7,403.2 164.3,404.6 165,406.1 165.7,407.6 166.3,409.1 167,410.5 167.6,412 168.3,413.5 169,415.1 169.6,416.7 170.3,418.4 171,420.2 171.6,421.9 172.3,423.7 173,425.6 173.6,427.4 174.3,429.3 175,431.1 175.6,432.9 176.3,434.8 177,436.6 177.6,438.4 178.3,440.1 178.9,441.8 179.6,443.4 180.3,445 180.9,446.6 181.6,448.2 182.3,449.7 182.9,451.3 183.6,452.7 184.3,454.1 184.9,455.4 185.6,456.8 186.3,458.1 186.9,459.4 187.6,460.6 188.2,461.8 188.9,462.9 189.6,463.9 190.2,464.9 190.9,465.8 191.6,466.6 192.2,467.3 192.9,468 193.6,468.6 194.2,469.2 194.9,469.7 195.6,470.1 196.2,470.4 196.9,470.7 197.6,470.9 198.2,471.1 198.9,471.3 199.5,471.3 200.2,471.4 200.9,471.3 201.5,471.3 202.2,471.1 202.9,471 203.5,470.8 204.2,470.5 204.9,470.3 205.5,470 206.2,469.6 206.9,469.2 207.5,468.8 208.2,468.4 208.8,467.9 209.5,467.4 210.2,466.9 210.8,466.4 211.5,465.8 212.2,465.3 212.8,464.7 213.5,464.1 214.2,463.4 214.8,462.8 215.5,462.2 216.2,461.5 216.8,460.9 217.5,460.2 218.2,459.6 218.8,458.9 219.5,458.3 220.1,457.6 220.8,457 221.5,456.4 222.1,455.7 222.8,455.1 223.5,454.5 224.1,453.9 224.8,453.3 225.5,452.7 226.1,452.1 226.8,451.5 227.5,450.9 228.1,450.3 228.8,449.8 229.4,449.2 230.1,448.7 230.8,448.1 231.4,447.6 232.1,447.1 232.8,446.6 233.4,446.1 234.1,445.6 234.8,445.1 235.4,444.6 236.1,444.1 236.8,443.7 237.4,443.2 238.1,442.7 238.8,442.3 239.4,441.9 240.1,441.5 240.7,441.1 241.4,440.7 242.1,440.3 242.7,439.9 243.4,439.5 244.1,439.2 244.7,438.8 245.4,438.5 246.1,438.3 246.7,438 247.4,437.8 248.1,437.5 248.7,437.4 249.4,437 250,436.8 250.7,436.5 251.4,436.3 252,436 252.7,435.8 253.4,435.7 254,435.4 254.7,434.9 255.4,434.8 256,434.5 256.7,434.5 257.4,434.9 258,434.8 258.7,434.8 259.4,434.6 260,434.4 260.7,434.4 261.3,433.9 262,434.2 262.7,433.7 263.3,433.8 264,433.5 264.7,433.5 265.3,433.6 266,433.8 266.7,433.8 267.3,433.7 268,433.5 268.7,433.3 269.3,433 270,433.3 270.6,433.5 271.3,433.6 272,433.7 272.6,433.6 273.3,433.4 274,433.1 274.6,433.3 275.3,433.1 276,433.4 276.6,433.1 277.3,433.2 278,433.3 278.6,432.6 279.3,432.5 279.9,433 280.6,432.9 281.3,432.8 281.9,432.1 282.6,432 283.3,432.1 283.9,431.7 284.6,431.8 285.3,432.2 285.9,432 286.6,431.5 287.3,431.3 287.9,430.8 288.6,430.3 289.3,430.4 289.9,430.1 290.6,430.1 291.2,429.8 291.9,429.9 292.6,429.8 293.2,430.3 293.9,430.1 294.6,429.8 295.2,430.1 295.9,430.4 296.6,430.2 297.2,430.2 297.9,430.4 298.6,430.8 299.2,431.2 299.9,430.8 300.5,431.3 301.2,431.1 301.9,430.7 302.5,431.3 303.2,431.3 303.9,431.6 304.5,432.1 305.2,432.4 305.9,432.7 306.5,432.7 307.2,432.7 307.9,432.8 308.5,432.6 309.2,432 309.9,432 310.5,431.6 311.2,431.4 311.8,431.4 312.5,431 313.2,430.5 313.8,430.7 314.5,430.3 315.2,430.5 315.8,430.1 316.5,430.4 317.2,430.6 317.8,430.9 318.5,430.9 319.2,430.7 319.8,431.1 320.5,431 321.1,430.8 321.8,430.6 322.5,430.3 323.1,430.3 323.8,430 324.5,429.7 325.1,429.7 325.8,430" fill="none" stroke="#d3a3a6" stroke-width="1.4" stroke-linejoin="round" stroke-linecap="round" />
<path d="M60,453.5 60.7,453.4 61.3,453.4 62,453.4 62.7,453.4 63.3,453.5 64,453.6 64.7,453.7 65.3,453.9 66,454.1 66.6,454.3 67.3,454.6 68,454.9 68.6,455.2 69.3,455.6 70,456 70.6,456.3 71.3,456.7 72,457 72.6,457.4 73.3,457.9 74,458.3 74.6,458.8 75.3,459.3 75.9,459.8 76.6,460.3 77.3,460.9 77.9,461.6 78.6,462.3 79.3,463 79.9,463.8 80.6,464.7 81.3,465.6 81.9,466.6 82.6,467.6 83.3,468.7 83.9,470.1 84.6,471.5 85.3,473 85.9,474.6 86.6,476.1 87.2,477.7 87.9,479.3 88.6,480.8 89.2,482.3 89.9,483.7 90.6,485.1 91.2,486.3 91.9,487.5 92.6,488.7 93.2,489.7 93.9,490.7 94.6,491.6 95.2,492.4 95.9,493.1 96.5,493.8 97.2,494.4 97.9,494.9 98.5,495.3 99.2,495.7 99.9,496 100.5,496.2 101.2,496.3 101.9,496.3 102.5,496.2 103.2,496.1 103.9,495.8 104.5,495.3 105.2,494.8 105.9,494.1 106.5,493.2 107.2,492.2 107.8,491 108.5,489.6 109.2,488 109.8,486.2 110.5,484.2 111.2,482 111.8,479.6 112.5,477 113.2,474.2 113.8,471.1 114.5,467.8 115.2,464.6 115.8,461.2 116.5,457.9 117.1,454.6 117.8,451.3 118.5,448.1 119.1,445 119.8,442 120.5,439 121.1,436.3 121.8,433.6 122.5,431.2 123.1,428.8 123.8,426.6 124.5,424.6 125.1,422.6 125.8,420.7 126.5,418.9 127.1,417.2 127.8,415.5 128.4,413.9 129.1,412.3 129.8,410.7 130.4,409 131.1,407.2 131.8,405.4 132.4,403.6 133.1,401.9 133.8,400.2 134.4,398.5 135.1,397 135.8,395.6 136.4,394.2 137.1,392.9 137.7,391.8 138.4,390.7 139.1,389.7 139.7,388.8 140.4,387.9 141.1,387.2 141.7,386.5 142.4,385.9 143.1,385.4 143.7,385 144.4,384.6 145.1,384.3 145.7,384.1 146.4,384 147,384 147.7,384 148.4,384.1 149,384.2 149.7,384.4 150.4,384.7 151,385.1 151.7,385.5 152.4,386 153,386.5 153.7,387.1 154.4,387.8 155,388.5 155.7,389.3 156.4,390.2 157,391.1 157.7,392 158.3,393 159,394.1 159.7,395.2 160.3,396.4 161,397.6 161.7,398.8 162.3,400.1 163,401.5 163.7,402.9 164.3,404.3 165,405.8 165.7,407.3 166.3,408.9 167,410.4 167.6,412 168.3,413.6 169,415.2 169.6,416.9 170.3,418.6 171,420.4 171.6,422.2 172.3,424 173,425.8 173.6,427.6 174.3,429.4 175,431.2 175.6,432.9 176.3,434.8 177,436.5 177.6,438.2 178.3,439.9 178.9,441.4 179.6,443 180.3,444.5 180.9,445.9 181.6,447.3 182.3,448.7 182.9,450.1 183.6,451.4 184.3,452.7 184.9,454 185.6,455.2 186.3,456.4 186.9,457.6 187.6,458.8 188.2,459.8 188.9,460.9 189.6,461.8 190.2,462.7 190.9,463.5 191.6,464.2 192.2,464.9 192.9,465.5 193.6,466 194.2,466.5 194.9,466.9 195.6,467.3 196.2,467.6 196.9,467.9 197.6,468.1 198.2,468.2 198.9,468.3 199.5,468.3 200.2,468.3 200.9,468.3 201.5,468.2 202.2,468.1 202.9,467.9 203.5,467.7 204.2,467.4 204.9,467.1 205.5,466.8 206.2,466.5 206.9,466.1 207.5,465.7 208.2,465.3 208.8,464.8 209.5,464.4 210.2,463.9 210.8,463.4 211.5,462.8 212.2,462.3 212.8,461.7 213.5,461.1 214.2,460.6 214.8,460 215.5,459.4 216.2,458.8 216.8,458.2 217.5,457.5 218.2,456.9 218.8,456.3 219.5,455.7 220.1,455.1 220.8,454.5 221.5,453.9 222.1,453.4 222.8,452.8 223.5,452.2 224.1,451.7 224.8,451.1 225.5,450.5 226.1,450 226.8,449.5 227.5,448.9 228.1,448.4 228.8,447.9 229.4,447.4 230.1,446.9 230.8,446.4 231.4,445.9 232.1,445.4 232.8,445 233.4,444.5 234.1,444 234.8,443.6 235.4,443.1 236.1,442.7 236.8,442.3 237.4,441.9 238.1,441.5 238.8,441.1 239.4,440.7 240.1,440.3 240.7,440 241.4,439.6 242.1,439.2 242.7,438.9 243.4,438.6 244.1,438.3 244.7,437.9 245.4,437.6 246.1,437.3 246.7,437 247.4,436.6 248.1,436.2 248.7,436 249.4,435.7 250,435.6 250.7,435.1 251.4,435 252,434.7 252.7,434.5 253.4,433.9 254,433.8 254.7,433.7 255.4,433.5 256,432.8 256.7,432.3 257.4,431.8 258,431.5 258.7,431.3 259.4,430.4 260,430.4 260.7,430.9 261.3,431.1 262,431.9 262.7,431.9 263.3,431.6 264,432.1 264.7,432 265.3,432 266,431.6 266.7,431.6 267.3,431.2 268,430.8 268.7,431.4 269.3,431.2 270,431.8 270.6,432.2 271.3,431.6 272,432.3 272.6,432.5 273.3,432.9 274,432.9 274.6,432.3 275.3,432.6 276,433.3 276.6,433.1 277.3,432.9 278,433.2 278.6,432.9 279.3,432.9 279.9,433 280.6,432.7 281.3,432.8 281.9,432.4 282.6,433.1 283.3,433.4 283.9,433.7 284.6,433.5 285.3,433.2 285.9,433 286.6,433.6 287.3,433.1 287.9,433.4 288.6,433.1 289.3,433 289.9,432.8 290.6,432.5 291.2,432.9 291.9,432.3 292.6,432.4 293.2,432.5 293.9,432.6 294.6,432.5 295.2,432.6 295.9,432.4 296.6,432.4 297.2,432.5 297.9,433.5 298.6,433.5 299.2,433.8 299.9,433.6 300.5,433.7 301.2,433.3 301.9,433 302.5,433.1 303.2,432.6 303.9,432.8 304.5,432.6 305.2,432.6 305.9,432.5 306.5,432.4 307.2,432.9 307.9,432.6 308.5,432.5 309.2,432.5 309.9,432.8 310.5,432.6 311.2,432.3 311.8,431.8 312.5,431.8 313.2,431.7 313.8,431.5 314.5,430.8 315.2,430.7 315.8,429.3 316.5,429.4 317.2,429.8 317.8,430.2 318.5,430.4 319.2,430.3 319.8,429.9 320.5,430.1 321.1,430.8 321.8,430.4 322.5,430.7 323.1,431.1 323.8,430.8 324.5,430.8 325.1,431.1 325.8,430.6" fill="none" stroke="#e8bcbc" stroke-width="1.4" stroke-linejoin="round" stroke-linecap="round" />
<path d="M60,455.6 60.7,455.5 61.3,455.5 62,455.5 62.7,455.6 63.3,455.6 64,455.8 64.7,455.9 65.3,456.1 66,456.3 66.6,456.6 67.3,456.9 68,457.2 68.6,457.6 69.3,458 70,458.4 70.6,458.8 71.3,459.3 72,459.7 72.6,460.2 73.3,460.8 74,461.3 74.6,461.9 75.3,462.5 75.9,463.2 76.6,463.9 77.3,464.6 77.9,465.4 78.6,466.3 79.3,467.2 79.9,468.2 80.6,469.3 81.3,470.4 81.9,471.6 82.6,472.9 83.3,474.3 83.9,475.9 84.6,477.5 85.3,479.3 85.9,481.1 86.6,482.9 87.2,484.7 87.9,486.6 88.6,488.3 89.2,490.1 89.9,491.7 90.6,493.3 91.2,494.7 91.9,496.1 92.6,497.4 93.2,498.7 93.9,499.8 94.6,500.8 95.2,501.8 95.9,502.6 96.5,503.4 97.2,504.1 97.9,504.7 98.5,505.2 99.2,505.6 99.9,505.9 100.5,506.2 101.2,506.3 101.9,506.3 102.5,506.2 103.2,506 103.9,505.7 104.5,505.2 105.2,504.6 105.9,503.7 106.5,502.7 107.2,501.6 107.8,500.2 108.5,498.5 109.2,496.7 109.8,494.6 110.5,492.3 111.2,489.7 111.8,486.9 112.5,483.9 113.2,480.7 113.8,477.3 114.5,473.7 115.2,470.1 115.8,466.3 116.5,462.6 117.1,458.8 117.8,454.9 118.5,451.2 119.1,447.4 119.8,443.8 120.5,440.2 121.1,436.8 121.8,433.5 122.5,430.4 123.1,427.4 123.8,424.5 124.5,421.8 125.1,419.2 125.8,416.6 126.5,414.1 127.1,411.7 127.8,409.3 128.4,407 129.1,404.6 129.8,402.3 130.4,399.9 131.1,397.5 131.8,395 132.4,392.6 133.1,390.2 133.8,387.9 134.4,385.7 135.1,383.6 135.8,381.6 136.4,379.8 137.1,378 137.7,376.4 138.4,375 139.1,373.6 139.7,372.3 140.4,371.2 141.1,370.2 141.7,369.3 142.4,368.5 143.1,367.8 143.7,367.2 144.4,366.7 145.1,366.3 145.7,366.1 146.4,365.9 147,365.8 147.7,365.8 148.4,365.9 149,366.2 149.7,366.5 150.4,366.9 151,367.3 151.7,367.9 152.4,368.6 153,369.3 153.7,370.1 154.4,371.1 155,372 155.7,373.1 156.4,374.3 157,375.5 157.7,376.8 158.3,378.2 159,379.6 159.7,381.1 160.3,382.7 161,384.3 161.7,386 162.3,387.8 163,389.6 163.7,391.5 164.3,393.5 165,395.5 165.7,397.6 166.3,399.7 167,401.8 167.6,404 168.3,406.3 169,408.6 169.6,410.9 170.3,413.3 171,415.7 171.6,418.1 172.3,420.5 173,423 173.6,425.4 174.3,427.9 175,430.2 175.6,432.5 176.3,434.8 177,437 177.6,439.2 178.3,441.2 178.9,443.2 179.6,445.1 180.3,447 180.9,448.8 181.6,450.5 182.3,452.2 182.9,453.9 183.6,455.6 184.3,457.2 184.9,458.7 185.6,460.3 186.3,461.9 186.9,463.4 187.6,464.8 188.2,466.2 188.9,467.5 189.6,468.8 190.2,470 190.9,471.1 191.6,472.1 192.2,473.1 192.9,473.9 193.6,474.7 194.2,475.4 194.9,476 195.6,476.6 196.2,477.1 196.9,477.5 197.6,477.8 198.2,478.1 198.9,478.3 199.5,478.5 200.2,478.6 200.9,478.7 201.5,478.7 202.2,478.6 202.9,478.5 203.5,478.3 204.2,478.1 204.9,477.9 205.5,477.6 206.2,477.3 206.9,476.9 207.5,476.5 208.2,476 208.8,475.6 209.5,475.1 210.2,474.5 210.8,474 211.5,473.4 212.2,472.7 212.8,472.1 213.5,471.5 214.2,470.8 214.8,470.1 215.5,469.4 216.2,468.7 216.8,467.9 217.5,467.2 218.2,466.4 218.8,465.7 219.5,464.9 220.1,464.2 220.8,463.4 221.5,462.7 222.1,461.9 222.8,461.2 223.5,460.5 224.1,459.8 224.8,459 225.5,458.3 226.1,457.6 226.8,456.9 227.5,456.2 228.1,455.6 228.8,454.9 229.4,454.2 230.1,453.6 230.8,452.9 231.4,452.3 232.1,451.6 232.8,451 233.4,450.4 234.1,449.8 234.8,449.2 235.4,448.6 236.1,448 236.8,447.5 237.4,446.9 238.1,446.3 238.8,445.8 239.4,445.3 240.1,444.8 240.7,444.2 241.4,443.7 242.1,443.3 242.7,442.8 243.4,442.2 244.1,441.7 244.7,441.2 245.4,440.8 246.1,440.3 246.7,439.9 247.4,439.5 248.1,439.2 248.7,438.9 249.4,438.6 250,437.9 250.7,437.8 251.4,437.3 252,437.2 252.7,436.8 253.4,436.4 254,436 254.7,435.5 255.4,435.4 256,435.1 256.7,435.3 257.4,435.1 258,435 258.7,434.9 259.4,434.8 260,434.9 260.7,434.6 261.3,434.8 262,433.8 262.7,433.4 263.3,433.1 264,432.3 264.7,431.7 265.3,431.6 266,431.7 266.7,431.8 267.3,431.1 268,431.1 268.7,430.7 269.3,430.5 270,430.5 270.6,430.3 271.3,430.4 272,430 272.6,429.7 273.3,428.9 274,428.9 274.6,428.8 275.3,428.8 276,428.9 276.6,428.7 277.3,428.8 278,428.2 278.6,428.6 279.3,428.7 279.9,428.7 280.6,428.7 281.3,428.8 281.9,428.5 282.6,428.3 283.3,428.8 283.9,429 284.6,428.9 285.3,429 285.9,429.2 286.6,428.8 287.3,429.3 287.9,429.5 288.6,429.8 289.3,430.6 289.9,431.4 290.6,431.5 291.2,431.5 291.9,431.8 292.6,432 293.2,432.3 293.9,432.5 294.6,432.6 295.2,432.5 295.9,433.1 296.6,433 297.2,433.3 297.9,433 298.6,433 299.2,433.3 299.9,432.6 300.5,432.3 301.2,432.4 301.9,432.2 302.5,432.5 303.2,432.5 303.9,432.6 304.5,432.3 305.2,431.5 305.9,430.9 306.5,430.5 307.2,430.5 307.9,430.2 308.5,430.1 309.2,430.1 309.9,430.1 310.5,430 311.2,430.6 311.8,430.3 312.5,429.5 313.2,429.3 313.8,429.4 314.5,430 315.2,430.4 315.8,430.6 316.5,431.3 317.2,431.6 317.8,431.5 318.5,431.6 319.2,431.5 319.8,431.8 320.5,431.1 321.1,431.1 321.8,431.5 322.5,430.5 323.1,430.5 323.8,430.2 324.5,430.1 325.1,429.9 325.8,429.6" fill="none" stroke="#f08a4c" stroke-width="1.4" stroke-linejoin="round" stroke-linecap="round" />
<path d="M60,455.5 60.7,455.4 61.3,455.4 62,455.4 62.7,455.4 63.3,455.5 64,455.6 64.7,455.8 65.3,456 66,456.2 66.6,456.5 67.3,456.8 68,457.1 68.6,457.4 69.3,457.8 70,458.3 70.6,458.7 71.3,459.1 72,459.6 72.6,460.1 73.3,460.6 74,461.2 74.6,461.7 75.3,462.3 75.9,463 76.6,463.7 77.3,464.4 77.9,465.2 78.6,466.1 79.3,467 79.9,468 80.6,469 81.3,470.1 81.9,471.3 82.6,472.6 83.3,474 83.9,475.5 84.6,477.2 85.3,478.9 85.9,480.7 86.6,482.5 87.2,484.3 87.9,486.1 88.6,487.9 89.2,489.6 89.9,491.2 90.6,492.8 91.2,494.3 91.9,495.6 92.6,496.9 93.2,498.1 93.9,499.3 94.6,500.3 95.2,501.2 95.9,502.1 96.5,502.9 97.2,503.5 97.9,504.1 98.5,504.6 99.2,505 99.9,505.4 100.5,505.6 101.2,505.7 101.9,505.7 102.5,505.7 103.2,505.5 103.9,505.1 104.5,504.6 105.2,504 105.9,503.2 106.5,502.2 107.2,501 107.8,499.6 108.5,498 109.2,496.2 109.8,494.1 110.5,491.8 111.2,489.3 111.8,486.5 112.5,483.5 113.2,480.3 113.8,477 114.5,473.5 115.2,469.9 115.8,466.2 116.5,462.4 117.1,458.6 117.8,454.9 118.5,451.1 119.1,447.4 119.8,443.7 120.5,440.2 121.1,436.8 121.8,433.5 122.5,430.4 123.1,427.4 123.8,424.5 124.5,421.8 125.1,419.1 125.8,416.5 126.5,414 127.1,411.6 127.8,409.2 128.4,406.8 129.1,404.4 129.8,402 130.4,399.6 131.1,397.2 131.8,394.7 132.4,392.2 133.1,389.8 133.8,387.5 134.4,385.3 135.1,383.2 135.8,381.2 136.4,379.3 137.1,377.6 137.7,376 138.4,374.5 139.1,373.1 139.7,371.8 140.4,370.7 141.1,369.7 141.7,368.7 142.4,367.9 143.1,367.2 143.7,366.6 144.4,366.2 145.1,365.8 145.7,365.5 146.4,365.3 147,365.2 147.7,365.3 148.4,365.4 149,365.6 149.7,365.9 150.4,366.3 151,366.8 151.7,367.4 152.4,368 153,368.8 153.7,369.6 154.4,370.5 155,371.5 155.7,372.6 156.4,373.8 157,375 157.7,376.3 158.3,377.7 159,379.1 159.7,380.7 160.3,382.3 161,383.9 161.7,385.6 162.3,387.4 163,389.3 163.7,391.2 164.3,393.2 165,395.2 165.7,397.3 166.3,399.4 167,401.6 167.6,403.8 168.3,406.1 169,408.4 169.6,410.8 170.3,413.2 171,415.6 171.6,418.1 172.3,420.5 173,423 173.6,425.5 174.3,427.9 175,430.2 175.6,432.5 176.3,434.8 177,437 177.6,439.1 178.3,441.2 178.9,443.1 179.6,445 180.3,446.9 180.9,448.7 181.6,450.4 182.3,452.1 182.9,453.7 183.6,455.3 184.3,456.9 184.9,458.5 185.6,460 186.3,461.6 186.9,463 187.6,464.5 188.2,465.9 188.9,467.2 189.6,468.4 190.2,469.6 190.9,470.7 191.6,471.7 192.2,472.6 192.9,473.4 193.6,474.2 194.2,474.9 194.9,475.5 195.6,476 196.2,476.5 196.9,476.9 197.6,477.3 198.2,477.5 198.9,477.8 199.5,477.9 200.2,478 200.9,478.1 201.5,478 202.2,478 202.9,477.9 203.5,477.7 204.2,477.5 204.9,477.3 205.5,477 206.2,476.6 206.9,476.3 207.5,475.8 208.2,475.4 208.8,474.9 209.5,474.4 210.2,473.9 210.8,473.3 211.5,472.7 212.2,472.1 212.8,471.5 213.5,470.8 214.2,470.1 214.8,469.5 215.5,468.8 216.2,468 216.8,467.3 217.5,466.6 218.2,465.8 218.8,465.1 219.5,464.4 220.1,463.6 220.8,462.9 221.5,462.1 222.1,461.4 222.8,460.7 223.5,459.9 224.1,459.2 224.8,458.5 225.5,457.8 226.1,457.1 226.8,456.4 227.5,455.8 228.1,455.1 228.8,454.4 229.4,453.8 230.1,453.1 230.8,452.5 231.4,451.9 232.1,451.2 232.8,450.6 233.4,450 234.1,449.4 234.8,448.8 235.4,448.2 236.1,447.7 236.8,447.1 237.4,446.6 238.1,446 238.8,445.5 239.4,445 240.1,444.5 240.7,443.9 241.4,443.5 242.1,443 242.7,442.5 243.4,442 244.1,441.5 244.7,441.1 245.4,440.6 246.1,440.1 246.7,439.7 247.4,439.3 248.1,439.1 248.7,438.6 249.4,438.3 250,437.7 250.7,437.5 251.4,437.6 252,437.2 252.7,436.2 253.4,436.2 254,436 254.7,435.9 255.4,435.5 256,435.8 256.7,435.9 257.4,436.1 258,436.4 258.7,436.4 259.4,435.8 260,435.7 260.7,434.4 261.3,434 262,434.4 262.7,434.8 263.3,434.4 264,434.3 264.7,433.9 265.3,433.8 266,432.9 266.7,432.2 267.3,431.8 268,432 268.7,431.6 269.3,431.5 270,431.2 270.6,431.8 271.3,431.5 272,432.3 272.6,431.5 273.3,430.9 274,430.7 274.6,430.8 275.3,430.9 276,430.7 276.6,429.9 277.3,429.9 278,429.6 278.6,429.5 279.3,429 279.9,429.2 280.6,429.7 281.3,429.8 281.9,429.7 282.6,431 283.3,431.6 283.9,431.9 284.6,431.3 285.3,431.6 285.9,431.9 286.6,432 287.3,431.8 287.9,431.8 288.6,431.1 289.3,431.5 289.9,431.6 290.6,431.7 291.2,431.2 291.9,431 292.6,431.7 293.2,431.6 293.9,431.5 294.6,431.8 295.2,432 295.9,432.1 296.6,431.8 297.2,432.4 297.9,431.5 298.6,432 299.2,431.1 299.9,430.9 300.5,431 301.2,431.5 301.9,431.4 302.5,431.4 303.2,430.8 303.9,430.3 304.5,430.3 305.2,430.6 305.9,430.8 306.5,430.5 307.2,430.1 307.9,430.1 308.5,430 309.2,429.4 309.9,429.8 310.5,429.8 311.2,429.7 311.8,429.3 312.5,429 313.2,429.2 313.8,428.3 314.5,429.4 315.2,428.8 315.8,429.7 316.5,429.2 317.2,428.9 317.8,429.1 318.5,429.5 319.2,429.8 319.8,430.5 320.5,430.8 321.1,430.9 321.8,430.9 322.5,431.1 323.1,431.4 323.8,431.9 324.5,431 325.1,431 325.8,431.4" fill="none" stroke="#f7ab7c" stroke-width="1.4" stroke-linejoin="round" stroke-linecap="round" />
<path d="M60,455.4 60.7,455.3 61.3,455.3 62,455.3 62.7,455.3 63.3,455.4 64,455.5 64.7,455.7 65.3,455.8 66,456.1 66.6,456.3 67.3,456.6 68,456.9 68.6,457.3 69.3,457.7 70,458.1 70.6,458.5 71.3,459 72,459.4 72.6,459.9 73.3,460.4 74,461 74.6,461.6 75.3,462.2 75.9,462.8 76.6,463.5 77.3,464.2 77.9,465 78.6,465.8 79.3,466.7 79.9,467.7 80.6,468.7 81.3,469.8 81.9,471 82.6,472.3 83.3,473.7 83.9,475.2 84.6,476.8 85.3,478.5 85.9,480.3 86.6,482.1 87.2,483.9 87.9,485.7 88.6,487.5 89.2,489.2 89.9,490.8 90.6,492.3 91.2,493.8 91.9,495.1 92.6,496.4 93.2,497.6 93.9,498.7 94.6,499.8 95.2,500.7 95.9,501.5 96.5,502.3 97.2,503 97.9,503.6 98.5,504.1 99.2,504.5 99.9,504.8 100.5,505 101.2,505.1 101.9,505.2 102.5,505.1 103.2,504.9 103.9,504.5 104.5,504.1 105.2,503.4 105.9,502.6 106.5,501.6 107.2,500.5 107.8,499.1 108.5,497.5 109.2,495.7 109.8,493.6 110.5,491.3 111.2,488.8 111.8,486.1 112.5,483.1 113.2,479.9 113.8,476.6 114.5,473.2 115.2,469.6 115.8,466 116.5,462.3 117.1,458.5 117.8,454.8 118.5,451.1 119.1,447.4 119.8,443.7 120.5,440.2 121.1,436.8 121.8,433.5 122.5,430.4 123.1,427.4 123.8,424.5 124.5,421.7 125.1,419 125.8,416.5 126.5,413.9 127.1,411.4 127.8,409 128.4,406.6 129.1,404.2 129.8,401.8 130.4,399.3 131.1,396.9 131.8,394.4 132.4,391.9 133.1,389.5 133.8,387.1 134.4,384.9 135.1,382.7 135.8,380.7 136.4,378.9 137.1,377.1 137.7,375.5 138.4,374 139.1,372.6 139.7,371.3 140.4,370.2 141.1,369.1 141.7,368.2 142.4,367.4 143.1,366.7 143.7,366.1 144.4,365.6 145.1,365.2 145.7,364.9 146.4,364.8 147,364.7 147.7,364.7 148.4,364.8 149,365 149.7,365.3 150.4,365.7 151,366.2 151.7,366.8 152.4,367.5 153,368.2 153.7,369.1 154.4,370 155,371 155.7,372.1 156.4,373.3 157,374.5 157.7,375.8 158.3,377.2 159,378.7 159.7,380.2 160.3,381.8 161,383.5 161.7,385.2 162.3,387 163,388.9 163.7,390.8 164.3,392.8 165,394.9 165.7,397 166.3,399.1 167,401.4 167.6,403.7 168.3,406 169,408.4 169.6,410.8 170.3,413.2 171,415.7 171.6,418.1 172.3,420.6 173,423.1 173.6,425.5 174.3,427.9 175,430.3 175.6,432.6 176.3,434.8 177,437 177.6,439.1 178.3,441.1 178.9,443 179.6,444.9 180.3,446.7 180.9,448.4 181.6,450.1 182.3,451.7 182.9,453.3 183.6,454.9 184.3,456.4 184.9,457.9 185.6,459.5 186.3,460.9 186.9,462.4 187.6,463.8 188.2,465.1 188.9,466.4 189.6,467.6 190.2,468.7 190.9,469.8 191.6,470.8 192.2,471.6 192.9,472.5 193.6,473.2 194.2,473.9 194.9,474.4 195.6,475 196.2,475.4 196.9,475.8 197.6,476.1 198.2,476.4 198.9,476.6 199.5,476.7 200.2,476.8 200.9,476.8 201.5,476.8 202.2,476.7 202.9,476.6 203.5,476.4 204.2,476.2 204.9,476 205.5,475.7 206.2,475.3 206.9,475 207.5,474.5 208.2,474.1 208.8,473.6 209.5,473.1 210.2,472.6 210.8,472 211.5,471.4 212.2,470.8 212.8,470.2 213.5,469.6 214.2,468.9 214.8,468.2 215.5,467.5 216.2,466.8 216.8,466.1 217.5,465.4 218.2,464.7 218.8,463.9 219.5,463.2 220.1,462.5 220.8,461.8 221.5,461 222.1,460.3 222.8,459.6 223.5,458.9 224.1,458.2 224.8,457.5 225.5,456.8 226.1,456.2 226.8,455.5 227.5,454.8 228.1,454.2 228.8,453.5 229.4,452.9 230.1,452.3 230.8,451.6 231.4,451 232.1,450.4 232.8,449.8 233.4,449.2 234.1,448.7 234.8,448.1 235.4,447.5 236.1,447 236.8,446.4 237.4,445.9 238.1,445.4 238.8,444.9 239.4,444.4 240.1,443.9 240.7,443.4 241.4,442.9 242.1,442.4 242.7,442 243.4,441.4 244.1,440.8 244.7,440.3 245.4,439.9 246.1,439.3 246.7,438.8 247.4,438.4 248.1,438.1 248.7,437.5 249.4,437 250,436.5 250.7,436.1 251.4,435.5 252,435.2 252.7,435.1 253.4,434.8 254,434.8 254.7,434.4 255.4,434.3 256,434.1 256.7,434.3 257.4,434.3 258,433.5 258.7,433.2 259.4,432.9 260,433.6 260.7,433.6 261.3,433.7 262,432.9 262.7,433.1 263.3,433 264,432.4 264.7,432.4 265.3,433.1 266,433.2 266.7,432.9 267.3,432.5 268,432.5 268.7,432.6 269.3,431.7 270,431.6 270.6,431.2 271.3,431.6 272,431.5 272.6,431.6 273.3,431 274,430.6 274.6,430.9 275.3,431 276,430.8 276.6,430.4 277.3,430.3 278,430.4 278.6,430.8 279.3,430.9 279.9,431.1 280.6,431.2 281.3,431.2 281.9,430.7 282.6,430.5 283.3,430.8 283.9,431.5 284.6,431.7 285.3,431.4 285.9,432.2 286.6,432.1 287.3,432.3 287.9,432.3 288.6,432.6 289.3,432.4 289.9,432.7 290.6,432.5 291.2,432.2 291.9,432.4 292.6,432.6 293.2,432.3 293.9,432 294.6,432 295.2,431.6 295.9,431.5 296.6,431.5 297.2,432 297.9,431.6 298.6,431.4 299.2,431.1 299.9,431.1 300.5,431.4 301.2,431.5 301.9,431.3 302.5,431.4 303.2,431.4 303.9,431.4 304.5,431.7 305.2,432 305.9,431.5 306.5,431.3 307.2,432.1 307.9,432.5 308.5,432.8 309.2,433.1 309.9,433.4 310.5,433.6 311.2,433 311.8,433.4 312.5,432.9 313.2,433 313.8,432.3 314.5,432.3 315.2,432.6 315.8,432.8 316.5,433.4 317.2,432.9 317.8,433 318.5,433.1 319.2,432.6 319.8,432.6 320.5,432.5 321.1,432 321.8,431.7 322.5,432.2 323.1,432 323.8,431.8 324.5,431.8 325.1,431 325.8,430.7" fill="none" stroke="#f8d3a5" stroke-width="1.4" stroke-linejoin="round" stroke-linecap="round" />
<path d="M60,455.1 60.7,455 61.3,455 62,455 62.7,455.1 63.3,455.1 64,455.3 64.7,455.4 65.3,455.6 66,455.8 66.6,456.1 67.3,456.4 68,456.7 68.6,457 69.3,457.4 70,457.8 70.6,458.2 71.3,458.7 72,459.1 72.6,459.6 73.3,460.1 74,460.6 74.6,461.2 75.3,461.8 75.9,462.4 76.6,463.1 77.3,463.8 77.9,464.5 78.6,465.4 79.3,466.2 79.9,467.2 80.6,468.2 81.3,469.3 81.9,470.4 82.6,471.7 83.3,473 83.9,474.5 84.6,476.1 85.3,477.8 85.9,479.6 86.6,481.3 87.2,483.1 87.9,484.9 88.6,486.6 89.2,488.3 89.9,489.9 90.6,491.4 91.2,492.8 91.9,494.1 92.6,495.4 93.2,496.6 93.9,497.7 94.6,498.7 95.2,499.6 95.9,500.4 96.5,501.2 97.2,501.9 97.9,502.4 98.5,502.9 99.2,503.3 99.9,503.6 100.5,503.8 101.2,504 101.9,504 102.5,503.9 103.2,503.7 103.9,503.4 104.5,502.9 105.2,502.3 105.9,501.5 106.5,500.5 107.2,499.4 107.8,498 108.5,496.5 109.2,494.7 109.8,492.7 110.5,490.4 111.2,487.9 111.8,485.2 112.5,482.3 113.2,479.2 113.8,476 114.5,472.6 115.2,469.2 115.8,465.6 116.5,462 117.1,458.3 117.8,454.6 118.5,450.9 119.1,447.3 119.8,443.7 120.5,440.2 121.1,436.8 121.8,433.5 122.5,430.4 123.1,427.4 123.8,424.5 124.5,421.7 125.1,419 125.8,416.4 126.5,413.8 127.1,411.3 127.8,408.8 128.4,406.4 129.1,403.9 129.8,401.5 130.4,399 131.1,396.5 131.8,394 132.4,391.5 133.1,389.1 133.8,386.7 134.4,384.4 135.1,382.3 135.8,380.2 136.4,378.4 137.1,376.6 137.7,374.9 138.4,373.4 139.1,372 139.7,370.7 140.4,369.6 141.1,368.5 141.7,367.6 142.4,366.8 143.1,366.1 143.7,365.5 144.4,365 145.1,364.6 145.7,364.3 146.4,364.1 147,364 147.7,364.1 148.4,364.2 149,364.4 149.7,364.7 150.4,365.1 151,365.6 151.7,366.2 152.4,366.9 153,367.6 153.7,368.5 154.4,369.4 155,370.4 155.7,371.5 156.4,372.7 157,374 157.7,375.3 158.3,376.7 159,378.2 159.7,379.7 160.3,381.3 161,383 161.7,384.8 162.3,386.6 163,388.5 163.7,390.4 164.3,392.4 165,394.5 165.7,396.6 166.3,398.8 167,401.1 167.6,403.5 168.3,405.9 169,408.3 169.6,410.7 170.3,413.2 171,415.7 171.6,418.2 172.3,420.6 173,423.1 173.6,425.6 174.3,428 175,430.3 175.6,432.6 176.3,434.8 177,437 177.6,439.1 178.3,441 178.9,442.9 179.6,444.7 180.3,446.5 180.9,448.2 181.6,449.8 182.3,451.3 182.9,452.9 183.6,454.4 184.3,455.9 184.9,457.4 185.6,458.9 186.3,460.3 186.9,461.7 187.6,463.1 188.2,464.4 188.9,465.7 189.6,466.8 190.2,467.9 190.9,469 191.6,469.9 192.2,470.7 192.9,471.5 193.6,472.2 194.2,472.9 194.9,473.4 195.6,473.9 196.2,474.4 196.9,474.7 197.6,475 198.2,475.3 198.9,475.4 199.5,475.6 200.2,475.6 200.9,475.7 201.5,475.6 202.2,475.5 202.9,475.4 203.5,475.2 204.2,475 204.9,474.7 205.5,474.4 206.2,474.1 206.9,473.7 207.5,473.3 208.2,472.9 208.8,472.4 209.5,471.9 210.2,471.3 210.8,470.8 211.5,470.2 212.2,469.6 212.8,469 213.5,468.4 214.2,467.7 214.8,467 215.5,466.3 216.2,465.7 216.8,465 217.5,464.3 218.2,463.5 218.8,462.8 219.5,462.1 220.1,461.4 220.8,460.7 221.5,460 222.1,459.3 222.8,458.6 223.5,457.9 224.1,457.2 224.8,456.6 225.5,455.9 226.1,455.2 226.8,454.6 227.5,454 228.1,453.3 228.8,452.7 229.4,452.1 230.1,451.5 230.8,450.9 231.4,450.3 232.1,449.7 232.8,449.1 233.4,448.5 234.1,448 234.8,447.4 235.4,446.9 236.1,446.3 236.8,445.8 237.4,445.3 238.1,444.8 238.8,444.3 239.4,443.8 240.1,443.3 240.7,442.8 241.4,442.4 242.1,441.9 242.7,441.5 243.4,441.1 244.1,440.7 244.7,440.3 245.4,439.9 246.1,439.6 246.7,439.2 247.4,438.9 248.1,438.4 248.7,438.3 249.4,437.8 250,437.6 250.7,437.3 251.4,436.9 252,436.6 252.7,436.3 253.4,436.1 254,436 254.7,435.6 255.4,435.6 256,436.2 256.7,436 257.4,435.7 258,435.5 258.7,435.2 259.4,434.7 260,434.5 260.7,433.7 261.3,433.1 262,432.5 262.7,433.2 263.3,433.4 264,433.8 264.7,434.1 265.3,434.1 266,433.6 266.7,433.4 267.3,433.4 268,433.3 268.7,433.3 269.3,433.3 270,432.9 270.6,433.1 271.3,433.2 272,432.9 272.6,432 273.3,431.9 274,431.6 274.6,431.4 275.3,431.5 276,431.6 276.6,431.8 277.3,432.2 278,432.1 278.6,432.1 279.3,431.3 279.9,430.9 280.6,430.8 281.3,430.5 281.9,430.4 282.6,431.2 283.3,431.7 283.9,431.7 284.6,432.1 285.3,432.2 285.9,433 286.6,432.9 287.3,432.9 287.9,432.9 288.6,432.3 289.3,432.5 289.9,432.5 290.6,431.9 291.2,431.7 291.9,431.6 292.6,432 293.2,431.8 293.9,431.7 294.6,431.4 295.2,431.6 295.9,431.7 296.6,432 297.2,431.5 297.9,431.5 298.6,431.6 299.2,431.3 299.9,430.5 300.5,430.2 301.2,430 301.9,429.3 302.5,429.3 303.2,429.9 303.9,429.5 304.5,429.4 305.2,429.4 305.9,429.6 306.5,430.3 307.2,431 307.9,431.5 308.5,430.9 309.2,430.5 309.9,430.4 310.5,430 311.2,430.4 311.8,430.1 312.5,430.4 313.2,430.4 313.8,430.3 314.5,430.3 315.2,430.3 315.8,430.3 316.5,430.9 317.2,431.1 317.8,431.3 318.5,431.8 319.2,431.1 319.8,430.6 320.5,430.7 321.1,430.2 321.8,430.7 322.5,430.7 323.1,429.8 323.8,429.7 324.5,428.8 325.1,428.9 325.8,428.8" fill="none" stroke="#dcefe5" stroke-width="1.4" stroke-linejoin="round" stroke-linecap="round" />
<path d="M60,454.7 60.7,454.7 61.3,454.6 62,454.6 62.7,454.7 63.3,454.7 64,454.9 64.7,455 65.3,455.2 66,455.4 66.6,455.7 67.3,455.9 68,456.3 68.6,456.6 69.3,457 70,457.4 70.6,457.8 71.3,458.2 72,458.6 72.6,459.1 73.3,459.6 74,460.1 74.6,460.6 75.3,461.2 75.9,461.8 76.6,462.4 77.3,463.1 77.9,463.8 78.6,464.6 79.3,465.5 79.9,466.4 80.6,467.4 81.3,468.4 81.9,469.5 82.6,470.7 83.3,472 83.9,473.5 84.6,475 85.3,476.7 85.9,478.4 86.6,480.1 87.2,481.8 87.9,483.5 88.6,485.2 89.2,486.9 89.9,488.4 90.6,489.9 91.2,491.3 91.9,492.6 92.6,493.8 93.2,495 93.9,496 94.6,497 95.2,497.9 95.9,498.7 96.5,499.4 97.2,500.1 97.9,500.7 98.5,501.1 99.2,501.5 99.9,501.8 100.5,502 101.2,502.2 101.9,502.2 102.5,502.1 103.2,501.9 103.9,501.6 104.5,501.1 105.2,500.5 105.9,499.8 106.5,498.8 107.2,497.7 107.8,496.4 108.5,494.8 109.2,493.1 109.8,491.1 110.5,488.9 111.2,486.5 111.8,483.9 112.5,481 113.2,478 113.8,475 114.5,471.8 115.2,468.4 115.8,465 116.5,461.5 117.1,457.9 117.8,454.3 118.5,450.7 119.1,447.1 119.8,443.6 120.5,440.1 121.1,436.7 121.8,433.5 122.5,430.4 123.1,427.4 123.8,424.5 124.5,421.7 125.1,418.9 125.8,416.3 126.5,413.7 127.1,411.1 127.8,408.6 128.4,406 129.1,403.5 129.8,400.9 130.4,398.4 131.1,395.9 131.8,393.4 132.4,390.8 133.1,388.3 133.8,385.9 134.4,383.6 135.1,381.4 135.8,379.4 136.4,377.5 137.1,375.7 137.7,374 138.4,372.4 139.1,371 139.7,369.7 140.4,368.5 141.1,367.5 141.7,366.5 142.4,365.7 143.1,365 143.7,364.3 144.4,363.8 145.1,363.5 145.7,363.2 146.4,363 147,362.9 147.7,362.9 148.4,363 149,363.3 149.7,363.6 150.4,364 151,364.5 151.7,365.1 152.4,365.8 153,366.6 153.7,367.4 154.4,368.4 155,369.4 155.7,370.5 156.4,371.7 157,373 157.7,374.3 158.3,375.8 159,377.3 159.7,378.8 160.3,380.5 161,382.2 161.7,384 162.3,385.8 163,387.8 163.7,389.7 164.3,391.8 165,393.9 165.7,396 166.3,398.2 167,400.7 167.6,403.1 168.3,405.6 169,408.1 169.6,410.6 170.3,413.1 171,415.7 171.6,418.2 172.3,420.7 173,423.2 173.6,425.7 174.3,428.1 175,430.4 175.6,432.6 176.3,434.8 177,437 177.6,439 178.3,440.9 178.9,442.8 179.6,444.5 180.3,446.2 180.9,447.8 181.6,449.3 182.3,450.8 182.9,452.2 183.6,453.7 184.3,455.1 184.9,456.6 185.6,458 186.3,459.4 186.9,460.7 187.6,462 188.2,463.3 188.9,464.5 189.6,465.6 190.2,466.6 190.9,467.6 191.6,468.5 192.2,469.3 192.9,470 193.6,470.7 194.2,471.3 194.9,471.8 195.6,472.3 196.2,472.7 196.9,473 197.6,473.3 198.2,473.5 198.9,473.7 199.5,473.8 200.2,473.8 200.9,473.8 201.5,473.8 202.2,473.7 202.9,473.5 203.5,473.3 204.2,473.1 204.9,472.8 205.5,472.5 206.2,472.2 206.9,471.8 207.5,471.4 208.2,470.9 208.8,470.5 209.5,470 210.2,469.4 210.8,468.9 211.5,468.3 212.2,467.7 212.8,467.1 213.5,466.5 214.2,465.9 214.8,465.2 215.5,464.5 216.2,463.9 216.8,463.2 217.5,462.5 218.2,461.8 218.8,461.1 219.5,460.4 220.1,459.8 220.8,459.1 221.5,458.4 222.1,457.7 222.8,457.1 223.5,456.4 224.1,455.8 224.8,455.1 225.5,454.5 226.1,453.9 226.8,453.2 227.5,452.6 228.1,452 228.8,451.4 229.4,450.8 230.1,450.2 230.8,449.7 231.4,449.1 232.1,448.5 232.8,448 233.4,447.4 234.1,446.9 234.8,446.4 235.4,445.9 236.1,445.3 236.8,444.8 237.4,444.4 238.1,443.9 238.8,443.4 239.4,442.9 240.1,442.5 240.7,442 241.4,441.6 242.1,441.2 242.7,440.8 243.4,440.3 244.1,439.8 244.7,439.4 245.4,439 246.1,438.6 246.7,438.2 247.4,437.7 248.1,437.3 248.7,437 249.4,436.8 250,436.3 250.7,436.4 251.4,436.5 252,436.2 252.7,436.2 253.4,435.7 254,435.3 254.7,435.3 255.4,435.4 256,435.3 256.7,435.4 257.4,435.3 258,435.8 258.7,435.8 259.4,435.9 260,435.4 260.7,434.4 261.3,433.7 262,434 262.7,433.9 263.3,433.4 264,433.6 264.7,433.8 265.3,433.5 266,433.8 266.7,434.1 267.3,434 268,433.4 268.7,433.1 269.3,432.9 270,433 270.6,433.2 271.3,433.2 272,432.8 272.6,432.4 273.3,432 274,432.2 274.6,431.8 275.3,432 276,431.2 276.6,430.7 277.3,431.3 278,431.4 278.6,431.7 279.3,431.7 279.9,431.5 280.6,431.6 281.3,430.6 281.9,430.9 282.6,430.4 283.3,429.8 283.9,429.7 284.6,429.7 285.3,430 285.9,430.3 286.6,430.2 287.3,430 287.9,429.2 288.6,429.6 289.3,430.4 289.9,430.6 290.6,431 291.2,430.8 291.9,430.8 292.6,431.6 293.2,431.3 293.9,431.5 294.6,431.7 295.2,431.2 295.9,431.6 296.6,431.6 297.2,431.3 297.9,431.9 298.6,432 299.2,432.1 299.9,432.5 300.5,432.7 301.2,432.5 301.9,433.2 302.5,432.7 303.2,432.2 303.9,432.7 304.5,432.7 305.2,432.9 305.9,432.6 306.5,432.8 307.2,432 307.9,432.7 308.5,433.1 309.2,433.6 309.9,434.5 310.5,433.7 311.2,433.5 311.8,433.3 312.5,432.5 313.2,432.1 313.8,432.4 314.5,432.2 315.2,431.7 315.8,431.4 316.5,431.1 317.2,431 317.8,430.7 318.5,430.2 319.2,430.3 319.8,430.6 320.5,430.6 321.1,430.8 321.8,430.8 322.5,430.6 323.1,431.3 323.8,431.8 324.5,431.3 325.1,430.8 325.8,430.2" fill="none" stroke="#b5d89a" stroke-width="1.4" stroke-linejoin="round" stroke-linecap="round" />
<path d="M60,454.9 60.7,454.8 61.3,454.8 62,454.8 62.7,454.8 63.3,454.9 64,455 64.7,455.2 65.3,455.3 66,455.6 66.6,455.8 67.3,456.1 68,456.4 68.6,456.8 69.3,457.1 70,457.6 70.6,458 71.3,458.4 72,458.8 72.6,459.3 73.3,459.8 74,460.3 74.6,460.8 75.3,461.4 75.9,462 76.6,462.7 77.3,463.4 77.9,464.1 78.6,464.9 79.3,465.8 79.9,466.7 80.6,467.7 81.3,468.7 81.9,469.9 82.6,471.1 83.3,472.4 83.9,473.9 84.6,475.4 85.3,477.1 85.9,478.8 86.6,480.5 87.2,482.3 87.9,484 88.6,485.7 89.2,487.4 89.9,488.9 90.6,490.4 91.2,491.8 91.9,493.1 92.6,494.4 93.2,495.5 93.9,496.6 94.6,497.6 95.2,498.5 95.9,499.3 96.5,500.1 97.2,500.7 97.9,501.3 98.5,501.8 99.2,502.2 99.9,502.5 100.5,502.7 101.2,502.8 101.9,502.8 102.5,502.8 103.2,502.6 103.9,502.2 104.5,501.8 105.2,501.2 105.9,500.4 106.5,499.4 107.2,498.3 107.8,497 108.5,495.4 109.2,493.7 109.8,491.7 110.5,489.5 111.2,487 111.8,484.4 112.5,481.5 113.2,478.5 113.8,475.4 114.5,472.2 115.2,468.8 115.8,465.3 116.5,461.8 117.1,458.2 117.8,454.6 118.5,450.9 119.1,447.3 119.8,443.7 120.5,440.2 121.1,436.8 121.8,433.5 122.5,430.3 123.1,427.3 123.8,424.3 124.5,421.5 125.1,418.7 125.8,416 126.5,413.4 127.1,410.7 127.8,408.2 128.4,405.6 129.1,403 129.8,400.4 130.4,397.8 131.1,395.3 131.8,392.7 132.4,390.1 133.1,387.6 133.8,385.1 134.4,382.8 135.1,380.5 135.8,378.4 136.4,376.5 137.1,374.7 137.7,373 138.4,371.4 139.1,369.9 139.7,368.6 140.4,367.4 141.1,366.3 141.7,365.4 142.4,364.5 143.1,363.8 143.7,363.2 144.4,362.7 145.1,362.3 145.7,362 146.4,361.8 147,361.7 147.7,361.7 148.4,361.8 149,362.1 149.7,362.4 150.4,362.8 151,363.3 151.7,363.9 152.4,364.6 153,365.4 153.7,366.3 154.4,367.3 155,368.3 155.7,369.4 156.4,370.7 157,372 157.7,373.3 158.3,374.8 159,376.3 159.7,377.9 160.3,379.6 161,381.3 161.7,383.1 162.3,385 163,387 163.7,389 164.3,391 165,393.2 165.7,395.4 166.3,397.6 167,400.1 167.6,402.6 168.3,405.1 169,407.7 169.6,410.2 170.3,412.8 171,415.4 171.6,417.9 172.3,420.5 173,423 173.6,425.5 174.3,428 175,430.3 175.6,432.6 176.3,434.9 177,437 177.6,439.1 178.3,441 178.9,442.9 179.6,444.6 180.3,446.3 180.9,447.9 181.6,449.5 182.3,451 182.9,452.4 183.6,453.9 184.3,455.4 184.9,456.9 185.6,458.3 186.3,459.7 186.9,461.1 187.6,462.4 188.2,463.7 188.9,464.9 189.6,466 190.2,467.1 190.9,468.1 191.6,469 192.2,469.8 192.9,470.5 193.6,471.2 194.2,471.8 194.9,472.4 195.6,472.8 196.2,473.2 196.9,473.6 197.6,473.9 198.2,474.1 198.9,474.3 199.5,474.4 200.2,474.4 200.9,474.4 201.5,474.4 202.2,474.3 202.9,474.1 203.5,474 204.2,473.7 204.9,473.5 205.5,473.2 206.2,472.8 206.9,472.4 207.5,472 208.2,471.6 208.8,471.1 209.5,470.6 210.2,470.1 210.8,469.5 211.5,468.9 212.2,468.4 212.8,467.7 213.5,467.1 214.2,466.5 214.8,465.8 215.5,465.1 216.2,464.5 216.8,463.8 217.5,463.1 218.2,462.4 218.8,461.7 219.5,461 220.1,460.3 220.8,459.6 221.5,458.9 222.1,458.3 222.8,457.6 223.5,456.9 224.1,456.3 224.8,455.6 225.5,455 226.1,454.3 226.8,453.7 227.5,453.1 228.1,452.4 228.8,451.8 229.4,451.2 230.1,450.6 230.8,450.1 231.4,449.5 232.1,448.9 232.8,448.3 233.4,447.8 234.1,447.2 234.8,446.7 235.4,446.2 236.1,445.7 236.8,445.2 237.4,444.7 238.1,444.2 238.8,443.7 239.4,443.2 240.1,442.8 240.7,442.3 241.4,441.9 242.1,441.4 242.7,441 243.4,440.7 244.1,440.4 244.7,440.1 245.4,439.9 246.1,439.8 246.7,439.5 247.4,439.1 248.1,438.6 248.7,438.5 249.4,438.2 250,437.4 250.7,437 251.4,436.5 252,435.8 252.7,435.5 253.4,435.3 254,434.7 254.7,434.3 255.4,433.9 256,433.3 256.7,433.7 257.4,433.5 258,433.2 258.7,433.1 259.4,432.9 260,432.3 260.7,432.1 261.3,431.3 262,430.9 262.7,429.8 263.3,429.8 264,430.2 264.7,431.1 265.3,430.8 266,430.9 266.7,431.1 267.3,431.1 268,430.8 268.7,431.5 269.3,431.5 270,431 270.6,431.1 271.3,431.4 272,431.3 272.6,431.6 273.3,431.5 274,431.4 274.6,432 275.3,431.7 276,431.6 276.6,432.5 277.3,432.4 278,432.7 278.6,433.1 279.3,433.2 279.9,433.3 280.6,432.6 281.3,432.6 281.9,432.9 282.6,432.8 283.3,433 283.9,433.1 284.6,433.9 285.3,433.4 285.9,433.4 286.6,433.6 287.3,433.6 287.9,433.6 288.6,433.7 289.3,433.6 289.9,433.6 290.6,433.1 291.2,432.5 291.9,432.4 292.6,432.1 293.2,431.5 293.9,431.6 294.6,431.7 295.2,431 295.9,431.9 296.6,431.5 297.2,431.6 297.9,431.1 298.6,430.9 299.2,431.3 299.9,431.1 300.5,430.8 301.2,429.5 301.9,429.8 302.5,429.5 303.2,429.8 303.9,429.9 304.5,429.5 305.2,429.4 305.9,429.5 306.5,428.8 307.2,429.1 307.9,428.9 308.5,429 309.2,429 309.9,428.9 310.5,428.7 311.2,429 311.8,429.4 312.5,428.9 313.2,429.2 313.8,429.1 314.5,429.1 315.2,429.1 315.8,428.4 316.5,428.8 317.2,429.3 317.8,430.1 318.5,430.2 319.2,430.5 319.8,430.4 320.5,430.9 321.1,430.7 321.8,430.4 322.5,430.3 323.1,430.7 323.8,430.6 324.5,430.9 325.1,430.7 325.8,430.8" fill="none" stroke="#a6d4b0" stroke-width="1.4" stroke-linejoin="round" stroke-linecap="round" />
<path d="M60,455.1 60.7,455 61.3,455 62,455 62.7,455.1 63.3,455.1 64,455.3 64.7,455.4 65.3,455.6 66,455.8 66.6,456.1 67.3,456.4 68,456.7 68.6,457 69.3,457.4 70,457.8 70.6,458.2 71.3,458.7 72,459.1 72.6,459.6 73.3,460.1 74,460.6 74.6,461.2 75.3,461.8 75.9,462.4 76.6,463.1 77.3,463.8 77.9,464.5 78.6,465.4 79.3,466.2 79.9,467.2 80.6,468.2 81.3,469.3 81.9,470.4 82.6,471.7 83.3,473 83.9,474.5 84.6,476.1 85.3,477.8 85.9,479.6 86.6,481.3 87.2,483.1 87.9,484.9 88.6,486.6 89.2,488.3 89.9,489.9 90.6,491.4 91.2,492.8 91.9,494.1 92.6,495.4 93.2,496.6 93.9,497.7 94.6,498.7 95.2,499.6 95.9,500.4 96.5,501.2 97.2,501.9 97.9,502.4 98.5,502.9 99.2,503.3 99.9,503.6 100.5,503.8 101.2,504 101.9,504 102.5,503.9 103.2,503.7 103.9,503.4 104.5,502.9 105.2,502.3 105.9,501.5 106.5,500.5 107.2,499.4 107.8,498 108.5,496.5 109.2,494.7 109.8,492.7 110.5,490.4 111.2,487.9 111.8,485.2 112.5,482.3 113.2,479.2 113.8,476.1 114.5,472.8 115.2,469.4 115.8,465.9 116.5,462.3 117.1,458.6 117.8,454.9 118.5,451.2 119.1,447.5 119.8,443.9 120.5,440.3 121.1,436.8 121.8,433.5 122.5,430.3 123.1,427.2 123.8,424.2 124.5,421.3 125.1,418.5 125.8,415.7 126.5,413 127.1,410.4 127.8,407.7 128.4,405.1 129.1,402.5 129.8,399.8 130.4,397.3 131.1,394.6 131.8,392 132.4,389.4 133.1,386.8 133.8,384.3 134.4,382 135.1,379.7 135.8,377.6 136.4,375.6 137.1,373.7 137.7,372 138.4,370.4 139.1,368.9 139.7,367.6 140.4,366.4 141.1,365.3 141.7,364.3 142.4,363.4 143.1,362.7 143.7,362.1 144.4,361.5 145.1,361.1 145.7,360.8 146.4,360.6 147,360.6 147.7,360.6 148.4,360.7 149,360.9 149.7,361.3 150.4,361.7 151,362.2 151.7,362.8 152.4,363.5 153,364.3 153.7,365.2 154.4,366.2 155,367.3 155.7,368.4 156.4,369.7 157,371 157.7,372.4 158.3,373.9 159,375.4 159.7,377 160.3,378.7 161,380.5 161.7,382.3 162.3,384.3 163,386.2 163.7,388.3 164.3,390.4 165,392.5 165.7,394.8 166.3,397.1 167,399.6 167.6,402.1 168.3,404.7 169,407.3 169.6,409.8 170.3,412.4 171,415.1 171.6,417.7 172.3,420.3 173,422.8 173.6,425.4 174.3,427.9 175,430.2 175.6,432.5 176.3,434.9 177,437 177.6,439.1 178.3,441.1 178.9,443 179.6,444.8 180.3,446.5 180.9,448.1 181.6,449.7 182.3,451.2 182.9,452.7 183.6,454.2 184.3,455.7 184.9,457.2 185.6,458.6 186.3,460.1 186.9,461.5 187.6,462.8 188.2,464.1 188.9,465.3 189.6,466.5 190.2,467.6 190.9,468.6 191.6,469.5 192.2,470.3 192.9,471.1 193.6,471.8 194.2,472.4 194.9,473 195.6,473.5 196.2,473.9 196.9,474.2 197.6,474.5 198.2,474.8 198.9,474.9 199.5,475.1 200.2,475.1 200.9,475.1 201.5,475.1 202.2,475 202.9,474.9 203.5,474.7 204.2,474.5 204.9,474.2 205.5,473.9 206.2,473.6 206.9,473.2 207.5,472.8 208.2,472.3 208.8,471.9 209.5,471.3 210.2,470.8 210.8,470.3 211.5,469.7 212.2,469.1 212.8,468.5 213.5,467.8 214.2,467.2 214.8,466.5 215.5,465.8 216.2,465.2 216.8,464.5 217.5,463.8 218.2,463.1 218.8,462.4 219.5,461.6 220.1,460.9 220.8,460.2 221.5,459.5 222.1,458.9 222.8,458.2 223.5,457.5 224.1,456.8 224.8,456.2 225.5,455.5 226.1,454.9 226.8,454.2 227.5,453.6 228.1,453 228.8,452.3 229.4,451.7 230.1,451.1 230.8,450.5 231.4,449.9 232.1,449.3 232.8,448.8 233.4,448.2 234.1,447.7 234.8,447.1 235.4,446.6 236.1,446 236.8,445.5 237.4,445 238.1,444.5 238.8,444 239.4,443.5 240.1,443.1 240.7,442.6 241.4,442.2 242.1,441.7 242.7,441.3 243.4,440.9 244.1,440.5 244.7,440.2 245.4,439.9 246.1,439.5 246.7,439.2 247.4,438.9 248.1,438.3 248.7,438.3 249.4,438.1 250,438 250.7,437.3 251.4,436.8 252,436.2 252.7,435.7 253.4,435.5 254,434.8 254.7,434.3 255.4,433.9 256,433.6 256.7,433.1 257.4,433.2 258,433 258.7,431.8 259.4,430.6 260,431.3 260.7,431.1 261.3,431.4 262,430.9 262.7,430.3 263.3,430.7 264,430.3 264.7,430.5 265.3,428.9 266,428.8 266.7,428.9 267.3,429.4 268,429.9 268.7,429.4 269.3,429.9 270,429.7 270.6,429.6 271.3,429.5 272,429.8 272.6,429.8 273.3,429.7 274,429.7 274.6,430.4 275.3,431.4 276,431.9 276.6,431.8 277.3,431.5 278,430.9 278.6,431 279.3,431.2 279.9,430.2 280.6,430.2 281.3,430.7 281.9,431.2 282.6,431.2 283.3,431.2 283.9,431.1 284.6,431.4 285.3,431.8 285.9,431.4 286.6,430.7 287.3,430.6 287.9,430.8 288.6,430.6 289.3,430.9 289.9,430.9 290.6,431.2 291.2,430 291.9,430 292.6,430.1 293.2,429.7 293.9,430.3 294.6,430.8 295.2,430.7 295.9,430.8 296.6,431.8 297.2,432.1 297.9,432 298.6,431.8 299.2,431.4 299.9,430.6 300.5,431 301.2,430.5 301.9,430.5 302.5,431 303.2,431.9 303.9,431.6 304.5,432 305.2,431.7 305.9,431.4 306.5,430.9 307.2,430.4 307.9,431.3 308.5,430.4 309.2,429.8 309.9,429.6 310.5,429.7 311.2,428.7 311.8,428.9 312.5,428.7 313.2,428.1 313.8,428.2 314.5,427.8 315.2,427.9 315.8,429 316.5,429.8 317.2,429.8 317.8,430 318.5,430.5 319.2,429.9 319.8,429.2 320.5,429.8 321.1,429.6 321.8,429.9 322.5,430.7 323.1,431.1 323.8,431.8 324.5,431.9 325.1,432.2 325.8,432.5" fill="none" stroke="#4f9e5e" stroke-width="1.4" stroke-linejoin="round" stroke-linecap="round" />
<path d="M60,457.9 60.7,457.8 61.3,457.8 62,457.8 62.7,457.8 63.3,457.9 64,458.1 64.7,458.2 65.3,458.4 66,458.7 66.6,459 67.3,459.3 68,459.7 68.6,460.1 69.3,460.5 70,461 70.6,461.5 71.3,462.1 72,462.6 72.6,463.2 73.3,463.9 74,464.6 74.6,465.3 75.3,466 75.9,466.8 76.6,467.7 77.3,468.6 77.9,469.5 78.6,470.6 79.3,471.7 79.9,472.9 80.6,474.2 81.3,475.5 81.9,477 82.6,478.6 83.3,480.2 83.9,482 84.6,483.9 85.3,485.9 85.9,488 86.6,490.1 87.2,492.2 87.9,494.3 88.6,496.4 89.2,498.3 89.9,500.2 90.6,502 91.2,503.7 91.9,505.3 92.6,506.8 93.2,508.2 93.9,509.5 94.6,510.7 95.2,511.8 95.9,512.8 96.5,513.7 97.2,514.5 97.9,515.1 98.5,515.7 99.2,516.2 99.9,516.6 100.5,516.8 101.2,517 101.9,517 102.5,516.9 103.2,516.7 103.9,516.3 104.5,515.7 105.2,515 105.9,514 106.5,512.9 107.2,511.5 107.8,509.9 108.5,508.1 109.2,505.9 109.8,503.6 110.5,500.9 111.2,497.9 111.8,494.7 112.5,491.3 113.2,487.6 113.8,483.7 114.5,479.7 115.2,475.5 115.8,471.3 116.5,466.9 117.1,462.6 117.8,458.2 118.5,453.8 119.1,449.5 119.8,445.3 120.5,441.2 121.1,437.2 121.8,433.4 122.5,429.7 123.1,426.2 123.8,422.9 124.5,419.7 125.1,416.6 125.8,413.6 126.5,410.7 127.1,407.8 127.8,405 128.4,402.1 129.1,399.4 129.8,396.6 130.4,393.7 131.1,390.9 131.8,388 132.4,385.1 133.1,382.3 133.8,379.6 134.4,377 135.1,374.5 135.8,372.2 136.4,370 137.1,368 137.7,366.1 138.4,364.3 139.1,362.7 139.7,361.3 140.4,359.9 141.1,358.7 141.7,357.6 142.4,356.7 143.1,355.9 143.7,355.2 144.4,354.6 145.1,354.2 145.7,353.8 146.4,353.6 147,353.5 147.7,353.6 148.4,353.7 149,354 149.7,354.3 150.4,354.8 151,355.4 151.7,356 152.4,356.8 153,357.7 153.7,358.7 154.4,359.7 155,360.9 155.7,362.2 156.4,363.5 157,365 157.7,366.5 158.3,368.1 159,369.8 159.7,371.6 160.3,373.4 161,375.4 161.7,377.4 162.3,379.5 163,381.7 163.7,383.9 164.3,386.2 165,388.6 165.7,391 166.3,393.5 167,396.1 167.6,398.7 168.3,401.4 169,404.1 169.6,406.8 170.3,409.6 171,412.5 171.6,415.3 172.3,418.2 173,421.1 173.6,424 174.3,426.8 175,429.6 175.6,432.3 176.3,434.8 177,437.3 177.6,439.7 178.3,442 178.9,444.2 179.6,446.4 180.3,448.4 180.9,450.4 181.6,452.4 182.3,454.3 182.9,456.2 183.6,458 184.3,459.8 184.9,461.5 185.6,463.3 186.3,465 186.9,466.7 187.6,468.4 188.2,470 188.9,471.5 189.6,473 190.2,474.3 190.9,475.6 191.6,476.8 192.2,478 192.9,479 193.6,479.9 194.2,480.8 194.9,481.6 195.6,482.3 196.2,482.9 196.9,483.5 197.6,483.9 198.2,484.3 198.9,484.7 199.5,484.9 200.2,485.1 200.9,485.3 201.5,485.4 202.2,485.4 202.9,485.3 203.5,485.2 204.2,485.1 204.9,484.9 205.5,484.7 206.2,484.4 206.9,484 207.5,483.6 208.2,483.2 208.8,482.8 209.5,482.3 210.2,481.7 210.8,481.1 211.5,480.5 212.2,479.9 212.8,479.3 213.5,478.6 214.2,477.9 214.8,477.1 215.5,476.4 216.2,475.6 216.8,474.8 217.5,474 218.2,473.2 218.8,472.4 219.5,471.6 220.1,470.8 220.8,469.9 221.5,469.1 222.1,468.3 222.8,467.4 223.5,466.6 224.1,465.8 224.8,465 225.5,464.1 226.1,463.3 226.8,462.6 227.5,461.8 228.1,461 228.8,460.2 229.4,459.5 230.1,458.7 230.8,458 231.4,457.2 232.1,456.5 232.8,455.8 233.4,455.1 234.1,454.3 234.8,453.7 235.4,453 236.1,452.3 236.8,451.6 237.4,451 238.1,450.3 238.8,449.7 239.4,449.1 240.1,448.5 240.7,447.8 241.4,447.3 242.1,446.7 242.7,446.1 243.4,445.5 244.1,445 244.7,444.4 245.4,443.9 246.1,443.4 246.7,442.9 247.4,442.4 248.1,441.9 248.7,441.4 249.4,441 250,440.5 250.7,440.1 251.4,439.7 252,439.3 252.7,438.9 253.4,438.5 254,438.1 254.7,437.8 255.4,437.4 256,437.1 256.7,436.8 257.4,436.5 258,436.2 258.7,435.9 259.4,435.6 260,435.4 260.7,435.1 261.3,434.9 262,434.7 262.7,434.4 263.3,434.2 264,434 264.7,433.9 265.3,433.7 266,433.5 266.7,433.4 267.3,433.2 268,433.1 268.7,433 269.3,432.8 270,432.7 270.6,432.6 271.3,432.5 272,432.5 272.6,432.4 273.3,432.3 274,432.3 274.6,432.2 275.3,432.2 276,432.2 276.6,432.1 277.3,432.1 278,432.1 278.6,432.1 279.3,432.1 279.9,432.1 280.6,432.1 281.3,432.1 281.9,432.1 282.6,432.1 283.3,432.1 283.9,432.1 284.6,432.1 285.3,432.1 285.9,432.2 286.6,432.2 287.3,432.2 287.9,432.2 288.6,432.2 289.3,432.2 289.9,432.3 290.6,432.3 291.2,432.3 291.9,432.3 292.6,432.3 293.2,432.3 293.9,432.3 294.6,432.3 295.2,432.3 295.9,432.3 296.6,432.3 297.2,432.2 297.9,432.2 298.6,432.2 299.2,432.1 299.9,432.1 300.5,432 301.2,432 301.9,431.9 302.5,431.9 303.2,431.8 303.9,431.8 304.5,431.7 305.2,431.6 305.9,431.6 306.5,431.5 307.2,431.4 307.9,431.4 308.5,431.3 309.2,431.2 309.9,431.2 310.5,431.1 311.2,431 311.8,431 312.5,430.9 313.2,430.8 313.8,430.8 314.5,430.7 315.2,430.7 315.8,430.6 316.5,430.6 317.2,430.5 317.8,430.5 318.5,430.4 319.2,430.4 319.8,430.4 320.5,430.3 321.1,430.3 321.8,430.3 322.5,430.3 323.1,430.3 323.8,430.3 324.5,430.3 325.1,430.3 325.8,430.3" fill="none" stroke="#2e6b3d" stroke-width="1.7" stroke-linejoin="round" stroke-linecap="round" />
<rect x="416" y="313" width="267.5" height="215.5" fill="none" stroke="#000" stroke-width="1.6"/>
<line x1="684.1" y1="312.2" x2="684.1" y2="529.3" stroke="#000" stroke-width="1.9" />
<line x1="411.8" y1="528.6" x2="416" y2="528.6" stroke="#000" stroke-width="1.6" />
<line x1="411.8" y1="489.5" x2="416" y2="489.5" stroke="#000" stroke-width="1.6" />
<line x1="411.8" y1="450.4" x2="416" y2="450.4" stroke="#000" stroke-width="1.6" />
<line x1="411.8" y1="411.3" x2="416" y2="411.3" stroke="#000" stroke-width="1.6" />
<line x1="411.8" y1="372.2" x2="416" y2="372.2" stroke="#000" stroke-width="1.6" />
<line x1="411.8" y1="333.1" x2="416" y2="333.1" stroke="#000" stroke-width="1.6" />
<line x1="413.8" y1="509.05" x2="416" y2="509.05" stroke="#000" stroke-width="1.6" />
<line x1="413.8" y1="469.95" x2="416" y2="469.95" stroke="#000" stroke-width="1.6" />
<line x1="413.8" y1="430.85" x2="416" y2="430.85" stroke="#000" stroke-width="1.6" />
<line x1="413.8" y1="391.75" x2="416" y2="391.75" stroke="#000" stroke-width="1.6" />
<line x1="413.8" y1="352.65" x2="416" y2="352.65" stroke="#000" stroke-width="1.6" />
<line x1="438" y1="528.5" x2="438" y2="532.7" stroke="#000" stroke-width="1.6" />
<line x1="494" y1="528.5" x2="494" y2="532.7" stroke="#000" stroke-width="1.6" />
<line x1="550" y1="528.5" x2="550" y2="532.7" stroke="#000" stroke-width="1.6" />
<line x1="606" y1="528.5" x2="606" y2="532.7" stroke="#000" stroke-width="1.6" />
<line x1="662" y1="528.5" x2="662" y2="532.7" stroke="#000" stroke-width="1.6" />
<line x1="466" y1="528.5" x2="466" y2="530.7" stroke="#000" stroke-width="1.6" />
<line x1="522" y1="528.5" x2="522" y2="530.7" stroke="#000" stroke-width="1.6" />
<line x1="578" y1="528.5" x2="578" y2="530.7" stroke="#000" stroke-width="1.6" />
<line x1="634" y1="528.5" x2="634" y2="530.7" stroke="#000" stroke-width="1.6" />
<text x="406.2" y="533.1" font-size="12.7" text-anchor="end" font-weight="bold" >–8</text>
<text x="406.2" y="494" font-size="12.7" text-anchor="end" font-weight="bold" >0</text>
<text x="406.2" y="454.9" font-size="12.7" text-anchor="end" font-weight="bold" >8</text>
<text x="406.2" y="415.8" font-size="12.7" text-anchor="end" font-weight="bold" >16</text>
<text x="406.2" y="376.7" font-size="12.7" text-anchor="end" font-weight="bold" >24</text>
<text x="406.2" y="337.6" font-size="12.7" text-anchor="end" font-weight="bold" >32</text>
<text x="438" y="546.7" font-size="12.7" text-anchor="middle" font-weight="bold" >0</text>
<text x="494" y="546.7" font-size="12.7" text-anchor="middle" font-weight="bold" >500</text>
<text x="550" y="546.7" font-size="12.7" text-anchor="middle" font-weight="bold" >1000</text>
<text x="606" y="546.7" font-size="12.7" text-anchor="middle" font-weight="bold" >1500</text>
<text x="662" y="546.7" font-size="12.7" text-anchor="middle" font-weight="bold" >2000</text>
<text x="550" y="565.7" font-size="13" text-anchor="middle" font-weight="bold" >Concentration of H<tspan font-size="8.84" dy="3.51">2</tspan><tspan dy="-3.51">S </tspan><tspan font-weight="normal">(μ</tspan>M<tspan font-weight="normal">)</tspan></text>
<text transform="translate(379.4,421.2) rotate(-90)" font-size="13" text-anchor="middle" font-weight="bold">ΔCD (mdeg)</text>
<path d="M437.7,353.5 437.9,360 438.4,367.5 439.3,375 440.6,382 440.8,384.9 441.1,387.4 441.4,389.8 441.7,392.2 442,394.4 442.4,396.6 442.7,398.7 443,400.8 443.3,402.8 443.6,404.7 443.9,406.6 444.2,408.4 444.5,410.1 444.8,411.8 445.2,413.5 445.5,415.1 445.8,416.6 446.1,418.1 446.4,419.6 446.7,421 447,422.4 447.3,423.7 447.6,425 448,426.3 448.3,427.5 448.6,428.7 448.9,429.9 449.2,431 449.5,432.1 449.8,433.2 450.1,434.2 450.4,435.2 450.8,436.2 451.1,437.1 451.4,438.1 451.7,439 452,439.9 452.3,440.7 452.6,441.5 452.9,442.4 453.2,443.2 453.6,443.9 453.9,444.7 454.2,445.4 454.5,446.1 454.8,446.8 455.1,447.5 455.4,448.2 455.7,448.9 456,449.5 456.4,450.1 456.7,450.7 457,451.3 457.3,451.9 457.6,452.5 457.9,453 458.2,453.6 458.5,454.1 458.8,454.6 459.2,455.2 459.5,455.7 459.8,456.1 460.1,456.6 460.4,457.1 460.7,457.6 461,458 461.3,458.5 461.6,458.9 462,459.3 462.3,459.8 462.6,460.2 462.9,460.6 463.2,461 463.5,461.4 463.8,461.8 464.1,462.2 464.4,462.5 464.8,462.9 465.1,463.3 465.4,463.6 465.7,464 466,464.3 466.3,464.7 466.6,465 466.9,465.3 467.2,465.6 467.6,466 467.9,466.3 468.2,466.6 468.5,466.9 468.8,467.2 469.1,467.5 469.4,467.8 469.7,468.1 470,468.4 470.4,468.7 470.7,468.9 471,469.2 471.3,469.5 471.6,469.8 471.6,469.8 472.9,470.8 474.2,471.9 475.4,472.9 476.7,473.8 478,474.7 479.3,475.6 480.5,476.4 481.8,477.2 483.1,478 484.4,478.8 485.7,479.5 486.9,480.2 488.2,480.9 489.5,481.6 490.8,482.3 492,482.9 493.3,483.5 494.6,484.1 495.9,484.7 497.2,485.3 498.4,485.9 499.7,486.4 501,486.9 502.3,487.5 503.5,488 504.8,488.5 506.1,488.9 507.4,489.4 508.7,489.9 509.9,490.3 511.2,490.7 512.5,491.2 513.8,491.6 515,492 516.3,492.4 517.6,492.8 518.9,493.2 520.2,493.5 521.4,493.9 522.7,494.2 524,494.6 525.3,494.9 526.5,495.3 527.8,495.6 529.1,495.9 530.4,496.2 531.7,496.5 532.9,496.8 534.2,497.1 535.5,497.4 536.8,497.6 538,497.9 539.3,498.2 540.6,498.4 541.9,498.7 543.2,498.9 544.4,499.1 545.7,499.4 547,499.6 548.3,499.8 549.5,500 550.8,500.2 552.1,500.5 553.4,500.7 554.7,500.9 555.9,501 557.2,501.2 558.5,501.4 559.8,501.6 561,501.8 562.3,501.9 563.6,502.1 564.9,502.3 566.2,502.4 567.4,502.6 568.7,502.7 570,502.9 571.3,503 572.6,503.2 573.8,503.3 575.1,503.4 576.4,503.6 577.7,503.7 578.9,503.8 580.2,504 581.5,504.1 582.8,504.2 584.1,504.3 585.3,504.4 586.6,504.5 587.9,504.6 589.2,504.7 590.4,504.8 591.7,504.9 593,505 594.3,505.1 595.6,505.2 596.8,505.3 598.1,505.4 599.4,505.5 600.7,505.6 601.9,505.7 603.2,505.8 604.5,505.8 605.8,505.9 607.1,506 608.3,506.1 609.6,506.1 610.9,506.2 612.2,506.3 613.4,506.3 614.7,506.4 616,506.5 617.3,506.5 618.6,506.6 619.8,506.6 621.1,506.7 622.4,506.8 623.7,506.8 624.9,506.9 626.2,506.9 627.5,507 628.8,507 630.1,507.1 631.3,507.1 632.6,507.2 633.9,507.2 635.2,507.3 636.4,507.3 637.7,507.4 639,507.4 640.3,507.4 641.6,507.5 642.8,507.5 644.1,507.6 645.4,507.6 646.7,507.6 647.9,507.7 649.2,507.7 650.5,507.7 651.8,507.8 653.1,507.8 654.3,507.8 655.6,507.9 656.9,507.9 658.2,507.9 659.4,508 660.7,508 662,508" fill="none" stroke="#2e8a5e" stroke-width="2.0" stroke-linejoin="round" stroke-linecap="round" />
<circle cx="437.89" cy="353.87" r="3.6" fill="url(#ball)"/>
<ellipse cx="437.19" cy="353.97" rx="1.3" ry="0.8" fill="#d0c8ee" opacity="0.3"/>
<circle cx="438" cy="371.71" r="3.6" fill="url(#ball)"/>
<ellipse cx="437.3" cy="371.81" rx="1.3" ry="0.8" fill="#d0c8ee" opacity="0.3"/>
<circle cx="438.06" cy="373.67" r="3.6" fill="url(#ball)"/>
<ellipse cx="437.36" cy="373.77" rx="1.3" ry="0.8" fill="#d0c8ee" opacity="0.3"/>
<circle cx="438.11" cy="372.2" r="3.6" fill="url(#ball)"/>
<ellipse cx="437.41" cy="372.3" rx="1.3" ry="0.8" fill="#d0c8ee" opacity="0.3"/>
<circle cx="438.22" cy="372.2" r="3.6" fill="url(#ball)"/>
<ellipse cx="437.52" cy="372.3" rx="1.3" ry="0.8" fill="#d0c8ee" opacity="0.3"/>
<circle cx="438.45" cy="373.67" r="3.6" fill="url(#ball)"/>
<ellipse cx="437.75" cy="373.77" rx="1.3" ry="0.8" fill="#d0c8ee" opacity="0.3"/>
<circle cx="438.9" cy="373.18" r="3.6" fill="url(#ball)"/>
<ellipse cx="438.2" cy="373.28" rx="1.3" ry="0.8" fill="#d0c8ee" opacity="0.3"/>
<circle cx="439.12" cy="373.42" r="3.6" fill="url(#ball)"/>
<ellipse cx="438.42" cy="373.52" rx="1.3" ry="0.8" fill="#d0c8ee" opacity="0.3"/>
<circle cx="440.24" cy="376.6" r="3.6" fill="url(#ball)"/>
<ellipse cx="439.54" cy="376.7" rx="1.3" ry="0.8" fill="#d0c8ee" opacity="0.3"/>
<circle cx="442.48" cy="394.19" r="3.6" fill="url(#ball)"/>
<ellipse cx="441.78" cy="394.29" rx="1.3" ry="0.8" fill="#d0c8ee" opacity="0.3"/>
<circle cx="444.72" cy="410.81" r="3.6" fill="url(#ball)"/>
<ellipse cx="444.02" cy="410.91" rx="1.3" ry="0.8" fill="#d0c8ee" opacity="0.3"/>
<circle cx="446.96" cy="415.21" r="3.6" fill="url(#ball)"/>
<ellipse cx="446.26" cy="415.31" rx="1.3" ry="0.8" fill="#d0c8ee" opacity="0.3"/>
<circle cx="449.2" cy="431.83" r="3.6" fill="url(#ball)"/>
<ellipse cx="448.5" cy="431.93" rx="1.3" ry="0.8" fill="#d0c8ee" opacity="0.3"/>
<circle cx="460.4" cy="462.13" r="3.6" fill="url(#ball)"/>
<ellipse cx="459.7" cy="462.23" rx="1.3" ry="0.8" fill="#d0c8ee" opacity="0.3"/>
<circle cx="505.2" cy="489.99" r="3.6" fill="url(#ball)"/>
<ellipse cx="504.5" cy="490.09" rx="1.3" ry="0.8" fill="#d0c8ee" opacity="0.3"/>
<circle cx="550" cy="504.16" r="3.6" fill="url(#ball)"/>
<ellipse cx="549.3" cy="504.26" rx="1.3" ry="0.8" fill="#d0c8ee" opacity="0.3"/>
<circle cx="662" cy="508.81" r="3.6" fill="url(#ball)"/>
<ellipse cx="661.3" cy="508.91" rx="1.3" ry="0.8" fill="#d0c8ee" opacity="0.3"/>
<rect x="508.8" y="328.0" width="156.1" height="123.7" fill="#fff" stroke="#000" stroke-width="1.5"/>
<line x1="505.8" y1="436.2" x2="508.8" y2="436.2" stroke="#000" stroke-width="1.3" />
<line x1="505.8" y1="405.5" x2="508.8" y2="405.5" stroke="#000" stroke-width="1.3" />
<line x1="505.8" y1="374.8" x2="508.8" y2="374.8" stroke="#000" stroke-width="1.3" />
<line x1="505.8" y1="344.1" x2="508.8" y2="344.1" stroke="#000" stroke-width="1.3" />
<line x1="507.1" y1="451.55" x2="508.8" y2="451.55" stroke="#000" stroke-width="1.3" />
<line x1="507.1" y1="420.85" x2="508.8" y2="420.85" stroke="#000" stroke-width="1.3" />
<line x1="507.1" y1="390.15" x2="508.8" y2="390.15" stroke="#000" stroke-width="1.3" />
<line x1="507.1" y1="359.45" x2="508.8" y2="359.45" stroke="#000" stroke-width="1.3" />
<line x1="507.1" y1="328.75" x2="508.8" y2="328.75" stroke="#000" stroke-width="1.3" />
<line x1="522.6" y1="451.7" x2="522.6" y2="454.3" stroke="#000" stroke-width="1.3" />
<line x1="548.48" y1="451.7" x2="548.48" y2="454.3" stroke="#000" stroke-width="1.3" />
<line x1="574.36" y1="451.7" x2="574.36" y2="454.3" stroke="#000" stroke-width="1.3" />
<line x1="600.24" y1="451.7" x2="600.24" y2="454.3" stroke="#000" stroke-width="1.3" />
<line x1="626.12" y1="451.7" x2="626.12" y2="454.3" stroke="#000" stroke-width="1.3" />
<line x1="652" y1="451.7" x2="652" y2="454.3" stroke="#000" stroke-width="1.3" />
<line x1="509.66" y1="451.7" x2="509.66" y2="453.2" stroke="#000" stroke-width="1.3" />
<line x1="535.54" y1="451.7" x2="535.54" y2="453.2" stroke="#000" stroke-width="1.3" />
<line x1="561.42" y1="451.7" x2="561.42" y2="453.2" stroke="#000" stroke-width="1.3" />
<line x1="587.3" y1="451.7" x2="587.3" y2="453.2" stroke="#000" stroke-width="1.3" />
<line x1="613.18" y1="451.7" x2="613.18" y2="453.2" stroke="#000" stroke-width="1.3" />
<line x1="639.06" y1="451.7" x2="639.06" y2="453.2" stroke="#000" stroke-width="1.3" />
<line x1="664.94" y1="451.7" x2="664.94" y2="453.2" stroke="#000" stroke-width="1.3" />
<text x="504" y="439.4" font-size="9" text-anchor="end" font-weight="bold" >12</text>
<text x="504" y="408.7" font-size="9" text-anchor="end" font-weight="bold" >16</text>
<text x="504" y="378" font-size="9" text-anchor="end" font-weight="bold" >20</text>
<text x="504" y="347.3" font-size="9" text-anchor="end" font-weight="bold" >24</text>
<text x="522.6" y="465.3" font-size="9" text-anchor="middle" font-weight="bold" >0</text>
<text x="548.48" y="465.3" font-size="9" text-anchor="middle" font-weight="bold" >20</text>
<text x="574.36" y="465.3" font-size="9" text-anchor="middle" font-weight="bold" >40</text>
<text x="600.24" y="465.3" font-size="9" text-anchor="middle" font-weight="bold" >60</text>
<text x="626.12" y="465.3" font-size="9" text-anchor="middle" font-weight="bold" >80</text>
<text x="652" y="465.3" font-size="9" text-anchor="middle" font-weight="bold" >100</text>
<text x="587.1" y="478.3" font-size="9.2" text-anchor="middle" font-weight="bold" >Concentration of H<tspan font-size="6.26" dy="2.48">2</tspan><tspan dy="-2.48">S </tspan><tspan font-weight="normal">(μ</tspan>M<tspan font-weight="normal">)</tspan></text>
<text transform="translate(483.6,389) rotate(-90)" font-size="9" text-anchor="middle" font-weight="bold">ΔCD (mdeg)</text>
<circle cx="522.6" cy="343.33" r="2.8" fill="url(#ball2)"/>
<circle cx="522.6" cy="346.4" r="2.8" fill="url(#ball2)"/>
<circle cx="524.15" cy="344.1" r="2.8" fill="url(#ball2)"/>
<circle cx="527.52" cy="344.1" r="2.8" fill="url(#ball2)"/>
<circle cx="532.31" cy="346.4" r="2.8" fill="url(#ball2)"/>
<circle cx="534.89" cy="345.63" r="2.8" fill="url(#ball2)"/>
<circle cx="548.48" cy="351.01" r="2.8" fill="url(#ball2)"/>
<circle cx="574.36" cy="378.64" r="2.8" fill="url(#ball2)"/>
<circle cx="600.24" cy="404.73" r="2.8" fill="url(#ball2)"/>
<circle cx="626.12" cy="411.64" r="2.8" fill="url(#ball2)"/>
<circle cx="652" cy="437.73" r="2.8" fill="url(#ball2)"/>
<path d="M522.2,342.9 652,431.9" fill="none" stroke="#2e8a5e" stroke-width="1.5" stroke-linejoin="round" stroke-linecap="round" />
</svg>
</body></html>
